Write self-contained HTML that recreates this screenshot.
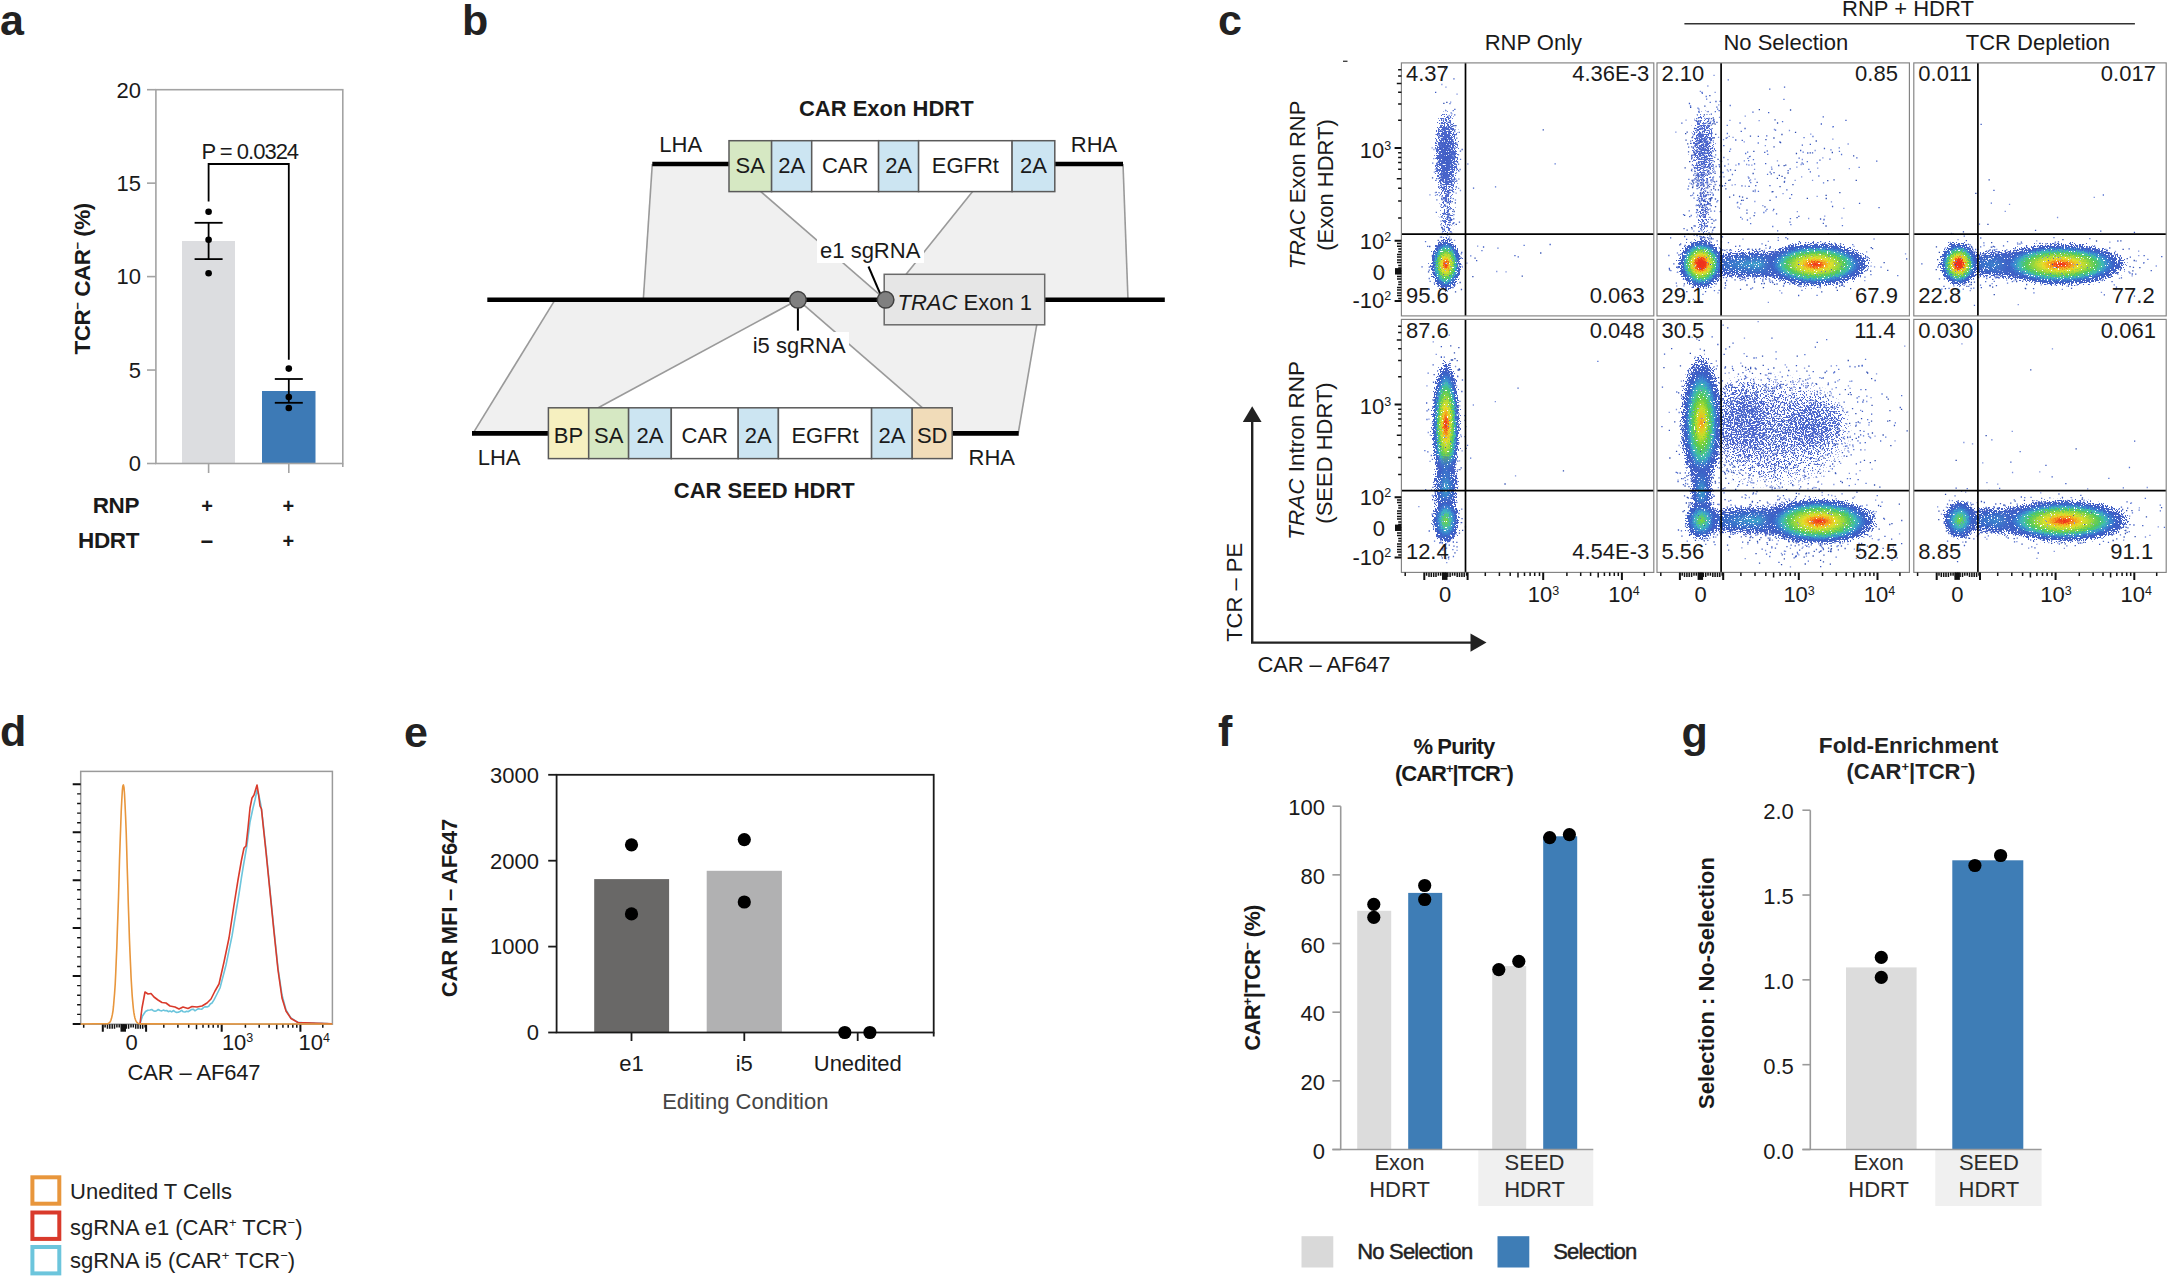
<!DOCTYPE html>
<html lang="en"><head><meta charset="utf-8"><title>Figure</title>
<style>
html,body{margin:0;padding:0;background:#fff;}
body{width:2168px;height:1276px;overflow:hidden;}
svg{display:block;font-family:"Liberation Sans", Arial, sans-serif;}
text{white-space:pre;}
</style></head><body>
<svg width="2168" height="1276" viewBox="0 0 2168 1276">
<rect width="2168" height="1276" fill="#fff"/>
<text x="0" y="34.6" font-size="43" text-anchor="start" font-weight="bold" fill="#222">a</text>
<text x="462" y="34.6" font-size="43" text-anchor="start" font-weight="bold" fill="#222">b</text>
<text x="1218" y="34.9" font-size="43" text-anchor="start" font-weight="bold" fill="#222">c</text>
<text x="0" y="746" font-size="43" text-anchor="start" font-weight="bold" fill="#222">d</text>
<text x="404" y="746.5" font-size="43" text-anchor="start" font-weight="bold" fill="#222">e</text>
<text x="1218" y="745.6" font-size="43" text-anchor="start" font-weight="bold" fill="#222">f</text>
<text x="1681.5" y="747" font-size="43" text-anchor="start" font-weight="bold" fill="#222">g</text>
<rect x="182" y="241" width="53" height="222.5" fill="#dcdde0" stroke="none" stroke-width="1"/>
<rect x="262" y="391" width="53.5" height="72.5" fill="#3d7ab6" stroke="none" stroke-width="1"/>
<rect x="155.9" y="89.7" width="186.9" height="373.8" fill="none" stroke="#a3a3a3" stroke-width="1.6"/>
<line x1="147" y1="463.5" x2="155.9" y2="463.5" stroke="#a3a3a3" stroke-width="1.6"/>
<text x="141" y="471.3" font-size="22" text-anchor="end" fill="#1a1a1a">0</text>
<line x1="147" y1="370.05" x2="155.9" y2="370.05" stroke="#a3a3a3" stroke-width="1.6"/>
<text x="141" y="377.85" font-size="22" text-anchor="end" fill="#1a1a1a">5</text>
<line x1="147" y1="276.6" x2="155.9" y2="276.6" stroke="#a3a3a3" stroke-width="1.6"/>
<text x="141" y="284.40000000000003" font-size="22" text-anchor="end" fill="#1a1a1a">10</text>
<line x1="147" y1="183.14999999999998" x2="155.9" y2="183.14999999999998" stroke="#a3a3a3" stroke-width="1.6"/>
<text x="141" y="190.95" font-size="22" text-anchor="end" fill="#1a1a1a">15</text>
<line x1="147" y1="89.69999999999999" x2="155.9" y2="89.69999999999999" stroke="#a3a3a3" stroke-width="1.6"/>
<text x="141" y="97.49999999999999" font-size="22" text-anchor="end" fill="#1a1a1a">20</text>
<line x1="208.6" y1="463.5" x2="208.6" y2="473" stroke="#a3a3a3" stroke-width="1.6"/>
<line x1="288.8" y1="463.5" x2="288.8" y2="473" stroke="#a3a3a3" stroke-width="1.6"/>
<line x1="342.8" y1="463.5" x2="342.8" y2="467" stroke="#a3a3a3" stroke-width="1.6"/>
<path d="M208.6 201.5V164H288.8V359.7" fill="none" stroke="#000" stroke-width="1.8"/>
<text x="249.8" y="158.6" font-size="22" text-anchor="middle" fill="#1a1a1a" letter-spacing="-1">P = 0.0324</text>
<line x1="208.6" y1="222.8" x2="208.6" y2="259.1" stroke="#000" stroke-width="1.8"/>
<line x1="194.6" y1="222.8" x2="222.6" y2="222.8" stroke="#000" stroke-width="1.8"/>
<line x1="194.6" y1="259.1" x2="222.6" y2="259.1" stroke="#000" stroke-width="1.8"/>
<line x1="288.8" y1="379" x2="288.8" y2="402.8" stroke="#000" stroke-width="1.8"/>
<line x1="274.8" y1="379" x2="302.8" y2="379" stroke="#000" stroke-width="1.8"/>
<line x1="274.8" y1="402.8" x2="302.8" y2="402.8" stroke="#000" stroke-width="1.8"/>
<circle cx="208.6" cy="211.7" r="3.3" fill="#000" stroke="none" stroke-width="1"/>
<circle cx="208.6" cy="239.8" r="3.3" fill="#000" stroke="none" stroke-width="1"/>
<circle cx="208.6" cy="273.3" r="3.3" fill="#000" stroke="none" stroke-width="1"/>
<circle cx="288.8" cy="368.6" r="3.3" fill="#000" stroke="none" stroke-width="1"/>
<circle cx="288.8" cy="397" r="3.3" fill="#000" stroke="none" stroke-width="1"/>
<circle cx="288.8" cy="408" r="3.3" fill="#000" stroke="none" stroke-width="1"/>
<text x="89.6" y="278.8" font-size="22.5" text-anchor="middle" font-weight="bold" fill="#1a1a1a" transform="rotate(-90 89.6 278.8)" letter-spacing="-0.5">TCR<tspan dy="-8" font-size="13">−</tspan><tspan dy="8"> CAR</tspan><tspan dy="-8" font-size="13">−</tspan><tspan dy="8"> (%)</tspan></text>
<text x="139" y="512.8" font-size="22.5" text-anchor="end" font-weight="bold" fill="#1a1a1a" letter-spacing="-0.4">RNP</text>
<text x="139" y="547.5" font-size="22.5" text-anchor="end" font-weight="bold" fill="#1a1a1a" letter-spacing="-0.4">HDRT</text>
<text x="207" y="512.5" font-size="20" text-anchor="middle" font-weight="bold" fill="#1a1a1a">+</text>
<text x="288.4" y="512.5" font-size="20" text-anchor="middle" font-weight="bold" fill="#1a1a1a">+</text>
<text x="207" y="549" font-size="22" text-anchor="middle" font-weight="bold" fill="#1a1a1a">−</text>
<text x="288.4" y="547.5" font-size="20" text-anchor="middle" font-weight="bold" fill="#1a1a1a">+</text>
<path d="M652.3 164H761V191.6L885.6 299.8H643.3Z" fill="#f0f0f0" stroke="none"/>
<path d="M1123 164H972.6V191.6L885.6 299.8H1128Z" fill="#f0f0f0" stroke="none"/>
<path d="M473 433.4L555 299.8H798L598.2 407.8V433.4Z" fill="#f0f0f0"/>
<path d="M1018.2 433.4L1041 299.8H798L922.5 407.8V433.4Z" fill="#f0f0f0"/>
<line x1="652.3" y1="164" x2="643.3" y2="299.8" stroke="#9a9a9a" stroke-width="1.6"/>
<line x1="1123" y1="164" x2="1128" y2="299.8" stroke="#9a9a9a" stroke-width="1.6"/>
<line x1="760.8" y1="191.6" x2="885.6" y2="299.8" stroke="#9a9a9a" stroke-width="1.6"/>
<line x1="972.6" y1="191.6" x2="885.6" y2="299.8" stroke="#9a9a9a" stroke-width="1.6"/>
<line x1="473" y1="433.4" x2="555" y2="299.8" stroke="#9a9a9a" stroke-width="1.6"/>
<line x1="598.2" y1="407.8" x2="798" y2="299.8" stroke="#9a9a9a" stroke-width="1.6"/>
<line x1="922.5" y1="407.8" x2="798" y2="299.8" stroke="#9a9a9a" stroke-width="1.6"/>
<line x1="1018.2" y1="433.4" x2="1041" y2="299.8" stroke="#9a9a9a" stroke-width="1.6"/>
<line x1="487.3" y1="299.8" x2="1164.8" y2="299.8" stroke="#000" stroke-width="4.6"/>
<rect x="884.2" y="274.3" width="160.5" height="50.5" fill="#e6e6e6" stroke="#6a6a6a" stroke-width="1.5"/>
<line x1="652.3" y1="164" x2="729" y2="164" stroke="#000" stroke-width="4.6"/>
<line x1="1054.8" y1="164" x2="1123" y2="164" stroke="#000" stroke-width="4.6"/>
<line x1="472" y1="433.4" x2="548.4" y2="433.4" stroke="#000" stroke-width="4.6"/>
<line x1="952.2" y1="433.4" x2="1018.7" y2="433.4" stroke="#000" stroke-width="4.6"/>
<rect x="729" y="140.7" width="42.60000000000002" height="50.900000000000006" fill="#d6e8c3" stroke="#5a5a5a" stroke-width="1.5"/>
<text x="750.3" y="172.5" font-size="22" text-anchor="middle" fill="#1a1a1a">SA</text>
<rect x="771.6" y="140.7" width="40.10000000000002" height="50.900000000000006" fill="#cce5f2" stroke="#5a5a5a" stroke-width="1.5"/>
<text x="791.6500000000001" y="172.5" font-size="22" text-anchor="middle" fill="#1a1a1a">2A</text>
<rect x="811.7" y="140.7" width="66.89999999999998" height="50.900000000000006" fill="#fff" stroke="#5a5a5a" stroke-width="1.5"/>
<text x="845.1500000000001" y="172.5" font-size="22" text-anchor="middle" fill="#1a1a1a">CAR</text>
<rect x="878.6" y="140.7" width="40.0" height="50.900000000000006" fill="#cce5f2" stroke="#5a5a5a" stroke-width="1.5"/>
<text x="898.6" y="172.5" font-size="22" text-anchor="middle" fill="#1a1a1a">2A</text>
<rect x="918.6" y="140.7" width="93.5" height="50.900000000000006" fill="#fff" stroke="#5a5a5a" stroke-width="1.5"/>
<text x="965.35" y="172.5" font-size="22" text-anchor="middle" fill="#1a1a1a">EGFRt</text>
<rect x="1012.1" y="140.7" width="42.69999999999993" height="50.900000000000006" fill="#cce5f2" stroke="#5a5a5a" stroke-width="1.5"/>
<text x="1033.45" y="172.5" font-size="22" text-anchor="middle" fill="#1a1a1a">2A</text>
<rect x="548.4" y="407.8" width="40.30000000000007" height="50.80000000000001" fill="#f6f0c0" stroke="#5a5a5a" stroke-width="1.5"/>
<text x="568.55" y="442.6" font-size="22" text-anchor="middle" fill="#1a1a1a">BP</text>
<rect x="588.7" y="407.8" width="39.89999999999998" height="50.80000000000001" fill="#d6e8c3" stroke="#5a5a5a" stroke-width="1.5"/>
<text x="608.6500000000001" y="442.6" font-size="22" text-anchor="middle" fill="#1a1a1a">SA</text>
<rect x="628.6" y="407.8" width="42.69999999999993" height="50.80000000000001" fill="#cce5f2" stroke="#5a5a5a" stroke-width="1.5"/>
<text x="649.95" y="442.6" font-size="22" text-anchor="middle" fill="#1a1a1a">2A</text>
<rect x="671.3" y="407.8" width="66.90000000000009" height="50.80000000000001" fill="#fff" stroke="#5a5a5a" stroke-width="1.5"/>
<text x="704.75" y="442.6" font-size="22" text-anchor="middle" fill="#1a1a1a">CAR</text>
<rect x="738.2" y="407.8" width="40.19999999999993" height="50.80000000000001" fill="#cce5f2" stroke="#5a5a5a" stroke-width="1.5"/>
<text x="758.3" y="442.6" font-size="22" text-anchor="middle" fill="#1a1a1a">2A</text>
<rect x="778.4" y="407.8" width="93.20000000000005" height="50.80000000000001" fill="#fff" stroke="#5a5a5a" stroke-width="1.5"/>
<text x="825.0" y="442.6" font-size="22" text-anchor="middle" fill="#1a1a1a">EGFRt</text>
<rect x="871.6" y="407.8" width="40.60000000000002" height="50.80000000000001" fill="#cce5f2" stroke="#5a5a5a" stroke-width="1.5"/>
<text x="891.9000000000001" y="442.6" font-size="22" text-anchor="middle" fill="#1a1a1a">2A</text>
<rect x="912.2" y="407.8" width="40.0" height="50.80000000000001" fill="#f1dcb9" stroke="#5a5a5a" stroke-width="1.5"/>
<text x="932.2" y="442.6" font-size="22" text-anchor="middle" fill="#1a1a1a">SD</text>
<text x="886.3" y="115.6" font-size="22" text-anchor="middle" font-weight="bold" fill="#1a1a1a">CAR Exon HDRT</text>
<text x="764.3" y="497.9" font-size="22" text-anchor="middle" font-weight="bold" fill="#1a1a1a">CAR SEED HDRT</text>
<text x="659.3" y="152.3" font-size="22" text-anchor="start" fill="#1a1a1a">LHA</text>
<text x="1070.8" y="152.3" font-size="22" text-anchor="start" fill="#1a1a1a">RHA</text>
<text x="477.7" y="464.8" font-size="22" text-anchor="start" fill="#1a1a1a">LHA</text>
<text x="968.5" y="464.8" font-size="22" text-anchor="start" fill="#1a1a1a">RHA</text>
<rect x="817" y="238" width="107" height="25" fill="#fff" stroke="none" stroke-width="1"/>
<text x="870.2" y="257.7" font-size="22" text-anchor="middle" fill="#1a1a1a">e1 sgRNA</text>
<line x1="868.5" y1="266.5" x2="881" y2="295.7" stroke="#000" stroke-width="2"/>
<rect x="749" y="332" width="100" height="26" fill="#fff" stroke="none" stroke-width="1"/>
<text x="799.2" y="352.8" font-size="22" text-anchor="middle" fill="#1a1a1a">i5 sgRNA</text>
<line x1="797.9" y1="299.8" x2="797.9" y2="330.6" stroke="#000" stroke-width="2"/>
<circle cx="797.9" cy="299.8" r="8.3" fill="#808080" stroke="#404040" stroke-width="1.5"/>
<circle cx="885.6" cy="299.8" r="8.3" fill="#808080" stroke="#404040" stroke-width="1.5"/>
<text x="897.5" y="309.5" font-size="22" fill="#1a1a1a"><tspan font-style="italic">TRAC</tspan> Exon 1</text>
<defs>
<radialGradient id="gHot"><stop offset="0" stop-color="#ee2a1c"/><stop offset=".09" stop-color="#f2541c"/><stop offset=".17" stop-color="#f5a21e"/><stop offset=".27" stop-color="#e4e02a"/><stop offset=".40" stop-color="#9fd83a"/><stop offset=".52" stop-color="#4fc860"/><stop offset=".61" stop-color="#3fbcb4"/><stop offset=".69" stop-color="#3a86d2"/><stop offset=".78" stop-color="#3c5fc6"/><stop offset=".88" stop-color="#4260c6" stop-opacity=".6"/><stop offset="1" stop-color="#4a63c8" stop-opacity="0"/></radialGradient>
<radialGradient id="gHotL"><stop offset="0" stop-color="#ee2a1c"/><stop offset=".2" stop-color="#f03a1c"/><stop offset=".28" stop-color="#f5a21e"/><stop offset=".36" stop-color="#e4e02a"/><stop offset=".46" stop-color="#9fd83a"/><stop offset=".55" stop-color="#4fc860"/><stop offset=".63" stop-color="#3fbcb4"/><stop offset=".7" stop-color="#3a86d2"/><stop offset=".78" stop-color="#3c5fc6"/><stop offset=".88" stop-color="#4260c6" stop-opacity=".6"/><stop offset="1" stop-color="#4a63c8" stop-opacity="0"/></radialGradient>
<radialGradient id="gMid"><stop offset="0" stop-color="#f0641e"/><stop offset=".07" stop-color="#f0b81e"/><stop offset=".2" stop-color="#c8e028"/><stop offset=".36" stop-color="#5fcb46"/><stop offset=".5" stop-color="#3fc0a8"/><stop offset=".6" stop-color="#3a8fd2"/><stop offset=".7" stop-color="#3c5fc6"/><stop offset=".84" stop-color="#4260c6" stop-opacity=".6"/><stop offset="1" stop-color="#4a63c8" stop-opacity="0"/></radialGradient>
<radialGradient id="gWarm"><stop offset="0" stop-color="#7fd63c"/><stop offset=".2" stop-color="#55c878"/><stop offset=".38" stop-color="#3fb4c4"/><stop offset=".55" stop-color="#3a7fd0"/><stop offset=".72" stop-color="#3c5fc6"/><stop offset=".86" stop-color="#4260c6" stop-opacity=".6"/><stop offset="1" stop-color="#4a63c8" stop-opacity="0"/></radialGradient>
<radialGradient id="gCyan"><stop offset="0" stop-color="#40a8cc" stop-opacity=".9"/><stop offset=".35" stop-color="#3a78cc" stop-opacity=".85"/><stop offset=".65" stop-color="#3c5fc6" stop-opacity=".75"/><stop offset=".85" stop-color="#4a63c8" stop-opacity=".5"/><stop offset="1" stop-color="#4a63c8" stop-opacity="0"/></radialGradient>
<radialGradient id="gBlue"><stop offset="0" stop-color="#3f5cc4" stop-opacity=".85"/><stop offset=".5" stop-color="#4562c8" stop-opacity=".7"/><stop offset=".8" stop-color="#506ad0" stop-opacity=".4"/><stop offset="1" stop-color="#506ad0" stop-opacity="0"/></radialGradient>
<radialGradient id="gFaint"><stop offset="0" stop-color="#4a66cc" stop-opacity=".46"/><stop offset=".6" stop-color="#506ad0" stop-opacity=".31"/><stop offset="1" stop-color="#506ad0" stop-opacity="0"/></radialGradient>
<filter id="grain" x="-5%" y="-5%" width="110%" height="110%" color-interpolation-filters="sRGB">
<feTurbulence type="fractalNoise" baseFrequency="0.85" numOctaves="1" seed="3" result="n"/>
<feDisplacementMap in="SourceGraphic" in2="n" scale="8" xChannelSelector="R" yChannelSelector="G" result="d"/>
<feTurbulence type="fractalNoise" baseFrequency="0.7" numOctaves="2" seed="11" result="n2"/>
<feColorMatrix in="n2" type="matrix" values="0 0 0 0 0  0 0 0 0 0  0 0 0 0 0  0 0 2.6 0 -0.8" result="na"/>
<feColorMatrix in="d" type="matrix" values="0 0 0 0 0  0 0 0 0 0  0 0 0 0 0  0 0 0 1 0" result="sa"/>
<feComposite in="sa" in2="na" operator="arithmetic" k1="0" k2="1" k3="1" k4="-1" result="sum"/>
<feComponentTransfer in="sum" result="mask"><feFuncA type="linear" slope="40" intercept="0"/></feComponentTransfer>
<feComposite in="d" in2="mask" operator="in" result="m"/>
<feComponentTransfer in="m"><feFuncA type="linear" slope="5" intercept="0"/></feComponentTransfer>
</filter>
</defs>
<g>
<path d="M1442.1 228.6h1.3M1450.8 182.5h1.3M1440.1 144.1h1.3M1453.3 147.9h1.3M1451.9 188.9h1.3M1443.5 128.8h1.3M1444.9 150.9h1.3M1453.4 155.2h1.3M1445.3 165.1h1.3M1436.5 163.2h1.3M1451.3 183.8h1.3M1446.7 136.1h1.3M1448.7 186.7h1.3M1449.0 192.8h1.3M1437.0 162.8h1.3M1436.0 167.7h1.3M1457.9 164.1h1.3M1438.6 151.6h1.3M1454.2 125.6h1.3M1436.1 164.8h1.3M1447.1 145.9h1.3M1446.4 178.8h1.3M1438.1 156.3h1.3M1448.3 146.0h1.3M1439.8 148.6h1.3M1445.5 147.2h1.3M1447.7 142.1h1.3M1446.3 162.7h1.3M1456.2 168.9h1.3M1453.3 78.8h1.3M1441.4 171.4h1.3M1438.3 134.7h1.3M1446.5 202.9h1.3M1455.6 134.6h1.3M1445.9 158.0h1.3M1446.3 127.2h1.3M1439.3 164.3h1.3M1461.5 149.5h1.3M1440.9 170.6h1.3M1456.1 138.2h1.3M1447.9 131.1h1.3M1442.2 174.4h1.3M1454.1 114.9h1.3M1453.8 151.9h1.3M1451.2 154.5h1.3M1447.0 172.6h1.3M1456.1 180.8h1.3M1447.4 139.4h1.3M1445.4 145.9h1.3M1442.9 169.9h1.3M1450.6 149.5h1.3M1452.4 139.8h1.3M1452.3 171.1h1.3M1448.1 159.6h1.3M1442.6 175.7h1.3M1451.3 147.9h1.3M1451.5 180.5h1.3M1435.4 169.0h1.3M1446.4 167.4h1.3M1459.8 151.2h1.3M1446.1 168.7h1.3M1439.3 131.2h1.3M1441.7 157.0h1.3M1435.0 92.4h1.3M1454.2 109.3h1.3M1449.8 144.7h1.3M1441.6 164.2h1.3M1472.9 188.1h1.3M1444.2 155.1h1.3M1443.1 134.4h1.3M1439.9 182.4h1.3M1443.9 245.4h1.3M1452.6 209.7h1.3M1441.4 196.9h1.3M1453.1 218.8h1.3M1443.8 212.6h1.3M1440.9 237.2h1.3M1447.9 191.7h1.3M1448.7 214.0h1.3M1447.9 199.3h1.3M1440.7 204.8h1.3M1450.6 239.5h1.3M1442.8 221.4h1.3M1449.3 222.4h1.3M1445.5 193.9h1.3M1443.7 221.0h1.3M1447.0 251.8h1.3M1447.0 219.1h1.3M1440.8 216.8h1.3M1447.6 216.2h1.3M1444.4 189.0h1.3M1450.8 255.4h1.3M1449.6 220.5h1.3M1458.8 222.2h1.3M1452.5 249.9h1.3M1446.4 261.2h1.3M1442.7 285.4h1.3M1454.7 276.2h1.3M1421.4 266.8h1.3M1461.1 252.5h1.3M1449.8 262.1h1.3M1443.5 271.8h1.3M1448.0 276.8h1.3M1440.2 268.5h1.3M1451.3 252.3h1.3M1451.5 257.3h1.3M1438.8 274.1h1.3M1433.6 259.1h1.3M1451.0 263.9h1.3M1444.5 246.6h1.3M1445.8 277.1h1.3M1446.9 271.0h1.3M1437.5 266.2h1.3M1445.0 262.7h1.3M1447.2 256.8h1.3M1449.9 283.3h1.3M1445.5 250.4h1.3M1450.1 251.4h1.3M1446.0 272.2h1.3M1414.1 290.4h1.3M1449.1 275.5h1.3M1428.9 267.1h1.3M1457.4 261.4h1.3M1460.8 289.5h1.3M1437.6 252.2h1.3M1451.6 254.4h1.3M1446.7 267.5h1.3M1435.5 272.3h1.3M1436.2 264.6h1.3M1437.7 266.5h1.3M1440.0 254.6h1.3M1444.3 258.3h1.3M1433.3 270.9h1.3M1448.2 262.2h1.3M1447.3 264.6h1.3M1460.6 257.9h1.3M1441.2 265.9h1.3M1454.7 249.1h1.3M1448.2 254.5h1.3M1433.3 252.0h1.3M1447.0 257.0h1.3M1440.5 277.4h1.3M1453.7 264.0h1.3M1430.5 266.5h1.3M1453.4 250.3h1.3M1455.4 270.4h1.3M1450.1 266.9h1.3M1438.6 256.9h1.3M1432.4 272.9h1.3M1428.6 270.1h1.3M1454.3 284.9h1.3M1449.1 260.7h1.3M1431.8 255.3h1.3M1444.6 256.0h1.3M1514.3 255.7h1.3M1476.0 260.6h1.3M1517.6 256.8h1.3M1549.5 244.5h1.3M1482.9 247.0h1.3" stroke="#3f5cc4" stroke-width="1.3" fill="none"/>
<path d="M1443.2 172.9h1.3M1453.6 162.0h1.3M1440.6 138.4h1.3M1446.8 144.3h1.3M1450.0 154.0h1.3M1442.0 143.4h1.3M1444.5 151.4h1.3M1440.8 160.7h1.3M1451.5 144.6h1.3M1440.5 130.8h1.3M1450.5 112.8h1.3M1452.3 151.0h1.3M1445.8 142.2h1.3M1443.1 137.7h1.3M1450.7 156.5h1.3M1450.8 161.0h1.3M1452.6 110.7h1.3M1447.0 143.3h1.3M1438.0 170.4h1.3M1458.6 132.3h1.3M1442.0 172.1h1.3M1449.3 103.7h1.3M1449.3 147.6h1.3M1444.0 157.2h1.3M1444.5 213.9h1.3M1447.3 147.6h1.3M1451.0 148.8h1.3M1451.4 154.0h1.3M1456.9 162.0h1.3M1451.9 153.8h1.3M1452.3 155.3h1.3M1454.5 152.3h1.3M1459.5 169.5h1.3M1450.9 168.5h1.3M1444.8 175.7h1.3M1452.6 191.6h1.3M1445.2 110.6h1.3M1450.4 127.4h1.3M1437.9 144.8h1.3M1447.4 201.4h1.3M1447.4 122.1h1.3M1440.6 125.4h1.3M1449.3 155.9h1.3M1452.8 156.9h1.3M1454.1 131.5h1.3M1443.6 133.8h1.3M1448.1 146.8h1.3M1449.9 123.9h1.3M1432.1 163.1h1.3M1440.3 148.7h1.3M1453.5 157.3h1.3M1441.8 152.1h1.3M1444.8 167.4h1.3M1438.4 192.7h1.3M1438.4 186.8h1.3M1451.8 179.8h1.3M1443.0 140.4h1.3M1441.6 217.1h1.3M1445.4 180.2h1.3M1441.7 160.8h1.3M1445.9 127.1h1.3M1442.1 158.4h1.3M1453.4 180.9h1.3M1447.7 159.8h1.3M1437.6 178.6h1.3M1444.0 68.3h1.3M1455.1 179.2h1.3M1436.2 199.8h1.3M1447.2 149.1h1.3M1449.9 117.6h1.3M1439.9 156.0h1.3M1438.3 161.6h1.3M1447.9 176.5h1.3M1446.9 178.9h1.3M1443.4 181.1h1.3M1459.9 159.4h1.3M1452.9 222.8h1.3M1452.1 147.2h1.3M1447.7 182.3h1.3M1438.7 135.8h1.3M1449.1 121.1h1.3M1444.6 149.2h1.3M1446.6 160.6h1.3M1440.9 146.3h1.3M1448.0 217.2h1.3M1436.6 194.7h1.3M1449.4 224.6h1.3M1447.1 181.0h1.3M1452.6 198.7h1.3M1449.6 222.4h1.3M1444.4 200.5h1.3M1442.6 198.7h1.3M1447.0 174.7h1.3M1444.7 244.8h1.3M1443.8 186.4h1.3M1435.7 212.3h1.3M1441.1 199.3h1.3M1446.3 217.4h1.3M1442.4 178.3h1.3M1445.9 219.4h1.3M1446.0 183.2h1.3M1444.9 233.6h1.3M1443.3 220.8h1.3M1447.4 215.4h1.3M1447.9 214.4h1.3M1453.2 214.7h1.3M1443.7 252.6h1.3M1452.0 223.9h1.3M1446.7 226.1h1.3M1448.7 229.6h1.3M1450.3 197.8h1.3M1443.0 206.3h1.3M1441.7 227.9h1.3M1444.8 205.5h1.3M1446.5 208.6h1.3M1444.3 214.3h1.3M1438.8 281.1h1.3M1446.1 265.0h1.3M1441.7 260.8h1.3M1451.3 260.8h1.3M1447.6 274.2h1.3M1433.8 283.0h1.3M1441.8 273.8h1.3M1438.2 248.7h1.3M1444.4 286.1h1.3M1440.0 257.1h1.3M1451.9 280.8h1.3M1445.0 250.6h1.3M1452.6 248.5h1.3M1440.0 255.2h1.3M1455.6 268.3h1.3M1441.8 233.2h1.3M1429.5 281.3h1.3M1455.0 258.5h1.3M1437.9 248.2h1.3M1439.4 266.6h1.3M1447.6 250.0h1.3M1445.9 270.4h1.3M1440.0 260.9h1.3M1447.8 277.5h1.3M1438.4 283.4h1.3M1442.4 258.7h1.3M1424.9 241.6h1.3M1453.7 271.7h1.3M1458.6 266.7h1.3M1437.1 280.5h1.3M1440.6 271.6h1.3M1427.0 246.4h1.3M1437.2 278.2h1.3M1443.2 273.6h1.3M1444.8 271.3h1.3M1447.5 256.1h1.3M1440.5 264.1h1.3M1448.8 239.2h1.3M1428.6 278.5h1.3M1445.8 268.0h1.3M1470.1 255.8h1.3M1452.4 274.9h1.3M1460.6 253.9h1.3M1452.9 262.4h1.3M1434.8 267.0h1.3M1439.5 282.9h1.3M1443.6 248.3h1.3M1439.8 259.7h1.3M1436.3 247.6h1.3M1440.2 268.6h1.3M1448.5 253.3h1.3M1448.0 281.0h1.3M1451.3 251.3h1.3M1497.3 248.2h1.3M1523.5 245.4h1.3M1481.3 250.7h1.3M1494.9 186.9h1.3M1554.5 163.9h1.3" stroke="#5573d2" stroke-width="1.3" fill="none"/>
<path d="M1444.9 139.4h1.3M1442.5 156.7h1.3M1448.9 155.4h1.3M1445.0 183.0h1.3M1452.6 171.7h1.3M1455.3 125.7h1.3M1437.8 161.2h1.3M1445.7 172.2h1.3M1439.0 144.8h1.3M1443.6 148.2h1.3M1451.2 172.2h1.3M1450.8 219.5h1.3M1444.7 138.8h1.3M1435.3 148.7h1.3M1445.8 197.8h1.3M1431.9 177.8h1.3M1452.3 175.4h1.3M1451.7 140.1h1.3M1447.6 149.9h1.3M1441.5 156.9h1.3M1442.4 165.7h1.3M1455.1 144.0h1.3M1444.1 172.4h1.3M1451.6 171.5h1.3M1440.5 178.8h1.3M1449.4 155.7h1.3M1452.1 126.3h1.3M1448.1 179.4h1.3M1442.3 157.9h1.3M1447.0 154.1h1.3M1453.1 129.7h1.3M1452.6 158.5h1.3M1440.8 144.4h1.3M1448.0 161.8h1.3M1446.4 168.1h1.3M1447.9 149.3h1.3M1449.6 164.8h1.3M1448.7 158.6h1.3M1444.0 138.6h1.3M1454.6 156.5h1.3M1448.9 163.0h1.3M1449.7 153.8h1.3M1446.6 156.6h1.3M1443.2 103.4h1.3M1455.1 157.6h1.3M1446.0 166.2h1.3M1444.0 146.8h1.3M1441.2 166.7h1.3M1436.0 171.1h1.3M1449.6 181.5h1.3M1443.2 198.6h1.3M1439.6 149.0h1.3M1437.9 158.3h1.3M1440.7 174.5h1.3M1453.0 162.8h1.3M1442.9 118.9h1.3M1444.6 142.2h1.3M1447.0 176.2h1.3M1435.5 192.4h1.3M1446.6 159.6h1.3M1446.2 102.3h1.3M1445.6 199.1h1.3M1441.9 143.4h1.3M1447.4 136.6h1.3M1440.7 147.7h1.3M1453.3 179.5h1.3M1444.6 142.9h1.3M1442.3 170.3h1.3M1443.2 189.0h1.3M1445.3 160.5h1.3M1449.6 208.9h1.3M1441.8 199.6h1.3M1449.5 215.3h1.3M1451.2 219.6h1.3M1452.7 245.1h1.3M1451.5 201.7h1.3M1441.1 227.5h1.3M1453.5 211.5h1.3M1445.2 233.7h1.3M1437.7 173.2h1.3M1447.3 213.1h1.3M1440.4 185.1h1.3M1455.6 224.4h1.3M1448.1 202.6h1.3M1454.5 267.1h1.3M1447.1 217.9h1.3M1455.7 187.0h1.3M1442.5 175.9h1.3M1454.7 202.8h1.3M1446.7 206.3h1.3M1450.1 190.2h1.3M1443.9 275.7h1.3M1452.0 265.7h1.3M1458.8 271.0h1.3M1442.6 240.6h1.3M1429.1 246.5h1.3M1435.7 273.2h1.3M1451.8 253.9h1.3M1450.1 276.6h1.3M1442.3 229.6h1.3M1428.7 289.2h1.3M1459.5 282.5h1.3M1442.6 250.0h1.3M1443.3 246.6h1.3M1436.3 245.6h1.3M1437.6 250.3h1.3M1445.1 277.0h1.3M1458.7 264.8h1.3M1438.6 279.2h1.3M1441.8 254.0h1.3M1447.6 260.9h1.3M1446.8 257.4h1.3M1446.7 269.3h1.3M1437.6 240.4h1.3M1438.1 242.9h1.3M1448.3 264.9h1.3M1437.5 286.4h1.3M1444.3 276.0h1.3M1431.8 256.3h1.3M1440.2 276.4h1.3M1439.5 264.2h1.3M1442.5 274.3h1.3M1443.4 263.2h1.3M1455.9 254.6h1.3M1448.9 259.3h1.3M1440.2 260.6h1.3M1427.9 271.8h1.3M1459.1 256.7h1.3M1445.2 268.8h1.3M1451.2 249.0h1.3M1440.6 266.3h1.3M1442.6 265.8h1.3M1446.7 255.0h1.3M1447.7 272.1h1.3M1472.2 276.7h1.3M1441.2 259.7h1.3M1445.0 259.0h1.3M1452.3 287.5h1.3M1454.9 291.8h1.3M1457.1 257.1h1.3M1441.9 268.4h1.3M1445.6 273.1h1.3M1449.1 261.7h1.3M1441.8 268.3h1.3M1432.7 272.4h1.3M1474.4 258.1h1.3M1521.6 276.1h1.3M1540.1 253.0h1.3M1542.6 129.8h1.3" stroke="#2f4db0" stroke-width="1.3" fill="none"/>
<path d="M1450.5 164.4h1.3M1447.6 129.2h1.3M1433.3 149.5h1.3M1443.2 178.3h1.3M1455.8 172.9h1.3M1434.8 192.6h1.3M1441.2 84.5h1.3M1433.7 172.1h1.3M1441.2 173.5h1.3M1454.9 148.1h1.3M1455.5 193.2h1.3M1457.9 154.9h1.3M1448.1 146.6h1.3M1448.6 115.5h1.3M1459.8 190.5h1.3M1455.0 163.9h1.3M1447.7 144.2h1.3M1431.5 147.8h1.3M1446.9 134.9h1.3M1454.1 134.9h1.3M1442.8 185.8h1.3M1443.9 131.2h1.3M1454.8 200.0h1.3M1449.4 220.9h1.3M1450.0 181.4h1.3M1446.0 171.5h1.3M1439.7 175.9h1.3M1458.2 179.0h1.3M1467.2 164.0h1.3M1442.1 154.5h1.3M1441.5 156.2h1.3M1455.8 187.7h1.3M1441.9 130.7h1.3M1444.4 161.6h1.3M1442.7 161.7h1.3M1446.2 158.8h1.3M1446.1 169.1h1.3M1440.7 123.4h1.3M1447.3 116.5h1.3M1458.3 171.3h1.3M1452.5 151.5h1.3M1445.1 149.8h1.3M1445.3 87.1h1.3M1445.8 168.0h1.3M1433.1 158.6h1.3M1446.9 158.2h1.3M1446.4 167.4h1.3M1446.0 149.8h1.3M1442.4 168.6h1.3M1444.8 149.8h1.3M1454.6 129.7h1.3M1458.0 188.4h1.3M1451.2 177.5h1.3M1434.9 195.4h1.3M1456.1 143.0h1.3M1440.8 135.2h1.3M1451.9 159.3h1.3M1450.4 163.7h1.3M1450.5 167.0h1.3M1449.9 153.3h1.3M1444.4 172.5h1.3M1455.8 165.5h1.3M1456.4 94.1h1.3M1436.2 141.5h1.3M1438.9 195.7h1.3M1441.7 196.0h1.3M1453.0 163.0h1.3M1451.1 160.8h1.3M1444.8 129.5h1.3M1450.0 102.2h1.3M1429.3 194.9h1.3M1448.0 170.2h1.3M1451.2 113.8h1.3M1447.9 161.0h1.3M1442.4 137.5h1.3M1435.7 180.1h1.3M1449.0 209.0h1.3M1440.6 185.5h1.3M1444.4 205.0h1.3M1448.3 224.4h1.3M1444.7 199.0h1.3M1440.4 224.8h1.3M1440.3 221.1h1.3M1451.6 184.8h1.3M1449.0 218.8h1.3M1451.8 260.7h1.3M1443.8 200.1h1.3M1446.8 235.2h1.3M1446.5 195.6h1.3M1451.0 233.0h1.3M1448.9 237.0h1.3M1441.5 199.6h1.3M1449.0 222.3h1.3M1453.4 222.7h1.3M1446.8 210.9h1.3M1446.7 192.8h1.3M1446.0 199.2h1.3M1439.8 237.1h1.3M1453.0 192.2h1.3M1447.2 246.9h1.3M1455.2 264.8h1.3M1440.9 241.5h1.3M1440.7 255.6h1.3M1442.3 261.2h1.3M1461.6 266.4h1.3M1441.6 266.0h1.3M1451.9 264.7h1.3M1442.7 247.9h1.3M1441.0 247.6h1.3M1450.6 258.5h1.3M1442.2 263.7h1.3M1454.2 265.5h1.3M1451.2 271.4h1.3M1466.3 263.2h1.3M1450.0 247.2h1.3M1439.0 279.2h1.3M1457.9 262.3h1.3M1449.0 257.8h1.3M1443.3 270.6h1.3M1428.6 267.2h1.3M1449.7 274.1h1.3M1447.2 259.0h1.3M1446.4 260.8h1.3M1447.8 266.9h1.3M1436.8 252.4h1.3M1448.7 283.1h1.3M1447.1 251.0h1.3M1444.6 265.1h1.3M1446.7 270.9h1.3M1445.5 259.0h1.3M1438.0 293.4h1.3M1438.4 278.6h1.3M1432.2 267.7h1.3M1443.6 289.5h1.3M1444.0 268.9h1.3M1444.9 268.6h1.3M1445.0 263.5h1.3M1453.2 254.0h1.3M1439.2 277.1h1.3M1451.0 255.1h1.3M1450.4 269.3h1.3M1455.6 269.6h1.3M1435.4 257.1h1.3M1447.2 261.0h1.3M1438.3 266.7h1.3M1449.5 232.2h1.3M1452.1 249.1h1.3M1441.7 267.2h1.3M1445.6 270.6h1.3M1452.9 279.0h1.3M1449.3 277.2h1.3M1453.9 240.4h1.3M1477.0 246.1h1.3M1505.4 271.8h1.3M1496.1 271.5h1.3" stroke="#7f93dd" stroke-width="1.3" fill="none"/>
<g filter="url(#grain)">
<ellipse cx="1446.4" cy="155.9" rx="13" ry="48" fill="url(#gBlue)"/>
<ellipse cx="1446.4" cy="155.9" rx="8" ry="30" fill="url(#gBlue)"/>
<ellipse cx="1446.9" cy="212.9" rx="8" ry="30" fill="url(#gFaint)"/>
<ellipse cx="1445.9" cy="264.4" rx="16" ry="27" fill="url(#gHot)"/>
</g>
<line x1="1465.5" y1="62.9" x2="1465.5" y2="315.9" stroke="#000" stroke-width="1.7"/>
<line x1="1401.4" y1="234.1" x2="1653.8000000000002" y2="234.1" stroke="#000" stroke-width="1.7"/>
<rect x="1401.4" y="62.9" width="252.4" height="253.0" fill="none" stroke="#828282" stroke-width="1.15"/>
<text x="1405.9" y="81.1" font-size="22" text-anchor="start" fill="#1a1a1a">4.37</text>
<text x="1649.3000000000002" y="81.1" font-size="22" text-anchor="end" fill="#1a1a1a">4.36E-3</text>
<text x="1405.9" y="302.59999999999997" font-size="22" text-anchor="start" fill="#1a1a1a">95.6</text>
<text x="1644.8000000000002" y="302.59999999999997" font-size="22" text-anchor="end" fill="#1a1a1a">0.063</text>
</g>
<g>
<path d="M1699.1 198.6h1.3M1707.0 143.4h1.3M1703.7 140.4h1.3M1697.2 140.8h1.3M1690.8 183.8h1.3M1718.5 110.6h1.3M1701.9 159.2h1.3M1698.2 111.5h1.3M1706.3 181.0h1.3M1707.4 126.0h1.3M1712.6 172.2h1.3M1687.6 234.1h1.3M1702.6 153.8h1.3M1698.7 201.0h1.3M1710.0 142.9h1.3M1695.7 144.0h1.3M1708.9 186.6h1.3M1707.9 120.9h1.3M1706.1 178.6h1.3M1715.3 101.5h1.3M1718.9 166.4h1.3M1697.0 195.3h1.3M1703.2 165.9h1.3M1705.8 146.9h1.3M1700.0 185.6h1.3M1697.9 197.8h1.3M1707.5 202.6h1.3M1702.5 149.5h1.3M1716.3 122.3h1.3M1714.9 150.6h1.3M1697.2 151.7h1.3M1706.6 182.0h1.3M1712.2 160.6h1.3M1708.3 174.4h1.3M1700.5 195.0h1.3M1701.2 148.0h1.3M1706.2 138.4h1.3M1697.7 134.9h1.3M1704.9 167.0h1.3M1723.2 145.6h1.3M1700.8 184.1h1.3M1704.5 196.6h1.3M1701.4 92.4h1.3M1709.3 184.4h1.3M1688.8 103.5h1.3M1703.7 141.8h1.3M1700.9 163.2h1.3M1707.4 111.7h1.3M1711.2 180.1h1.3M1704.2 161.9h1.3M1713.0 119.4h1.3M1690.3 195.7h1.3M1711.4 133.2h1.3M1705.1 157.5h1.3M1712.6 120.7h1.3M1716.2 107.1h1.3M1707.7 166.6h1.3M1703.1 163.9h1.3M1710.3 211.1h1.3M1681.2 123.1h1.3M1711.5 197.9h1.3M1703.1 144.9h1.3M1696.1 164.5h1.3M1713.1 188.5h1.3M1710.8 118.6h1.3M1710.6 197.7h1.3M1719.5 101.3h1.3M1698.4 147.6h1.3M1692.0 136.9h1.3M1719.2 176.9h1.3M1712.6 151.2h1.3M1696.3 129.9h1.3M1688.0 147.2h1.3M1709.3 160.2h1.3M1702.2 184.4h1.3M1713.6 121.3h1.3M1708.4 118.5h1.3M1710.7 114.1h1.3M1696.4 150.0h1.3M1711.5 223.3h1.3M1700.8 189.5h1.3M1702.8 196.1h1.3M1712.6 181.1h1.3M1697.3 138.4h1.3M1701.4 129.4h1.3M1708.0 165.7h1.3M1693.7 152.2h1.3M1693.4 159.9h1.3M1707.2 172.2h1.3M1700.8 175.5h1.3M1690.9 170.6h1.3M1702.9 154.0h1.3M1701.2 141.9h1.3M1706.2 226.7h1.3M1693.5 225.8h1.3M1719.6 211.7h1.3M1689.1 216.7h1.3M1697.8 204.9h1.3M1696.6 200.3h1.3M1696.4 235.7h1.3M1701.2 227.6h1.3M1698.9 215.3h1.3M1703.9 210.7h1.3M1706.1 225.8h1.3M1694.3 225.8h1.3M1699.2 253.5h1.3M1692.9 193.2h1.3M1702.3 205.7h1.3M1696.8 210.0h1.3M1702.9 186.1h1.3M1709.6 194.7h1.3M1706.3 194.7h1.3M1708.4 232.8h1.3M1694.8 243.6h1.3M1696.3 182.1h1.3M1714.8 199.0h1.3M1702.5 209.3h1.3M1701.5 179.9h1.3M1710.6 205.6h1.3M1709.0 254.2h1.3M1699.4 202.2h1.3M1686.0 239.3h1.3M1707.1 192.6h1.3M1706.9 247.5h1.3M1727.9 260.3h1.3M1705.1 271.4h1.3M1708.9 273.4h1.3M1705.3 261.5h1.3M1673.2 263.8h1.3M1693.1 256.6h1.3M1717.2 275.6h1.3M1688.2 280.7h1.3M1686.2 253.8h1.3M1724.6 270.4h1.3M1694.1 301.0h1.3M1704.9 291.7h1.3M1707.5 281.9h1.3M1725.6 277.7h1.3M1700.5 229.8h1.3M1709.1 267.5h1.3M1712.1 263.3h1.3M1724.5 268.3h1.3M1697.2 264.8h1.3M1702.2 245.8h1.3M1709.4 236.0h1.3M1686.7 246.7h1.3M1702.2 260.2h1.3M1700.4 272.0h1.3M1668.7 268.5h1.3M1701.8 263.4h1.3M1678.3 255.0h1.3M1683.4 228.6h1.3M1689.4 260.2h1.3M1709.2 269.3h1.3M1701.2 262.3h1.3M1719.3 252.5h1.3M1722.1 250.0h1.3M1706.9 237.6h1.3M1690.5 269.7h1.3M1713.3 258.5h1.3M1695.5 256.0h1.3M1697.9 249.4h1.3M1699.4 268.7h1.3M1696.0 262.7h1.3M1713.5 256.6h1.3M1681.3 271.6h1.3M1696.0 254.0h1.3M1703.9 259.4h1.3M1676.4 267.0h1.3M1690.4 276.6h1.3M1698.2 277.3h1.3M1691.7 251.6h1.3M1694.9 266.5h1.3M1716.2 257.0h1.3M1725.0 285.3h1.3M1692.9 264.9h1.3M1684.5 245.5h1.3M1688.7 247.2h1.3M1715.3 265.4h1.3M1722.6 260.2h1.3M1691.1 271.0h1.3M1707.3 271.8h1.3M1721.1 259.5h1.3M1728.3 273.8h1.3M1728.6 257.7h1.3M1707.6 244.8h1.3M1698.8 259.0h1.3M1714.5 251.1h1.3M1691.6 287.4h1.3M1716.5 240.8h1.3M1699.4 252.9h1.3M1708.4 238.5h1.3M1707.4 264.7h1.3M1704.0 269.1h1.3M1670.0 237.9h1.3M1703.4 254.1h1.3M1700.5 260.4h1.3M1717.7 270.5h1.3M1692.6 266.1h1.3M1702.0 257.3h1.3M1691.1 253.4h1.3M1719.2 272.1h1.3M1694.3 242.9h1.3M1685.1 268.5h1.3M1693.2 245.2h1.3M1861.2 265.7h1.3M1825.8 249.3h1.3M1810.2 282.5h1.3M1819.7 260.1h1.3M1803.1 253.6h1.3M1830.0 270.4h1.3M1817.8 266.2h1.3M1805.0 253.7h1.3M1716.5 240.8h1.3M1849.2 257.0h1.3M1852.7 276.6h1.3M1832.0 278.1h1.3M1753.6 265.5h1.3M1835.6 287.5h1.3M1827.5 256.4h1.3M1835.0 277.1h1.3M1771.2 263.3h1.3M1857.6 261.6h1.3M1798.4 286.1h1.3M1805.1 264.4h1.3M1818.8 271.3h1.3M1833.7 276.4h1.3M1785.1 254.2h1.3M1762.5 258.7h1.3M1853.0 252.0h1.3M1776.6 264.7h1.3M1864.1 266.6h1.3M1761.0 283.7h1.3M1833.2 279.3h1.3M1820.9 271.0h1.3M1792.0 266.7h1.3M1845.3 259.6h1.3M1735.0 246.3h1.3M1823.3 267.8h1.3M1759.5 261.1h1.3M1815.3 250.2h1.3M1805.9 263.4h1.3M1829.0 264.1h1.3M1867.4 257.7h1.3M1747.0 265.5h1.3M1827.6 270.0h1.3M1786.9 248.2h1.3M1793.5 265.1h1.3M1816.3 279.6h1.3M1851.4 260.0h1.3M1843.7 255.6h1.3M1823.8 261.2h1.3M1793.5 281.8h1.3M1787.7 268.2h1.3M1817.4 277.6h1.3M1807.5 255.9h1.3M1785.0 248.0h1.3M1798.0 295.5h1.3M1834.2 262.5h1.3M1792.7 254.3h1.3M1773.3 263.3h1.3M1832.2 276.8h1.3M1827.3 275.9h1.3M1776.3 260.0h1.3M1830.8 257.8h1.3M1906.0 258.9h1.3M1770.8 268.4h1.3M1791.0 260.0h1.3M1803.6 284.2h1.3M1739.6 275.4h1.3M1778.1 263.9h1.3M1764.0 271.3h1.3M1819.2 266.4h1.3M1712.8 255.0h1.3M1774.8 259.6h1.3M1729.8 249.6h1.3M1820.9 244.7h1.3M1828.4 271.0h1.3M1841.0 262.7h1.3M1793.5 256.9h1.3M1832.7 267.0h1.3M1781.4 261.8h1.3M1776.4 284.0h1.3M1837.1 274.7h1.3M1809.9 245.3h1.3M1782.9 286.0h1.3M1838.1 277.5h1.3M1843.5 286.4h1.3M1827.4 249.4h1.3M1871.9 248.7h1.3M1789.2 279.4h1.3M1827.9 272.6h1.3M1857.5 267.0h1.3M1790.7 282.2h1.3M1739.1 246.0h1.3M1825.3 271.7h1.3M1771.6 281.2h1.3M1804.5 275.0h1.3M1801.0 257.7h1.3M1771.8 269.4h1.3M1743.9 272.7h1.3M1800.3 258.2h1.3M1845.8 269.9h1.3M1824.2 269.8h1.3M1845.1 264.0h1.3M1827.0 273.4h1.3M1798.3 269.6h1.3M1845.8 276.8h1.3M1811.2 265.9h1.3M1836.2 257.8h1.3M1790.8 281.7h1.3M1783.2 259.3h1.3M1803.2 268.2h1.3M1799.2 273.2h1.3M1822.0 250.7h1.3M1791.1 268.6h1.3M1842.8 263.8h1.3M1833.0 262.6h1.3M1803.5 275.9h1.3M1787.5 269.3h1.3M1774.6 267.2h1.3M1807.6 273.9h1.3M1739.9 289.4h1.3M1838.2 270.2h1.3M1846.3 251.7h1.3M1753.6 276.0h1.3M1784.4 255.7h1.3M1815.5 274.3h1.3M1784.2 255.9h1.3M1767.8 264.4h1.3M1774.5 265.0h1.3M1773.0 264.6h1.3M1787.6 271.0h1.3M1842.4 256.7h1.3M1780.9 255.2h1.3M1785.3 237.6h1.3M1837.1 278.9h1.3M1793.7 260.2h1.3M1810.0 260.8h1.3M1831.8 249.4h1.3M1825.2 271.7h1.3M1789.2 264.1h1.3M1753.6 279.8h1.3M1757.6 272.6h1.3M1761.5 260.3h1.3M1766.3 268.2h1.3M1741.8 277.6h1.3M1737.7 263.9h1.3M1744.0 268.0h1.3M1779.7 257.6h1.3M1694.3 280.3h1.3M1747.4 249.1h1.3M1737.9 257.3h1.3M1754.9 272.9h1.3M1738.2 261.8h1.3M1745.7 263.8h1.3M1759.0 270.4h1.3M1743.1 258.5h1.3M1790.2 274.4h1.3M1768.6 278.8h1.3M1731.5 273.9h1.3M1750.3 288.8h1.3M1731.0 264.5h1.3M1736.7 273.9h1.3M1727.1 263.1h1.3M1734.8 259.9h1.3M1762.1 281.0h1.3M1760.2 275.6h1.3M1746.3 267.5h1.3M1759.1 256.6h1.3M1765.4 279.3h1.3M1760.8 263.3h1.3M1767.4 272.0h1.3M1720.8 270.6h1.3M1722.8 264.5h1.3M1750.4 268.6h1.3M1721.2 268.0h1.3M1767.3 263.9h1.3M1768.3 271.7h1.3M1761.4 263.6h1.3M1774.6 253.5h1.3M1730.1 270.8h1.3M1786.7 261.1h1.3M1738.0 276.5h1.3M1739.0 257.4h1.3M1763.8 272.3h1.3M1827.8 233.9h1.3M1820.7 124.0h1.3M1768.0 112.7h1.3M1789.3 222.2h1.3M1786.2 189.8h1.3M1798.2 216.3h1.3M1823.4 219.4h1.3M1823.8 148.5h1.3M1796.3 162.4h1.3M1822.6 116.9h1.3M1738.9 196.5h1.3M1845.3 120.4h1.3M1773.1 209.4h1.3M1773.4 172.7h1.3M1801.7 145.2h1.3M1829.3 159.2h1.3M1802.6 164.1h1.3M1856.2 157.9h1.3M1748.9 156.6h1.3M1809.7 171.9h1.3M1789.3 198.3h1.3M1798.5 158.1h1.3M1819.9 219.0h1.3M1783.9 87.2h1.3M1831.9 206.5h1.3M1735.1 140.0h1.3M1876.1 161.2h1.3M1774.9 130.1h1.3M1811.9 152.8h1.3M1791.0 194.7h1.3M1858.9 203.3h1.3M1765.0 163.6h1.3M1878.4 207.6h1.3M1789.5 168.8h1.3M1769.1 89.1h1.3M1764.1 152.4h1.3M1718.5 164.6h1.3M1707.8 204.0h1.3M1753.9 163.8h1.3M1748.2 178.0h1.3M1729.9 169.8h1.3M1779.3 142.0h1.3M1755.1 185.6h1.3M1741.6 140.4h1.3M1769.3 185.7h1.3M1766.1 135.8h1.3M1752.3 112.2h1.3M1769.5 172.2h1.3M1746.3 210.2h1.3M1724.2 166.0h1.3M1740.6 131.4h1.3M1742.5 200.4h1.3M1775.9 213.8h1.3M1749.0 180.9h1.3M1744.4 128.5h1.3M1809.7 144.4h1.3M1757.7 136.3h1.3M1741.3 185.9h1.3M1771.2 169.2h1.3M1819.3 160.1h1.3M1822.7 223.3h1.3M1725.6 138.2h1.3M1807.1 153.0h1.3M1800.0 150.5h1.3M1787.5 170.6h1.3" stroke="#3f5cc4" stroke-width="1.3" fill="none"/>
<path d="M1712.2 178.2h1.3M1708.9 123.1h1.3M1696.2 162.9h1.3M1702.6 143.5h1.3M1715.0 154.9h1.3M1692.7 180.2h1.3M1701.7 200.0h1.3M1682.9 214.6h1.3M1696.1 209.6h1.3M1691.4 157.7h1.3M1696.4 131.1h1.3M1697.8 157.3h1.3M1692.8 134.9h1.3M1714.7 111.7h1.3M1708.6 165.3h1.3M1720.8 176.8h1.3M1706.5 183.0h1.3M1687.4 189.0h1.3M1700.5 172.6h1.3M1708.3 171.0h1.3M1694.6 146.5h1.3M1688.6 210.8h1.3M1700.3 190.5h1.3M1704.3 190.5h1.3M1696.5 142.9h1.3M1695.1 178.2h1.3M1715.5 166.5h1.3M1698.3 109.1h1.3M1705.6 96.5h1.3M1716.2 201.8h1.3M1689.9 106.0h1.3M1714.1 157.4h1.3M1691.0 155.4h1.3M1694.4 173.5h1.3M1705.2 173.9h1.3M1705.1 182.6h1.3M1711.4 192.9h1.3M1703.3 139.7h1.3M1709.0 166.9h1.3M1710.9 162.7h1.3M1701.5 176.3h1.3M1702.7 131.2h1.3M1698.5 135.4h1.3M1694.0 132.6h1.3M1708.4 130.3h1.3M1704.0 159.4h1.3M1694.6 154.6h1.3M1711.8 147.9h1.3M1702.6 179.4h1.3M1691.2 169.3h1.3M1713.7 161.7h1.3M1699.1 161.7h1.3M1688.0 186.1h1.3M1720.2 171.9h1.3M1708.5 168.3h1.3M1710.8 129.1h1.3M1696.5 188.6h1.3M1698.8 176.4h1.3M1712.6 140.8h1.3M1710.6 125.2h1.3M1703.1 168.1h1.3M1703.9 162.7h1.3M1692.7 148.3h1.3M1700.1 147.1h1.3M1701.7 93.3h1.3M1695.7 152.9h1.3M1688.2 179.3h1.3M1709.5 141.8h1.3M1709.8 133.7h1.3M1703.6 167.4h1.3M1706.0 99.1h1.3M1697.3 108.1h1.3M1712.2 166.3h1.3M1708.3 199.1h1.3M1699.7 174.8h1.3M1702.3 134.1h1.3M1698.5 112.4h1.3M1715.9 181.3h1.3M1694.0 153.2h1.3M1694.3 168.6h1.3M1703.3 140.8h1.3M1696.5 184.9h1.3M1700.5 153.5h1.3M1698.3 181.6h1.3M1709.6 102.4h1.3M1700.1 134.6h1.3M1701.6 172.9h1.3M1696.0 118.6h1.3M1693.4 198.2h1.3M1692.3 184.8h1.3M1705.6 145.9h1.3M1710.7 219.3h1.3M1706.2 122.8h1.3M1713.9 211.1h1.3M1694.1 154.5h1.3M1706.8 150.5h1.3M1706.4 136.5h1.3M1713.1 119.9h1.3M1700.7 179.5h1.3M1710.3 242.2h1.3M1704.3 223.7h1.3M1709.3 217.4h1.3M1714.9 184.6h1.3M1705.4 234.4h1.3M1709.3 209.2h1.3M1710.3 227.2h1.3M1713.0 227.8h1.3M1696.3 212.1h1.3M1701.1 237.8h1.3M1712.5 195.4h1.3M1690.6 215.5h1.3M1701.1 199.5h1.3M1700.5 200.9h1.3M1705.0 212.3h1.3M1715.1 220.0h1.3M1701.9 182.9h1.3M1706.5 180.1h1.3M1703.1 184.5h1.3M1697.6 183.6h1.3M1712.6 194.3h1.3M1703.1 174.1h1.3M1705.5 233.9h1.3M1701.0 222.8h1.3M1700.8 229.2h1.3M1702.8 212.8h1.3M1695.9 205.2h1.3M1717.1 200.6h1.3M1701.0 197.9h1.3M1704.8 195.1h1.3M1709.0 240.8h1.3M1695.8 212.7h1.3M1704.1 195.8h1.3M1696.1 271.2h1.3M1705.3 243.3h1.3M1712.3 280.9h1.3M1724.3 288.0h1.3M1719.3 264.3h1.3M1716.6 260.1h1.3M1705.6 288.3h1.3M1692.3 270.4h1.3M1693.0 267.4h1.3M1702.7 251.2h1.3M1677.1 267.8h1.3M1684.0 236.5h1.3M1704.2 241.6h1.3M1710.5 239.0h1.3M1682.5 265.8h1.3M1696.5 268.3h1.3M1706.1 257.4h1.3M1697.2 261.0h1.3M1683.1 279.3h1.3M1702.3 294.4h1.3M1675.7 283.2h1.3M1710.1 287.3h1.3M1682.3 269.5h1.3M1706.2 285.1h1.3M1720.0 269.6h1.3M1716.1 255.5h1.3M1711.2 257.9h1.3M1718.8 248.0h1.3M1668.2 255.5h1.3M1702.0 268.4h1.3M1706.5 262.4h1.3M1689.6 248.8h1.3M1700.6 277.9h1.3M1702.6 260.9h1.3M1696.7 256.4h1.3M1687.0 277.5h1.3M1687.4 280.8h1.3M1720.8 241.9h1.3M1702.4 273.0h1.3M1703.0 236.6h1.3M1699.6 279.0h1.3M1686.1 263.0h1.3M1670.2 270.6h1.3M1690.5 247.0h1.3M1694.4 266.8h1.3M1697.2 275.4h1.3M1713.2 258.6h1.3M1732.6 266.6h1.3M1696.8 255.4h1.3M1715.4 263.9h1.3M1680.7 253.9h1.3M1699.0 278.3h1.3M1704.4 260.8h1.3M1703.5 253.5h1.3M1692.8 299.4h1.3M1727.8 242.6h1.3M1689.2 283.9h1.3M1689.8 266.6h1.3M1706.6 263.1h1.3M1688.3 260.2h1.3M1707.4 271.0h1.3M1705.6 259.2h1.3M1710.5 246.7h1.3M1691.5 228.9h1.3M1700.6 262.7h1.3M1713.8 290.7h1.3M1692.8 277.6h1.3M1685.5 278.6h1.3M1715.3 274.3h1.3M1706.5 270.9h1.3M1715.4 276.3h1.3M1680.0 244.0h1.3M1697.9 275.9h1.3M1718.5 290.3h1.3M1700.7 284.7h1.3M1726.0 280.5h1.3M1736.6 273.1h1.3M1728.9 270.0h1.3M1697.8 251.1h1.3M1701.7 249.9h1.3M1700.3 256.6h1.3M1786.4 270.2h1.3M1854.9 265.8h1.3M1858.6 263.3h1.3M1762.2 279.4h1.3M1820.0 241.7h1.3M1774.0 265.6h1.3M1778.3 257.8h1.3M1845.5 263.7h1.3M1848.1 264.4h1.3M1808.8 266.8h1.3M1732.8 262.6h1.3M1788.5 259.3h1.3M1815.6 243.9h1.3M1813.7 285.6h1.3M1751.7 249.4h1.3M1806.8 246.3h1.3M1829.3 274.3h1.3M1836.0 264.2h1.3M1781.6 266.0h1.3M1769.4 266.8h1.3M1849.5 259.7h1.3M1791.7 256.7h1.3M1826.5 268.0h1.3M1809.6 257.9h1.3M1767.2 272.0h1.3M1856.8 266.9h1.3M1821.5 268.8h1.3M1816.8 274.6h1.3M1816.4 295.4h1.3M1786.5 252.8h1.3M1852.1 244.7h1.3M1758.1 264.8h1.3M1824.0 255.4h1.3M1788.6 275.8h1.3M1806.2 263.4h1.3M1897.1 275.7h1.3M1769.8 282.4h1.3M1803.2 253.9h1.3M1797.1 270.3h1.3M1806.3 268.5h1.3M1811.0 277.1h1.3M1776.3 260.5h1.3M1795.6 268.2h1.3M1733.8 267.6h1.3M1745.6 258.3h1.3M1777.6 240.3h1.3M1777.4 263.4h1.3M1828.5 265.0h1.3M1825.9 259.8h1.3M1773.7 252.7h1.3M1785.9 272.3h1.3M1788.6 262.5h1.3M1803.7 256.0h1.3M1811.5 283.7h1.3M1779.1 281.2h1.3M1797.8 252.7h1.3M1774.9 257.4h1.3M1754.3 261.9h1.3M1787.6 263.9h1.3M1809.2 277.3h1.3M1841.0 276.9h1.3M1757.0 276.3h1.3M1837.1 252.1h1.3M1830.5 271.9h1.3M1852.1 261.2h1.3M1828.0 272.1h1.3M1772.7 252.9h1.3M1773.7 264.1h1.3M1822.3 252.4h1.3M1804.7 256.6h1.3M1756.7 267.6h1.3M1814.6 262.3h1.3M1802.5 270.9h1.3M1827.1 263.2h1.3M1800.2 267.7h1.3M1838.8 263.4h1.3M1828.2 271.0h1.3M1787.8 249.9h1.3M1818.3 279.0h1.3M1801.2 271.8h1.3M1790.7 264.0h1.3M1765.0 268.1h1.3M1870.3 274.7h1.3M1827.0 270.7h1.3M1807.5 265.4h1.3M1751.9 258.5h1.3M1825.1 267.3h1.3M1804.5 280.9h1.3M1789.6 280.6h1.3M1766.6 265.0h1.3M1846.2 272.2h1.3M1800.2 286.5h1.3M1744.6 259.7h1.3M1826.3 247.1h1.3M1758.5 249.6h1.3M1814.9 252.0h1.3M1805.0 242.7h1.3M1838.5 258.0h1.3M1811.9 257.0h1.3M1776.1 265.6h1.3M1805.5 286.1h1.3M1804.5 269.6h1.3M1829.5 277.4h1.3M1880.4 267.2h1.3M1777.7 253.1h1.3M1838.5 234.1h1.3M1788.8 245.5h1.3M1809.5 267.9h1.3M1766.4 268.0h1.3M1795.0 246.3h1.3M1799.8 250.7h1.3M1820.8 247.6h1.3M1801.3 290.4h1.3M1779.0 276.4h1.3M1739.6 276.7h1.3M1813.4 265.8h1.3M1769.0 248.3h1.3M1816.4 266.9h1.3M1839.9 257.3h1.3M1866.5 256.9h1.3M1833.7 275.3h1.3M1804.5 280.3h1.3M1789.1 284.0h1.3M1810.1 283.3h1.3M1795.3 274.6h1.3M1833.7 250.2h1.3M1864.3 277.2h1.3M1743.6 267.5h1.3M1810.2 259.4h1.3M1751.3 257.9h1.3M1849.8 255.9h1.3M1815.8 256.3h1.3M1797.2 264.8h1.3M1747.0 274.5h1.3M1809.3 255.8h1.3M1763.5 263.7h1.3M1739.0 278.4h1.3M1762.3 251.6h1.3M1780.8 279.3h1.3M1781.0 257.1h1.3M1768.4 271.1h1.3M1757.8 252.4h1.3M1744.8 280.5h1.3M1730.0 268.6h1.3M1739.4 268.8h1.3M1728.6 255.4h1.3M1722.9 277.7h1.3M1803.5 279.1h1.3M1736.9 253.4h1.3M1761.4 243.9h1.3M1796.6 257.2h1.3M1784.4 261.9h1.3M1723.3 264.5h1.3M1728.5 264.5h1.3M1746.0 264.6h1.3M1743.2 279.1h1.3M1736.4 256.2h1.3M1746.4 275.8h1.3M1731.4 277.6h1.3M1754.8 271.5h1.3M1744.2 261.5h1.3M1756.4 262.7h1.3M1737.2 273.8h1.3M1781.8 260.3h1.3M1759.4 260.4h1.3M1797.3 260.0h1.3M1742.9 254.1h1.3M1743.9 261.7h1.3M1757.3 270.2h1.3M1788.1 263.9h1.3M1772.3 256.8h1.3M1765.4 268.4h1.3M1772.9 270.7h1.3M1753.0 255.9h1.3M1762.9 263.7h1.3M1729.1 250.5h1.3M1746.3 261.7h1.3M1779.6 267.4h1.3M1765.5 260.4h1.3M1741.7 266.1h1.3M1739.4 254.6h1.3M1731.8 258.8h1.3M1751.9 287.9h1.3M1733.6 267.2h1.3M1760.9 271.9h1.3M1747.4 257.8h1.3M1731.7 258.7h1.3M1858.5 167.4h1.3M1766.6 151.0h1.3M1783.9 181.5h1.3M1757.8 191.3h1.3M1747.0 152.1h1.3M1808.2 169.4h1.3M1830.3 149.9h1.3M1806.7 161.6h1.3M1781.9 121.7h1.3M1738.8 208.1h1.3M1822.9 182.8h1.3M1722.3 172.5h1.3M1838.6 147.8h1.3M1816.6 162.8h1.3M1767.1 154.3h1.3M1766.9 174.3h1.3M1757.6 143.0h1.3M1812.3 136.5h1.3M1789.8 218.7h1.3M1818.2 176.0h1.3M1705.9 126.6h1.3M1838.8 151.3h1.3M1775.6 197.0h1.3M1803.4 137.6h1.3M1763.2 212.5h1.3M1724.2 185.6h1.3M1729.0 151.3h1.3M1783.3 99.3h1.3M1736.6 202.9h1.3M1723.3 176.9h1.3M1731.8 174.5h1.3M1737.0 202.3h1.3M1740.1 217.4h1.3M1727.6 79.9h1.3M1765.2 210.8h1.3M1746.8 220.0h1.3M1739.4 123.0h1.3M1750.1 182.6h1.3M1729.9 149.1h1.3M1717.0 109.2h1.3M1754.6 190.2h1.3M1726.6 125.4h1.3M1786.9 233.7h1.3M1747.3 158.3h1.3M1729.6 105.5h1.3M1750.0 223.6h1.3M1719.0 166.8h1.3M1766.3 209.4h1.3M1720.6 151.0h1.3M1745.0 153.5h1.3M1748.0 160.7h1.3M1711.0 165.8h1.3M1702.5 181.9h1.3M1738.2 163.7h1.3M1723.2 157.5h1.3M1754.1 212.8h1.3M1726.7 133.5h1.3M1772.1 226.5h1.3M1752.8 159.7h1.3M1777.0 230.8h1.3M1841.8 225.7h1.3M1801.5 163.0h1.3M1832.7 126.7h1.3M1802.5 152.1h1.3M1790.2 224.6h1.3M1840.9 154.5h1.3" stroke="#5573d2" stroke-width="1.3" fill="none"/>
<path d="M1721.8 186.0h1.3M1694.1 171.1h1.3M1712.1 138.0h1.3M1703.1 170.8h1.3M1699.9 141.6h1.3M1710.9 152.2h1.3M1713.3 220.9h1.3M1694.3 145.7h1.3M1687.9 151.8h1.3M1698.0 120.9h1.3M1701.2 185.1h1.3M1698.1 175.2h1.3M1700.0 151.6h1.3M1699.9 193.3h1.3M1697.2 176.0h1.3M1699.4 155.7h1.3M1691.9 187.6h1.3M1699.3 137.1h1.3M1709.2 203.7h1.3M1695.9 121.0h1.3M1706.6 175.3h1.3M1696.2 179.8h1.3M1719.1 185.5h1.3M1707.6 150.7h1.3M1697.9 117.9h1.3M1703.2 216.0h1.3M1706.0 150.3h1.3M1696.4 137.8h1.3M1710.3 198.7h1.3M1691.5 137.6h1.3M1713.6 137.8h1.3M1706.6 152.2h1.3M1704.4 138.0h1.3M1697.8 159.2h1.3M1710.7 189.8h1.3M1704.9 145.0h1.3M1707.6 185.5h1.3M1714.0 181.9h1.3M1689.0 161.7h1.3M1720.9 161.4h1.3M1690.0 107.4h1.3M1713.2 186.5h1.3M1696.1 185.8h1.3M1691.5 180.5h1.3M1694.7 155.0h1.3M1706.9 147.7h1.3M1717.4 159.3h1.3M1694.8 144.0h1.3M1704.1 148.1h1.3M1701.4 142.1h1.3M1685.0 133.6h1.3M1699.3 153.5h1.3M1700.0 142.3h1.3M1686.5 132.1h1.3M1709.5 201.1h1.3M1704.9 144.2h1.3M1693.3 154.9h1.3M1702.6 149.1h1.3M1708.5 123.7h1.3M1691.1 146.9h1.3M1704.3 156.3h1.3M1696.7 186.1h1.3M1698.6 187.3h1.3M1701.6 192.8h1.3M1698.5 205.9h1.3M1691.7 155.5h1.3M1711.9 123.8h1.3M1709.7 168.0h1.3M1713.4 122.9h1.3M1714.5 124.2h1.3M1696.4 174.8h1.3M1700.8 182.3h1.3M1697.1 144.9h1.3M1700.9 174.8h1.3M1690.1 143.3h1.3M1698.7 169.7h1.3M1700.4 150.7h1.3M1702.8 154.9h1.3M1687.1 143.8h1.3M1707.9 148.2h1.3M1693.0 183.2h1.3M1704.3 153.0h1.3M1692.2 181.9h1.3M1698.2 180.0h1.3M1697.0 123.9h1.3M1704.2 106.2h1.3M1695.9 147.6h1.3M1714.8 189.9h1.3M1698.2 151.4h1.3M1709.2 95.7h1.3M1703.4 185.9h1.3M1703.7 114.9h1.3M1684.5 167.8h1.3M1707.2 153.3h1.3M1707.2 141.5h1.3M1699.0 164.5h1.3M1704.1 157.2h1.3M1703.8 166.8h1.3M1697.3 127.1h1.3M1694.7 78.6h1.3M1703.6 193.2h1.3M1701.2 166.5h1.3M1693.9 128.5h1.3M1715.1 134.4h1.3M1710.6 139.5h1.3M1706.0 157.9h1.3M1693.3 152.4h1.3M1706.3 170.0h1.3M1697.6 178.1h1.3M1699.5 193.2h1.3M1705.5 187.9h1.3M1693.1 175.1h1.3M1707.6 149.0h1.3M1685.4 140.2h1.3M1714.4 173.3h1.3M1706.9 192.3h1.3M1709.7 173.2h1.3M1712.6 117.8h1.3M1694.3 178.9h1.3M1691.0 158.4h1.3M1701.8 207.6h1.3M1698.3 231.4h1.3M1702.8 200.4h1.3M1700.8 204.4h1.3M1701.9 237.7h1.3M1704.2 205.9h1.3M1699.3 206.0h1.3M1704.6 226.2h1.3M1704.5 208.1h1.3M1703.7 204.3h1.3M1702.4 243.6h1.3M1691.0 227.7h1.3M1714.1 227.4h1.3M1693.5 234.9h1.3M1704.4 242.5h1.3M1702.2 221.2h1.3M1705.0 201.5h1.3M1707.2 222.0h1.3M1710.7 238.0h1.3M1701.6 206.0h1.3M1686.5 230.2h1.3M1709.9 200.0h1.3M1707.3 212.7h1.3M1684.0 215.3h1.3M1696.6 173.2h1.3M1714.9 206.7h1.3M1707.4 209.9h1.3M1709.2 198.6h1.3M1709.4 204.0h1.3M1703.1 196.8h1.3M1701.6 193.3h1.3M1701.5 259.9h1.3M1682.3 290.3h1.3M1711.4 244.8h1.3M1703.0 250.0h1.3M1688.6 273.6h1.3M1685.5 260.5h1.3M1687.0 274.3h1.3M1703.4 245.0h1.3M1679.1 244.9h1.3M1690.2 265.1h1.3M1702.4 272.4h1.3M1696.8 266.2h1.3M1712.1 230.2h1.3M1702.3 254.6h1.3M1710.5 246.7h1.3M1683.9 256.9h1.3M1729.6 262.1h1.3M1710.4 250.0h1.3M1692.1 263.4h1.3M1709.8 264.3h1.3M1695.8 244.1h1.3M1709.8 269.9h1.3M1701.6 256.0h1.3M1702.4 259.4h1.3M1682.0 271.7h1.3M1702.9 237.3h1.3M1689.5 260.9h1.3M1720.2 279.9h1.3M1695.1 258.3h1.3M1701.2 253.3h1.3M1691.7 250.5h1.3M1710.3 252.0h1.3M1708.0 269.8h1.3M1711.4 281.1h1.3M1711.1 268.4h1.3M1705.1 258.0h1.3M1686.5 280.6h1.3M1719.2 270.4h1.3M1701.5 272.4h1.3M1702.3 269.6h1.3M1713.7 270.8h1.3M1709.6 270.5h1.3M1697.4 257.3h1.3M1715.4 283.9h1.3M1699.4 236.3h1.3M1676.9 272.4h1.3M1706.2 278.7h1.3M1701.1 263.7h1.3M1708.0 263.8h1.3M1721.8 236.9h1.3M1687.0 272.2h1.3M1686.6 269.4h1.3M1685.0 271.2h1.3M1693.6 260.1h1.3M1692.7 252.6h1.3M1690.6 252.8h1.3M1708.7 257.9h1.3M1689.9 275.1h1.3M1687.0 266.8h1.3M1678.2 290.1h1.3M1683.7 283.9h1.3M1708.2 262.4h1.3M1711.8 269.7h1.3M1688.1 271.8h1.3M1686.2 291.7h1.3M1697.7 253.6h1.3M1701.1 247.4h1.3M1743.4 259.9h1.3M1704.3 237.9h1.3M1688.4 274.2h1.3M1705.5 242.2h1.3M1695.2 249.3h1.3M1704.9 241.8h1.3M1699.5 268.9h1.3M1681.2 259.8h1.3M1668.9 269.9h1.3M1714.0 255.7h1.3M1708.9 244.0h1.3M1692.8 284.8h1.3M1712.3 238.8h1.3M1870.6 247.7h1.3M1810.9 274.4h1.3M1832.8 261.4h1.3M1816.4 256.3h1.3M1772.2 282.7h1.3M1813.0 262.9h1.3M1794.7 274.0h1.3M1814.9 274.9h1.3M1794.3 266.6h1.3M1831.2 246.1h1.3M1826.4 261.1h1.3M1768.4 271.6h1.3M1806.8 255.9h1.3M1785.7 274.1h1.3M1838.8 262.0h1.3M1824.0 262.4h1.3M1792.9 254.0h1.3M1766.4 255.1h1.3M1783.9 275.9h1.3M1783.6 254.4h1.3M1805.7 280.2h1.3M1841.2 285.4h1.3M1744.0 271.5h1.3M1794.4 274.6h1.3M1855.8 263.4h1.3M1781.4 252.9h1.3M1780.1 256.8h1.3M1837.5 270.5h1.3M1837.5 272.1h1.3M1817.3 280.7h1.3M1812.8 246.9h1.3M1865.3 270.7h1.3M1769.6 247.0h1.3M1751.6 267.7h1.3M1781.8 264.8h1.3M1837.5 272.3h1.3M1842.0 284.8h1.3M1780.9 264.5h1.3M1776.8 274.0h1.3M1825.6 271.0h1.3M1735.2 253.6h1.3M1779.1 276.5h1.3M1830.0 260.6h1.3M1847.7 276.6h1.3M1763.6 283.5h1.3M1800.1 268.4h1.3M1807.7 271.1h1.3M1830.7 245.9h1.3M1848.6 273.6h1.3M1794.2 272.2h1.3M1771.3 276.1h1.3M1821.1 291.9h1.3M1778.5 278.9h1.3M1816.4 264.5h1.3M1830.6 269.4h1.3M1798.9 271.6h1.3M1813.3 246.6h1.3M1798.7 241.7h1.3M1794.0 265.8h1.3M1840.9 263.1h1.3M1774.5 251.1h1.3M1887.1 270.3h1.3M1814.7 256.6h1.3M1776.4 265.3h1.3M1788.2 267.7h1.3M1791.5 264.1h1.3M1777.1 268.7h1.3M1803.5 265.6h1.3M1811.4 279.6h1.3M1712.9 277.7h1.3M1829.9 265.2h1.3M1781.1 254.0h1.3M1850.0 288.7h1.3M1794.8 281.8h1.3M1812.8 275.6h1.3M1774.2 255.6h1.3M1804.2 269.1h1.3M1823.9 255.3h1.3M1789.4 274.5h1.3M1829.2 265.9h1.3M1790.7 245.6h1.3M1805.3 258.8h1.3M1782.1 247.7h1.3M1758.1 256.6h1.3M1821.3 272.5h1.3M1828.0 261.4h1.3M1810.6 272.3h1.3M1859.8 267.6h1.3M1783.7 283.5h1.3M1839.0 286.0h1.3M1785.2 262.5h1.3M1814.0 271.8h1.3M1794.0 284.2h1.3M1834.0 264.1h1.3M1765.0 276.4h1.3M1756.5 271.5h1.3M1840.9 267.0h1.3M1797.3 261.7h1.3M1821.4 253.6h1.3M1763.4 254.8h1.3M1842.0 266.1h1.3M1839.0 272.1h1.3M1809.1 270.0h1.3M1883.5 262.7h1.3M1804.7 282.3h1.3M1780.9 272.0h1.3M1786.4 251.6h1.3M1836.7 290.4h1.3M1839.9 243.9h1.3M1834.6 256.4h1.3M1832.1 275.8h1.3M1835.2 256.5h1.3M1790.2 268.8h1.3M1748.3 249.2h1.3M1781.0 260.2h1.3M1798.1 264.3h1.3M1787.0 238.8h1.3M1772.9 268.4h1.3M1812.5 272.0h1.3M1786.8 260.0h1.3M1783.8 253.6h1.3M1839.3 274.7h1.3M1870.0 271.1h1.3M1834.6 248.2h1.3M1825.6 277.5h1.3M1812.7 263.5h1.3M1762.8 287.6h1.3M1752.1 264.8h1.3M1724.2 250.3h1.3M1768.6 253.9h1.3M1748.5 268.7h1.3M1753.9 282.0h1.3M1763.0 258.5h1.3M1730.6 265.6h1.3M1780.6 257.6h1.3M1742.3 267.2h1.3M1746.5 270.7h1.3M1754.9 261.3h1.3M1716.0 279.7h1.3M1744.2 268.6h1.3M1752.6 260.7h1.3M1745.5 260.9h1.3M1729.2 273.7h1.3M1759.1 248.8h1.3M1741.4 279.7h1.3M1728.7 260.1h1.3M1723.4 256.2h1.3M1734.4 279.8h1.3M1750.1 257.8h1.3M1748.2 265.7h1.3M1746.3 285.0h1.3M1755.1 249.4h1.3M1757.1 256.9h1.3M1793.3 267.2h1.3M1746.7 276.2h1.3M1765.6 271.6h1.3M1724.7 283.0h1.3M1728.9 260.1h1.3M1766.0 260.5h1.3M1750.5 261.6h1.3M1782.8 274.9h1.3M1760.4 253.9h1.3M1724.6 269.5h1.3M1751.2 266.8h1.3M1752.2 266.8h1.3M1754.1 258.4h1.3M1737.8 262.1h1.3M1741.8 266.2h1.3M1780.0 257.5h1.3M1762.3 270.6h1.3M1724.1 268.6h1.3M1788.5 247.6h1.3M1765.1 245.4h1.3M1719.6 251.9h1.3M1773.5 257.4h1.3M1754.6 258.7h1.3M1749.9 258.3h1.3M1707.7 274.6h1.3M1773.9 284.3h1.3M1743.1 255.5h1.3M1757.3 259.7h1.3M1825.6 198.5h1.3M1779.4 186.7h1.3M1785.1 165.2h1.3M1806.7 198.3h1.3M1724.9 183.3h1.3M1741.9 197.1h1.3M1776.9 123.0h1.3M1773.4 146.9h1.3M1792.3 184.7h1.3M1783.5 165.6h1.3M1781.4 176.4h1.3M1795.8 153.5h1.3M1765.3 139.7h1.3M1770.6 173.8h1.3M1774.4 119.9h1.3M1783.7 182.2h1.3M1779.9 142.6h1.3M1728.2 180.4h1.3M1789.9 110.0h1.3M1781.3 134.5h1.3M1794.9 132.3h1.3M1855.6 180.3h1.3M1853.0 155.9h1.3M1825.5 195.4h1.3M1753.2 151.3h1.3M1772.2 191.7h1.3M1833.4 179.8h1.3M1752.5 173.5h1.3M1778.7 175.3h1.3M1809.6 152.9h1.3M1769.4 200.4h1.3M1746.3 198.3h1.3M1764.3 206.9h1.3M1692.2 186.9h1.3M1703.9 152.6h1.3M1778.1 165.5h1.3M1787.4 173.0h1.3M1831.7 152.5h1.3M1771.5 191.8h1.3M1752.6 191.1h1.3M1746.3 213.2h1.3M1756.5 182.4h1.3M1733.0 195.2h1.3M1748.4 186.3h1.3M1740.9 200.4h1.3M1707.1 187.9h1.3M1749.8 136.2h1.3M1729.0 197.2h1.3M1753.5 215.7h1.3M1734.6 170.4h1.3M1758.7 109.7h1.3M1717.8 189.8h1.3M1725.2 188.8h1.3M1784.2 178.0h1.3M1773.3 138.0h1.3M1796.4 217.6h1.3M1815.6 141.0h1.3M1825.4 226.0h1.3M1827.1 180.7h1.3M1729.6 179.8h1.3M1776.7 178.4h1.3M1839.2 192.6h1.3" stroke="#2f4db0" stroke-width="1.3" fill="none"/>
<path d="M1693.2 167.1h1.3M1700.4 174.7h1.3M1707.2 125.2h1.3M1699.8 165.2h1.3M1704.0 118.3h1.3M1696.6 180.5h1.3M1695.1 182.1h1.3M1702.4 155.1h1.3M1705.8 127.6h1.3M1708.2 152.7h1.3M1712.9 169.3h1.3M1675.2 132.2h1.3M1718.1 104.8h1.3M1713.4 75.4h1.3M1706.1 160.1h1.3M1697.9 184.6h1.3M1708.6 160.5h1.3M1685.4 120.2h1.3M1696.2 216.9h1.3M1699.4 196.4h1.3M1706.0 156.5h1.3M1698.2 122.5h1.3M1697.1 214.9h1.3M1719.5 160.9h1.3M1699.3 152.3h1.3M1707.0 181.5h1.3M1729.3 120.4h1.3M1696.9 151.6h1.3M1703.6 173.3h1.3M1701.4 187.8h1.3M1704.4 153.8h1.3M1703.0 145.2h1.3M1702.3 170.7h1.3M1696.2 167.6h1.3M1699.4 126.0h1.3M1703.5 180.2h1.3M1695.6 205.6h1.3M1695.8 138.5h1.3M1727.8 164.2h1.3M1710.2 179.9h1.3M1713.0 167.8h1.3M1718.9 117.4h1.3M1701.2 141.3h1.3M1702.9 155.7h1.3M1697.8 141.9h1.3M1706.3 140.5h1.3M1692.9 150.7h1.3M1701.5 137.1h1.3M1710.2 121.5h1.3M1708.1 154.0h1.3M1702.8 177.5h1.3M1726.7 169.9h1.3M1696.8 149.6h1.3M1712.2 156.7h1.3M1712.9 176.8h1.3M1714.5 92.4h1.3M1706.6 211.8h1.3M1700.2 182.8h1.3M1702.2 163.2h1.3M1702.4 141.4h1.3M1706.2 174.4h1.3M1710.5 155.7h1.3M1699.7 91.3h1.3M1704.3 152.7h1.3M1712.4 179.4h1.3M1711.1 155.6h1.3M1704.4 199.2h1.3M1697.1 127.0h1.3M1703.7 160.9h1.3M1709.6 192.2h1.3M1698.2 137.1h1.3M1712.6 172.1h1.3M1704.6 159.1h1.3M1701.5 184.3h1.3M1698.6 121.0h1.3M1703.1 124.4h1.3M1709.1 172.6h1.3M1705.9 147.4h1.3M1697.4 173.4h1.3M1699.6 169.4h1.3M1694.5 179.3h1.3M1691.6 165.1h1.3M1692.3 155.3h1.3M1704.1 200.0h1.3M1703.4 176.3h1.3M1699.7 183.5h1.3M1699.7 161.7h1.3M1696.0 132.4h1.3M1702.8 181.4h1.3M1701.4 133.5h1.3M1710.6 173.6h1.3M1711.0 182.1h1.3M1700.4 127.3h1.3M1704.3 167.7h1.3M1696.7 114.7h1.3M1690.1 140.8h1.3M1701.7 155.6h1.3M1714.4 184.3h1.3M1700.3 159.0h1.3M1705.4 144.2h1.3M1694.0 145.6h1.3M1695.5 151.2h1.3M1708.5 162.6h1.3M1699.7 203.5h1.3M1705.0 150.7h1.3M1705.0 149.1h1.3M1707.2 86.0h1.3M1705.5 213.9h1.3M1701.6 216.2h1.3M1701.4 230.8h1.3M1707.1 183.0h1.3M1711.9 219.4h1.3M1696.4 246.4h1.3M1705.5 206.0h1.3M1705.5 196.1h1.3M1709.7 205.3h1.3M1705.1 190.8h1.3M1692.0 195.0h1.3M1695.1 175.9h1.3M1703.2 211.1h1.3M1689.3 183.1h1.3M1694.7 226.2h1.3M1708.6 251.7h1.3M1705.1 240.4h1.3M1705.4 254.4h1.3M1714.4 171.7h1.3M1702.1 183.0h1.3M1699.3 242.5h1.3M1706.6 184.6h1.3M1699.0 226.3h1.3M1702.5 226.3h1.3M1701.4 237.3h1.3M1705.1 204.7h1.3M1701.5 242.8h1.3M1712.5 247.2h1.3M1699.9 238.0h1.3M1706.0 258.8h1.3M1686.5 269.3h1.3M1698.3 245.6h1.3M1676.1 286.0h1.3M1695.6 255.0h1.3M1688.7 257.1h1.3M1699.7 242.5h1.3M1719.9 248.9h1.3M1683.3 285.8h1.3M1693.2 231.2h1.3M1705.1 269.1h1.3M1708.4 254.0h1.3M1714.2 258.8h1.3M1698.0 248.5h1.3M1695.9 259.6h1.3M1701.6 259.7h1.3M1692.4 255.7h1.3M1725.2 267.9h1.3M1686.8 262.0h1.3M1697.6 257.3h1.3M1698.4 269.5h1.3M1717.4 292.9h1.3M1699.5 274.4h1.3M1709.1 263.3h1.3M1691.2 248.2h1.3M1705.0 269.2h1.3M1701.3 267.3h1.3M1694.7 264.4h1.3M1706.4 267.8h1.3M1726.3 249.6h1.3M1676.8 253.0h1.3M1719.4 273.0h1.3M1691.8 261.5h1.3M1712.5 269.3h1.3M1689.4 254.0h1.3M1696.3 266.6h1.3M1701.6 262.0h1.3M1690.2 257.8h1.3M1690.9 242.1h1.3M1703.5 268.3h1.3M1701.7 266.2h1.3M1701.2 237.1h1.3M1699.1 268.9h1.3M1704.9 249.1h1.3M1707.7 249.8h1.3M1703.0 275.3h1.3M1704.2 267.6h1.3M1676.8 272.4h1.3M1702.6 250.5h1.3M1696.5 259.4h1.3M1695.9 266.2h1.3M1709.2 278.7h1.3M1704.9 271.5h1.3M1699.7 286.9h1.3M1702.0 260.8h1.3M1823.6 243.1h1.3M1841.0 260.1h1.3M1818.3 276.5h1.3M1793.4 276.5h1.3M1790.4 279.5h1.3M1783.6 252.1h1.3M1819.8 287.8h1.3M1798.3 258.8h1.3M1853.3 246.3h1.3M1830.0 264.2h1.3M1786.6 264.2h1.3M1836.3 247.8h1.3M1810.2 275.0h1.3M1804.1 254.1h1.3M1861.2 269.6h1.3M1779.5 277.2h1.3M1812.9 258.0h1.3M1763.8 250.5h1.3M1802.4 274.6h1.3M1843.3 267.7h1.3M1750.0 288.9h1.3M1792.0 274.9h1.3M1774.2 252.5h1.3M1760.2 256.5h1.3M1841.4 283.5h1.3M1839.1 280.1h1.3M1842.5 256.0h1.3M1811.3 256.8h1.3M1745.5 270.6h1.3M1804.7 278.0h1.3M1780.1 254.0h1.3M1814.8 276.0h1.3M1823.6 248.0h1.3M1866.0 251.9h1.3M1810.6 254.4h1.3M1862.0 273.3h1.3M1904.9 253.8h1.3M1828.7 251.2h1.3M1856.7 273.4h1.3M1799.2 259.9h1.3M1812.5 275.9h1.3M1823.4 280.5h1.3M1860.7 255.9h1.3M1815.3 267.5h1.3M1834.1 275.0h1.3M1837.4 248.7h1.3M1782.9 263.5h1.3M1779.1 261.2h1.3M1856.2 250.7h1.3M1830.6 263.7h1.3M1808.7 279.7h1.3M1800.3 284.2h1.3M1801.8 264.8h1.3M1817.7 242.6h1.3M1783.8 273.4h1.3M1826.4 263.6h1.3M1789.2 253.6h1.3M1806.0 271.5h1.3M1787.2 248.7h1.3M1797.1 278.2h1.3M1873.9 266.8h1.3M1858.1 275.6h1.3M1873.4 239.0h1.3M1779.2 290.6h1.3M1777.5 274.1h1.3M1778.3 266.9h1.3M1791.6 268.3h1.3M1801.8 247.7h1.3M1837.2 280.7h1.3M1817.9 247.5h1.3M1762.9 271.1h1.3M1812.5 269.3h1.3M1818.6 287.1h1.3M1788.6 255.5h1.3M1806.8 269.3h1.3M1807.3 264.6h1.3M1811.0 272.9h1.3M1847.1 277.0h1.3M1809.2 267.4h1.3M1744.1 278.4h1.3M1812.5 276.2h1.3M1788.2 250.7h1.3M1797.8 285.7h1.3M1833.9 269.7h1.3M1812.2 264.1h1.3M1765.4 248.1h1.3M1834.0 243.1h1.3M1803.3 262.4h1.3M1794.6 249.1h1.3M1819.7 260.9h1.3M1781.1 293.0h1.3M1864.1 280.7h1.3M1834.7 262.4h1.3M1828.4 251.2h1.3M1853.0 276.8h1.3M1818.3 254.2h1.3M1726.2 252.2h1.3M1795.4 255.9h1.3M1801.1 253.5h1.3M1761.2 266.9h1.3M1827.1 266.4h1.3M1773.0 273.0h1.3M1828.4 261.9h1.3M1870.4 266.2h1.3M1810.9 249.1h1.3M1767.7 241.3h1.3M1817.9 274.0h1.3M1811.3 260.7h1.3M1861.8 269.1h1.3M1867.6 268.1h1.3M1830.4 254.0h1.3M1866.6 259.8h1.3M1802.6 263.5h1.3M1805.8 263.7h1.3M1826.1 259.1h1.3M1787.3 276.9h1.3M1814.3 256.3h1.3M1807.7 278.3h1.3M1824.6 262.4h1.3M1838.8 283.2h1.3M1801.3 268.3h1.3M1792.7 261.6h1.3M1782.7 274.2h1.3M1742.9 266.0h1.3M1754.3 263.9h1.3M1767.8 257.1h1.3M1757.9 261.8h1.3M1772.6 253.6h1.3M1774.3 260.3h1.3M1728.7 268.1h1.3M1747.8 276.6h1.3M1748.0 265.3h1.3M1711.0 254.7h1.3M1731.2 259.0h1.3M1754.0 278.4h1.3M1741.6 273.1h1.3M1751.3 261.7h1.3M1733.5 264.5h1.3M1769.2 268.6h1.3M1739.5 258.7h1.3M1769.3 263.6h1.3M1768.9 281.1h1.3M1725.6 256.1h1.3M1775.8 265.3h1.3M1777.6 237.7h1.3M1739.8 280.4h1.3M1737.6 274.4h1.3M1752.0 277.5h1.3M1774.6 275.5h1.3M1762.9 277.5h1.3M1770.2 260.6h1.3M1752.0 261.4h1.3M1773.0 252.8h1.3M1748.9 263.3h1.3M1734.8 263.0h1.3M1742.2 267.4h1.3M1769.3 279.8h1.3M1755.8 259.4h1.3M1772.7 276.2h1.3M1730.2 258.2h1.3M1741.6 262.1h1.3M1732.7 260.9h1.3M1747.2 268.8h1.3M1713.0 270.4h1.3M1774.2 273.2h1.3M1801.7 251.0h1.3M1751.1 260.7h1.3M1775.8 272.2h1.3M1734.5 260.5h1.3M1780.4 256.4h1.3M1731.4 270.9h1.3M1848.7 168.6h1.3M1808.0 218.5h1.3M1801.7 159.5h1.3M1751.2 165.1h1.3M1770.9 167.2h1.3M1743.7 160.9h1.3M1814.5 150.5h1.3M1744.6 116.1h1.3M1773.8 129.5h1.3M1749.7 156.3h1.3M1816.5 196.4h1.3M1772.5 210.7h1.3M1800.5 164.5h1.3M1832.2 139.1h1.3M1796.2 167.1h1.3M1762.2 205.6h1.3M1711.5 232.2h1.3M1749.9 179.8h1.3M1735.3 165.2h1.3M1847.5 144.0h1.3M1832.1 126.9h1.3M1817.1 168.2h1.3M1717.9 137.3h1.3M1796.7 211.7h1.3M1801.0 176.8h1.3M1822.2 157.8h1.3M1758.5 120.7h1.3M1841.3 218.2h1.3M1811.9 180.4h1.3M1776.8 160.9h1.3M1746.0 164.5h1.3M1742.3 239.1h1.3M1754.5 191.5h1.3M1749.6 218.2h1.3M1751.3 253.2h1.3M1782.4 193.6h1.3M1764.7 145.7h1.3M1744.7 186.2h1.3M1737.2 207.0h1.3M1710.8 165.9h1.3M1722.9 139.7h1.3M1767.7 302.4h1.3M1747.6 176.9h1.3M1732.4 137.3h1.3M1743.6 141.9h1.3M1730.7 250.3h1.3M1727.3 159.7h1.3M1703.1 210.4h1.3M1754.4 179.1h1.3M1738.2 164.6h1.3M1731.5 185.1h1.3M1748.3 165.0h1.3M1726.6 137.7h1.3M1734.5 184.7h1.3M1740.1 204.0h1.3M1741.7 219.0h1.3M1754.2 201.5h1.3M1727.7 171.1h1.3M1794.5 180.4h1.3M1810.1 134.2h1.3M1830.8 201.8h1.3M1728.6 136.4h1.3M1824.1 216.1h1.3M1753.9 169.3h1.3M1788.8 130.5h1.3M1843.2 208.3h1.3M1823.3 220.2h1.3" stroke="#7f93dd" stroke-width="1.3" fill="none"/>
<g filter="url(#grain)">
<ellipse cx="1703.0" cy="150.9" rx="14" ry="46" fill="url(#gFaint)"/>
<ellipse cx="1703.0" cy="142.9" rx="11" ry="30" fill="url(#gFaint)"/>
<ellipse cx="1703.0" cy="212.9" rx="7" ry="30" fill="url(#gFaint)"/>
<ellipse cx="1757.0" cy="264.4" rx="70" ry="15" fill="url(#gCyan)"/>
<ellipse cx="1815.5" cy="264.4" rx="56" ry="23" fill="url(#gHot)"/>
<ellipse cx="1701.0" cy="263.9" rx="24" ry="26" fill="url(#gHotL)"/>
</g>
<line x1="1721.1" y1="62.9" x2="1721.1" y2="315.9" stroke="#000" stroke-width="1.7"/>
<line x1="1657.0" y1="234.1" x2="1909.4" y2="234.1" stroke="#000" stroke-width="1.7"/>
<rect x="1657.0" y="62.9" width="252.4" height="253.0" fill="none" stroke="#828282" stroke-width="1.15"/>
<text x="1661.5" y="81.1" font-size="22" text-anchor="start" fill="#1a1a1a">2.10</text>
<text x="1897.9" y="81.1" font-size="22" text-anchor="end" fill="#1a1a1a">0.85</text>
<text x="1661.5" y="302.59999999999997" font-size="22" text-anchor="start" fill="#1a1a1a">29.1</text>
<text x="1897.9" y="302.59999999999997" font-size="22" text-anchor="end" fill="#1a1a1a">67.9</text>
</g>
<g>
<path d="M1973.9 265.2h1.3M1959.7 274.9h1.3M1956.8 258.0h1.3M1954.6 271.7h1.3M1980.4 259.0h1.3M1964.7 264.1h1.3M1958.1 273.7h1.3M1944.9 257.4h1.3M1960.5 248.9h1.3M1964.4 268.5h1.3M1969.7 269.7h1.3M1962.9 261.0h1.3M1953.5 279.4h1.3M1964.4 274.0h1.3M1952.6 248.9h1.3M1968.6 274.0h1.3M1945.7 253.5h1.3M1970.6 267.0h1.3M1956.1 261.7h1.3M1966.2 286.3h1.3M1974.3 251.9h1.3M1970.6 258.2h1.3M1971.8 248.1h1.3M1948.0 264.5h1.3M1969.5 244.9h1.3M1956.6 278.7h1.3M1966.2 269.9h1.3M1979.5 256.9h1.3M1963.5 285.2h1.3M1921.2 263.8h1.3M1964.1 280.6h1.3M1945.2 265.7h1.3M1967.9 268.1h1.3M1966.3 263.9h1.3M1962.3 251.2h1.3M1938.8 278.8h1.3M1965.7 240.7h1.3M1961.8 279.0h1.3M1968.8 259.9h1.3M1980.5 267.2h1.3M1966.3 247.8h1.3M1949.6 260.1h1.3M1969.0 259.4h1.3M1947.3 271.0h1.3M1965.3 264.9h1.3M1949.1 273.0h1.3M1957.1 291.1h1.3M1968.3 260.4h1.3M1947.8 266.9h1.3M1961.0 250.6h1.3M1948.9 260.8h1.3M1943.3 286.3h1.3M1961.5 258.7h1.3M1977.3 261.1h1.3M1959.7 267.1h1.3M1968.5 281.6h1.3M1953.8 266.0h1.3M1957.6 266.3h1.3M1964.7 272.1h1.3M1944.8 262.5h1.3M1967.1 256.6h1.3M1958.0 254.0h1.3M1976.3 260.2h1.3M1968.5 248.0h1.3M1944.5 262.9h1.3M1962.2 277.4h1.3M1956.6 258.4h1.3M2049.6 253.2h1.3M2057.1 247.1h1.3M2054.2 261.2h1.3M2069.2 262.1h1.3M2056.4 250.0h1.3M2117.2 241.0h1.3M2103.7 294.9h1.3M2024.8 254.0h1.3M2088.1 264.0h1.3M2070.6 258.0h1.3M2075.8 252.6h1.3M2094.1 277.3h1.3M2070.9 288.4h1.3M2067.3 277.1h1.3M2089.4 255.4h1.3M2072.2 273.8h1.3M2060.9 273.9h1.3M2115.8 287.2h1.3M2067.9 271.8h1.3M2064.7 270.7h1.3M2066.1 254.9h1.3M2014.3 276.2h1.3M2090.2 279.0h1.3M2061.3 247.0h1.3M2061.0 251.7h1.3M2078.6 268.3h1.3M2035.8 256.1h1.3M2002.9 245.8h1.3M2053.1 259.9h1.3M2096.6 255.6h1.3M2005.9 271.5h1.3M2067.6 266.3h1.3M2102.4 279.2h1.3M2046.5 264.0h1.3M2064.7 271.1h1.3M2100.5 271.3h1.3M2082.2 261.0h1.3M2041.1 277.7h1.3M2087.6 262.2h1.3M2132.8 267.3h1.3M2084.4 270.4h1.3M2094.4 260.0h1.3M2059.4 258.2h1.3M2143.5 255.6h1.3M2008.0 255.9h1.3M2061.4 263.6h1.3M2016.2 265.3h1.3M2032.9 263.6h1.3M2023.3 262.6h1.3M2038.3 259.8h1.3M2135.1 274.1h1.3M2037.1 266.1h1.3M2061.4 254.7h1.3M2024.5 262.8h1.3M2058.6 250.4h1.3M1996.1 277.6h1.3M2150.6 270.7h1.3M2020.7 242.2h1.3M2081.1 267.0h1.3M2029.4 280.4h1.3M2013.5 275.7h1.3M2115.3 289.6h1.3M2051.0 253.1h1.3M2050.0 280.0h1.3M2034.9 230.4h1.3M2041.5 265.1h1.3M1983.1 264.0h1.3M2060.7 276.6h1.3M2034.4 265.5h1.3M2133.8 296.1h1.3M2042.9 272.8h1.3M2098.3 263.0h1.3M2055.2 264.6h1.3M2024.7 288.3h1.3M2037.6 245.7h1.3M2025.9 245.7h1.3M2128.5 248.9h1.3M2116.7 264.1h1.3M2056.6 252.9h1.3M2094.0 246.2h1.3M2055.1 265.5h1.3M2070.4 270.5h1.3M2049.5 248.4h1.3M2072.5 278.2h1.3M2055.7 267.4h1.3M2042.6 265.6h1.3M2052.5 258.6h1.3M2006.7 274.4h1.3M2109.1 248.0h1.3M2039.9 258.1h1.3M1998.1 255.5h1.3M2024.7 264.6h1.3M2019.8 264.8h1.3M2129.7 257.2h1.3M2056.2 252.3h1.3M2079.1 257.4h1.3M1989.0 270.6h1.3M2067.9 256.8h1.3M2007.4 260.5h1.3M2072.3 267.4h1.3M2052.4 249.1h1.3M2015.0 267.8h1.3M1993.9 246.9h1.3M2161.1 256.6h1.3M2034.6 270.2h1.3M2041.1 253.5h1.3M2115.4 273.2h1.3M2057.6 257.2h1.3M2029.7 270.0h1.3M2082.0 258.3h1.3M2087.4 262.7h1.3M1997.6 261.3h1.3M2026.0 284.5h1.3M2055.6 250.6h1.3M2037.0 264.2h1.3M1996.7 257.0h1.3M2039.0 267.5h1.3M2052.0 256.9h1.3M2069.7 254.2h1.3M2133.8 232.4h1.3M2111.4 281.6h1.3M2025.2 276.8h1.3M2021.7 275.2h1.3M1984.2 260.6h1.3M2049.9 245.7h1.3M2079.5 264.2h1.3M2001.9 276.4h1.3M2022.0 260.9h1.3M2120.8 277.9h1.3M1999.5 270.5h1.3M2009.5 270.9h1.3M2088.9 267.9h1.3M2060.1 275.2h1.3M2131.6 274.0h1.3M2066.9 255.4h1.3M2106.5 250.9h1.3M2082.6 278.8h1.3M2084.1 258.5h1.3M2039.2 255.9h1.3M2101.6 280.4h1.3M2025.2 274.0h1.3M2032.9 288.7h1.3M2058.2 262.0h1.3M2068.1 267.2h1.3M1988.4 250.7h1.3M2083.8 250.6h1.3M2052.7 259.1h1.3M2086.8 247.0h1.3M2037.7 248.3h1.3M2063.7 267.0h1.3M2052.4 268.2h1.3M2098.5 263.9h1.3M2073.7 263.8h1.3M1976.2 262.6h1.3M2008.3 266.5h1.3M2001.5 253.4h1.3M2053.0 252.7h1.3M1994.2 276.5h1.3M1998.1 258.1h1.3M2000.6 257.1h1.3M1989.4 274.4h1.3M1979.9 269.5h1.3M1996.2 276.1h1.3M2046.8 258.0h1.3M1989.5 277.2h1.3M2004.1 251.1h1.3M1998.1 261.1h1.3M1983.7 255.9h1.3M1980.7 287.7h1.3M1998.8 277.8h1.3M1995.8 285.6h1.3M1983.5 260.8h1.3M1964.0 259.6h1.3M2016.9 263.9h1.3M2033.7 261.1h1.3M1999.8 269.0h1.3M2012.7 268.8h1.3M1990.6 263.2h1.3M2016.1 263.0h1.3M1992.6 266.7h1.3M1992.7 246.4h1.3M2008.3 251.9h1.3M1954.2 270.2h1.3M2100.1 231.1h1.3M1993.3 190.3h1.3M1980.5 124.3h1.3" stroke="#3f5cc4" stroke-width="1.3" fill="none"/>
<path d="M1954.0 274.8h1.3M1963.0 266.0h1.3M1962.6 289.2h1.3M1972.7 275.1h1.3M1964.4 269.8h1.3M1963.1 262.6h1.3M1967.1 270.2h1.3M1941.2 289.1h1.3M1974.4 262.5h1.3M1958.3 278.8h1.3M1943.7 279.0h1.3M1980.0 246.9h1.3M1951.2 270.8h1.3M1953.6 271.3h1.3M1956.7 259.0h1.3M1962.9 274.1h1.3M1972.8 252.2h1.3M1948.4 288.4h1.3M1967.0 258.7h1.3M1962.7 267.4h1.3M1942.6 265.9h1.3M1953.8 266.2h1.3M1953.2 285.9h1.3M1968.2 268.9h1.3M1956.0 247.3h1.3M1983.3 276.8h1.3M1953.3 277.5h1.3M1955.9 248.5h1.3M1956.0 267.4h1.3M1965.6 261.5h1.3M1963.6 236.1h1.3M1952.3 255.5h1.3M1963.0 270.2h1.3M1972.7 250.2h1.3M1965.5 258.9h1.3M1980.6 258.0h1.3M1960.1 261.5h1.3M1962.5 256.4h1.3M1973.1 288.1h1.3M1949.4 274.4h1.3M1961.4 255.3h1.3M1962.1 262.1h1.3M1953.1 262.2h1.3M1974.9 262.9h1.3M1980.1 238.0h1.3M1965.2 251.7h1.3M1962.1 283.0h1.3M1975.0 249.5h1.3M1951.1 251.0h1.3M1948.1 254.5h1.3M1978.1 277.5h1.3M1948.4 254.1h1.3M1950.8 274.6h1.3M1937.2 267.0h1.3M1962.8 280.4h1.3M1949.9 272.1h1.3M1955.5 279.2h1.3M1959.9 268.3h1.3M1973.8 305.4h1.3M1952.2 283.1h1.3M1971.5 254.7h1.3M1954.9 266.7h1.3M1958.4 268.8h1.3M1969.1 284.7h1.3M1970.8 255.6h1.3M1970.5 288.5h1.3M1946.4 257.8h1.3M1960.0 270.2h1.3M1977.0 274.1h1.3M1959.0 286.4h1.3M1949.0 253.7h1.3M1971.1 259.6h1.3M1956.1 277.3h1.3M2068.7 256.9h1.3M2036.9 262.1h1.3M2049.7 273.0h1.3M1997.1 251.9h1.3M2019.6 257.0h1.3M2021.4 258.5h1.3M2060.8 276.8h1.3M1968.1 286.4h1.3M2129.3 273.0h1.3M2047.9 277.5h1.3M2019.3 267.3h1.3M2029.4 269.2h1.3M2024.1 264.9h1.3M2086.9 267.7h1.3M2051.9 266.5h1.3M2091.6 252.8h1.3M2015.6 253.7h1.3M2054.6 244.3h1.3M2091.4 250.1h1.3M2033.3 292.9h1.3M2102.5 267.7h1.3M1991.3 263.6h1.3M2004.2 254.7h1.3M2072.7 276.3h1.3M2036.4 273.9h1.3M2098.5 249.1h1.3M2087.4 256.4h1.3M2063.1 253.7h1.3M2022.7 248.6h1.3M2063.8 258.7h1.3M1988.1 261.1h1.3M2075.5 245.7h1.3M2113.2 270.8h1.3M2050.7 263.1h1.3M2077.0 277.3h1.3M2060.6 278.6h1.3M2015.0 270.9h1.3M2007.5 262.1h1.3M2039.6 251.3h1.3M2104.1 269.9h1.3M2047.2 257.9h1.3M2041.2 255.6h1.3M2019.3 244.0h1.3M2058.5 282.3h1.3M2063.6 272.5h1.3M2041.8 276.0h1.3M2097.5 268.3h1.3M2085.8 250.5h1.3M2006.9 241.6h1.3M2054.5 249.6h1.3M2054.1 281.7h1.3M2038.0 281.0h1.3M2049.3 254.9h1.3M2023.4 251.3h1.3M2113.6 284.9h1.3M2012.2 259.9h1.3M1985.1 259.4h1.3M2075.9 262.2h1.3M2011.7 281.6h1.3M2074.5 270.1h1.3M2007.9 272.0h1.3M2071.5 260.4h1.3M2019.9 257.6h1.3M2057.7 247.2h1.3M2068.3 262.7h1.3M2072.0 277.4h1.3M1983.2 242.9h1.3M2051.5 263.5h1.3M2013.5 271.9h1.3M2029.6 265.3h1.3M2044.9 273.5h1.3M2033.2 256.5h1.3M2107.8 256.8h1.3M2068.7 261.7h1.3M2016.7 253.4h1.3M2021.2 251.2h1.3M2022.8 271.9h1.3M2087.8 270.4h1.3M2147.2 259.4h1.3M2058.9 271.5h1.3M2057.5 267.0h1.3M2066.7 266.4h1.3M2098.9 267.0h1.3M2054.3 277.6h1.3M2042.9 274.0h1.3M2054.6 255.4h1.3M2041.1 274.3h1.3M2014.6 248.6h1.3M2006.1 249.9h1.3M1972.5 253.2h1.3M2076.8 274.9h1.3M2083.7 275.2h1.3M1994.9 277.8h1.3M1992.8 262.0h1.3M2064.0 256.3h1.3M2098.2 250.3h1.3M2053.3 237.6h1.3M2069.2 253.7h1.3M2065.4 277.5h1.3M1966.6 268.7h1.3M2105.2 249.4h1.3M2117.2 274.2h1.3M2084.9 276.1h1.3M2032.9 265.8h1.3M2048.1 274.5h1.3M2057.7 255.8h1.3M2039.9 269.7h1.3M2089.2 238.7h1.3M2030.0 270.6h1.3M2041.1 255.3h1.3M1985.4 272.0h1.3M2128.3 271.8h1.3M2095.5 265.3h1.3M2053.0 271.9h1.3M2053.8 259.3h1.3M1994.9 261.9h1.3M2029.8 276.1h1.3M2077.9 251.7h1.3M2020.5 257.5h1.3M2037.1 275.6h1.3M2054.5 255.2h1.3M2054.2 252.6h1.3M2045.8 282.3h1.3M2052.4 266.2h1.3M2054.8 242.1h1.3M2086.0 253.8h1.3M1996.9 268.0h1.3M2051.7 254.0h1.3M2058.2 276.2h1.3M2119.7 256.0h1.3M2096.3 263.3h1.3M1966.3 260.5h1.3M2056.1 254.8h1.3M2032.1 259.1h1.3M1994.2 249.6h1.3M2013.6 265.5h1.3M1985.0 281.7h1.3M1976.5 255.2h1.3M2030.9 276.7h1.3M1974.2 265.0h1.3M1987.7 264.8h1.3M1997.5 275.8h1.3M1981.7 273.5h1.3M2017.2 244.2h1.3M1989.3 267.1h1.3M2004.9 262.8h1.3M1988.3 266.8h1.3M2012.6 276.9h1.3M1989.4 285.4h1.3M2014.9 259.7h1.3M2018.3 263.5h1.3M1983.5 257.4h1.3M1977.5 264.1h1.3M2014.8 273.5h1.3M1962.5 250.8h1.3M2004.6 261.2h1.3M1993.6 281.4h1.3M1996.7 269.0h1.3M2007.3 273.9h1.3M2006.9 283.1h1.3M1999.2 260.2h1.3M1979.9 285.1h1.3M1986.0 276.5h1.3M2024.2 273.1h1.3M2011.5 272.0h1.3M1986.1 278.5h1.3M1990.8 260.5h1.3M2037.9 264.0h1.3M1977.2 249.3h1.3M1982.7 261.6h1.3M1970.8 246.3h1.3M1990.9 262.8h1.3M1999.4 261.0h1.3M2102.7 195.0h1.3M1990.7 203.1h1.3M1978.8 224.1h1.3" stroke="#5573d2" stroke-width="1.3" fill="none"/>
<path d="M1962.8 231.9h1.3M1961.3 259.1h1.3M1963.4 266.7h1.3M1965.1 264.5h1.3M1953.6 271.4h1.3M1981.3 268.1h1.3M1952.6 275.4h1.3M1945.8 266.8h1.3M1955.5 269.7h1.3M1962.5 259.8h1.3M1949.0 264.4h1.3M1955.7 250.5h1.3M1963.7 272.8h1.3M1956.6 260.0h1.3M1955.0 264.5h1.3M1969.9 270.2h1.3M1953.9 252.9h1.3M1982.8 263.2h1.3M1970.6 284.5h1.3M1944.5 251.3h1.3M1958.5 276.7h1.3M1941.2 256.7h1.3M1946.2 260.7h1.3M1944.8 288.7h1.3M1976.8 258.2h1.3M1949.9 272.4h1.3M1937.0 259.7h1.3M1951.7 264.3h1.3M1973.8 282.2h1.3M1967.7 244.3h1.3M1970.9 247.0h1.3M1972.6 261.7h1.3M1958.2 260.4h1.3M1965.0 251.9h1.3M1974.9 275.3h1.3M1945.8 300.4h1.3M1953.7 250.1h1.3M1962.6 275.2h1.3M1938.7 252.3h1.3M1950.5 275.6h1.3M1945.7 276.8h1.3M1952.4 234.1h1.3M1955.6 264.6h1.3M1959.4 261.1h1.3M1959.8 255.3h1.3M1955.6 263.5h1.3M1967.3 258.4h1.3M1969.4 268.9h1.3M1976.5 265.3h1.3M1956.3 255.7h1.3M1969.5 271.0h1.3M1960.4 247.7h1.3M1977.0 276.6h1.3M1935.8 246.8h1.3M1970.7 282.4h1.3M1965.2 263.7h1.3M1961.9 260.7h1.3M1935.6 269.7h1.3M1950.5 273.8h1.3M2004.9 256.2h1.3M2097.7 275.3h1.3M2071.1 260.7h1.3M2027.9 257.1h1.3M2047.1 274.7h1.3M2073.0 261.6h1.3M2129.4 266.6h1.3M2066.0 266.1h1.3M2018.5 257.5h1.3M2047.6 259.4h1.3M2052.1 253.9h1.3M2037.6 263.7h1.3M2122.5 249.3h1.3M2057.8 241.8h1.3M2044.0 263.3h1.3M2047.6 260.4h1.3M2110.4 275.7h1.3M2059.5 267.5h1.3M2054.0 263.0h1.3M2079.5 265.7h1.3M2061.9 268.9h1.3M2052.0 267.9h1.3M2013.9 250.5h1.3M2063.3 275.7h1.3M2105.4 263.6h1.3M2092.1 271.3h1.3M2059.0 259.1h1.3M2068.0 268.2h1.3M2120.4 268.6h1.3M2052.0 264.5h1.3M2053.8 258.2h1.3M2119.1 258.6h1.3M2062.3 239.6h1.3M2039.4 243.4h1.3M2032.4 260.0h1.3M1993.6 294.7h1.3M2042.0 262.9h1.3M2027.9 267.8h1.3M2076.6 264.3h1.3M2062.2 255.0h1.3M2083.6 265.4h1.3M2010.9 257.3h1.3M2038.6 271.7h1.3M2084.2 276.0h1.3M2053.0 272.9h1.3M2062.9 270.9h1.3M2035.8 264.8h1.3M2016.7 272.6h1.3M2066.6 268.9h1.3M2048.8 254.5h1.3M2007.8 277.2h1.3M2049.9 268.2h1.3M2025.7 265.2h1.3M2038.4 252.1h1.3M2063.1 281.2h1.3M2084.2 267.3h1.3M2056.9 260.3h1.3M2117.2 267.0h1.3M2108.7 264.2h1.3M2023.5 271.1h1.3M2070.5 273.5h1.3M2094.5 255.5h1.3M2056.6 267.6h1.3M2037.9 280.1h1.3M2045.3 243.9h1.3M2066.7 255.9h1.3M2062.2 268.5h1.3M2110.7 253.3h1.3M2058.5 247.3h1.3M2074.8 277.0h1.3M2046.4 249.7h1.3M2041.1 273.4h1.3M2143.0 262.9h1.3M2093.8 255.5h1.3M2007.4 265.9h1.3M2126.6 258.6h1.3M2074.9 247.7h1.3M2120.2 240.8h1.3M2096.4 250.2h1.3M2062.4 259.3h1.3M1966.2 278.5h1.3M2011.7 255.6h1.3M2080.5 271.0h1.3M2139.2 267.6h1.3M2025.0 288.7h1.3M2096.3 275.0h1.3M2046.9 258.3h1.3M2050.5 260.1h1.3M2010.4 260.2h1.3M2057.3 257.1h1.3M2074.3 271.0h1.3M2006.3 252.6h1.3M2015.5 272.1h1.3M2081.1 271.1h1.3M2025.8 269.3h1.3M2053.6 258.2h1.3M2133.6 260.5h1.3M2053.8 274.2h1.3M2049.9 274.1h1.3M2088.6 261.4h1.3M2102.2 251.9h1.3M2010.9 272.7h1.3M2092.9 254.1h1.3M2075.0 261.0h1.3M2014.1 263.8h1.3M2094.1 266.1h1.3M2008.3 257.5h1.3M2034.2 275.0h1.3M2018.6 269.5h1.3M2034.4 282.0h1.3M2036.5 254.1h1.3M2132.2 270.9h1.3M2093.9 265.9h1.3M2007.8 270.7h1.3M2072.6 263.9h1.3M2058.0 267.1h1.3M2081.7 277.3h1.3M2119.7 269.8h1.3M2081.6 263.0h1.3M2009.1 271.8h1.3M1992.0 287.2h1.3M2095.9 241.0h1.3M1988.0 257.1h1.3M1977.2 270.3h1.3M1999.9 257.1h1.3M2016.0 281.5h1.3M1971.0 274.1h1.3M1991.1 247.2h1.3M1956.9 273.6h1.3M2004.6 268.0h1.3M2031.4 272.1h1.3M1984.1 254.2h1.3M1981.1 260.7h1.3M2007.1 259.7h1.3M2002.5 271.9h1.3M2015.2 279.9h1.3M1989.5 266.9h1.3M1994.0 252.9h1.3M1990.7 247.1h1.3M1993.6 258.6h1.3M1995.1 255.4h1.3M1982.5 253.8h1.3M1992.1 279.4h1.3M1989.4 285.9h1.3M1989.5 249.8h1.3M1993.1 261.0h1.3M2012.5 270.3h1.3M1991.0 242.6h1.3M2021.0 263.7h1.3M1996.4 274.0h1.3M2048.3 257.8h1.3M1963.0 254.3h1.3M1991.3 257.0h1.3M1993.3 270.8h1.3M2000.8 257.6h1.3M2024.2 262.2h1.3M2004.4 256.1h1.3M2017.7 268.9h1.3M2006.6 271.5h1.3M2021.7 265.2h1.3M2000.1 276.2h1.3M1983.7 257.0h1.3M1994.5 259.8h1.3M2001.5 273.2h1.3M1997.8 266.6h1.3M2000.5 268.7h1.3M1975.2 193.3h1.3M1987.3 224.4h1.3M1988.5 179.9h1.3" stroke="#2f4db0" stroke-width="1.3" fill="none"/>
<path d="M1962.3 273.2h1.3M1954.0 262.5h1.3M1944.9 247.9h1.3M1966.7 261.4h1.3M1961.8 271.4h1.3M1957.6 251.8h1.3M1950.8 273.7h1.3M1978.8 271.6h1.3M1953.0 279.4h1.3M1953.7 281.0h1.3M1971.2 256.6h1.3M1962.4 264.7h1.3M1960.7 265.2h1.3M1961.1 265.5h1.3M1955.5 295.4h1.3M1962.8 264.1h1.3M1962.1 247.8h1.3M1985.7 263.8h1.3M1957.4 269.9h1.3M1945.0 264.9h1.3M1961.6 260.4h1.3M1952.8 260.2h1.3M1950.7 254.1h1.3M1964.7 249.5h1.3M1953.5 263.8h1.3M1948.3 269.1h1.3M1969.6 290.7h1.3M1955.6 282.2h1.3M1945.3 268.2h1.3M1950.7 268.8h1.3M1962.5 266.4h1.3M1945.2 271.3h1.3M1957.4 239.7h1.3M1947.4 252.3h1.3M1968.2 276.5h1.3M1957.9 270.2h1.3M1963.3 264.9h1.3M1983.9 272.1h1.3M1971.8 262.9h1.3M1986.4 266.5h1.3M1972.9 279.3h1.3M1949.7 242.3h1.3M1967.1 259.6h1.3M1960.6 264.3h1.3M1967.7 270.5h1.3M1971.2 259.2h1.3M1949.9 267.3h1.3M1967.2 254.6h1.3M1948.3 278.0h1.3M1956.0 259.6h1.3M1959.6 253.9h1.3M1953.3 257.1h1.3M1956.6 253.0h1.3M1952.3 264.5h1.3M1950.7 233.5h1.3M1954.5 254.8h1.3M1953.0 282.5h1.3M1942.7 254.9h1.3M1966.8 258.7h1.3M1978.1 268.5h1.3M1964.5 256.8h1.3M2066.3 286.2h1.3M2017.6 304.6h1.3M2049.4 260.9h1.3M2092.0 254.6h1.3M2046.5 269.6h1.3M2037.1 256.9h1.3M2055.9 255.2h1.3M2011.9 267.7h1.3M2084.6 277.5h1.3M2041.1 252.7h1.3M2022.4 268.3h1.3M2033.3 253.4h1.3M2079.1 259.5h1.3M2070.3 260.4h1.3M2105.0 257.2h1.3M2107.3 255.8h1.3M2041.2 263.5h1.3M2100.6 259.0h1.3M2032.6 259.2h1.3M2040.6 262.5h1.3M2079.5 247.8h1.3M2093.9 265.2h1.3M2054.5 284.8h1.3M2094.6 258.8h1.3M1980.9 255.3h1.3M2076.5 285.2h1.3M2033.2 256.8h1.3M2100.8 292.4h1.3M2043.5 253.7h1.3M2068.0 252.1h1.3M2135.5 261.0h1.3M2056.8 266.2h1.3M2096.1 274.8h1.3M2060.0 261.1h1.3M2034.6 267.7h1.3M2072.7 267.7h1.3M2077.4 265.4h1.3M2009.3 252.0h1.3M2014.6 279.3h1.3M2098.1 261.9h1.3M2114.9 255.1h1.3M2024.1 274.2h1.3M2014.3 273.8h1.3M2049.2 271.6h1.3M2044.4 261.2h1.3M2023.9 262.2h1.3M2003.5 265.2h1.3M2074.5 253.7h1.3M1991.5 283.6h1.3M2052.5 262.5h1.3M2048.3 269.9h1.3M2032.8 260.3h1.3M2038.0 270.2h1.3M2138.0 251.2h1.3M2029.4 249.8h1.3M2062.9 258.3h1.3M2056.4 257.9h1.3M2012.7 264.8h1.3M2021.2 243.3h1.3M2022.4 280.8h1.3M2029.8 271.3h1.3M2051.0 256.8h1.3M1955.6 271.4h1.3M2069.4 253.4h1.3M2001.7 261.9h1.3M2018.1 265.3h1.3M2074.8 262.2h1.3M2089.0 273.9h1.3M2078.9 261.9h1.3M2008.3 259.8h1.3M2155.6 266.0h1.3M2039.0 270.9h1.3M2045.6 275.6h1.3M2109.4 254.5h1.3M2016.6 257.8h1.3M2033.1 274.1h1.3M2048.4 249.1h1.3M2061.3 247.5h1.3M2034.2 261.0h1.3M2068.6 267.8h1.3M2131.5 275.8h1.3M2109.2 242.1h1.3M2101.8 280.6h1.3M2114.8 251.5h1.3M2040.6 284.8h1.3M2138.1 255.6h1.3M2038.0 262.5h1.3M2051.2 262.4h1.3M2117.6 263.9h1.3M2013.0 272.5h1.3M2085.9 261.0h1.3M2064.4 263.1h1.3M2059.1 265.9h1.3M2089.8 249.0h1.3M2048.6 254.2h1.3M1985.9 267.8h1.3M2072.6 279.1h1.3M2037.6 259.7h1.3M2016.5 257.2h1.3M2143.3 262.7h1.3M2047.0 253.5h1.3M2070.6 265.9h1.3M2005.9 255.2h1.3M2047.6 257.9h1.3M2083.7 256.1h1.3M2057.8 247.0h1.3M2103.0 268.6h1.3M2025.3 258.3h1.3M1964.9 283.9h1.3M2023.4 258.2h1.3M1983.4 245.5h1.3M2080.1 283.3h1.3M2026.9 248.8h1.3M2041.4 265.1h1.3M2067.4 272.4h1.3M2036.1 240.8h1.3M2053.4 281.9h1.3M2038.7 277.8h1.3M2118.8 278.4h1.3M2054.2 243.1h1.3M2059.1 264.5h1.3M2042.1 263.3h1.3M2105.7 252.0h1.3M2072.3 253.7h1.3M2048.5 259.5h1.3M2021.4 262.5h1.3M2028.8 270.8h1.3M2033.0 264.0h1.3M2087.2 250.1h1.3M2052.6 266.1h1.3M1992.4 249.8h1.3M2075.7 264.5h1.3M2077.6 253.8h1.3M1992.3 266.8h1.3M2087.7 251.9h1.3M2029.2 274.7h1.3M2073.3 274.5h1.3M2086.4 274.0h1.3M2037.7 248.2h1.3M2067.8 268.9h1.3M2074.9 271.1h1.3M1973.9 271.3h1.3M2041.7 259.0h1.3M2085.0 261.1h1.3M2051.0 255.7h1.3M2060.5 266.5h1.3M2043.7 256.6h1.3M2061.7 289.4h1.3M2070.8 253.8h1.3M2057.1 258.6h1.3M1965.6 273.3h1.3M1995.0 251.5h1.3M2004.9 272.6h1.3M1997.2 265.9h1.3M1996.3 253.6h1.3M2037.5 260.3h1.3M1998.6 252.4h1.3M2012.5 262.0h1.3M1994.0 258.5h1.3M2023.6 262.2h1.3M2006.0 280.2h1.3M2029.3 267.2h1.3M1983.2 257.8h1.3M1987.6 270.6h1.3M2003.8 271.1h1.3M1999.5 266.7h1.3M2013.2 280.8h1.3M1990.2 267.1h1.3M1990.3 270.6h1.3M1999.7 261.9h1.3M1995.8 260.5h1.3M1996.8 271.9h1.3M2019.4 255.4h1.3M2029.2 277.9h1.3M2010.6 253.2h1.3M1996.1 265.8h1.3M2014.1 257.5h1.3M2014.8 275.2h1.3M1993.9 264.9h1.3M2000.6 263.8h1.3M2017.3 259.1h1.3M1972.6 261.1h1.3M2023.9 273.7h1.3M1971.5 267.1h1.3M2016.9 243.0h1.3M1981.9 273.6h1.3M1986.1 250.8h1.3M2021.5 269.2h1.3M1973.9 262.3h1.3M1979.3 275.5h1.3M2010.0 269.6h1.3M2018.3 267.6h1.3M2011.6 269.0h1.3M1996.1 249.4h1.3M1973.4 256.8h1.3M2015.9 264.3h1.3M1984.8 267.6h1.3M2056.9 217.5h1.3M2008.9 204.3h1.3M2004.6 211.4h1.3M2093.6 197.4h1.3" stroke="#7f93dd" stroke-width="1.3" fill="none"/>
<g filter="url(#grain)">
<ellipse cx="2013.8" cy="264.4" rx="72" ry="15" fill="url(#gCyan)"/>
<ellipse cx="2060.8" cy="264.4" rx="68" ry="22" fill="url(#gHot)"/>
<ellipse cx="1958.8" cy="263.9" rx="20" ry="23" fill="url(#gHotL)"/>
</g>
<line x1="1977.8999999999999" y1="62.9" x2="1977.8999999999999" y2="315.9" stroke="#000" stroke-width="1.7"/>
<line x1="1913.8" y1="234.1" x2="2166.2" y2="234.1" stroke="#000" stroke-width="1.7"/>
<rect x="1913.8" y="62.9" width="252.4" height="253.0" fill="none" stroke="#828282" stroke-width="1.15"/>
<text x="1918.3" y="81.1" font-size="22" text-anchor="start" fill="#1a1a1a">0.011</text>
<text x="2155.8999999999996" y="81.1" font-size="22" text-anchor="end" fill="#1a1a1a">0.017</text>
<text x="1918.3" y="302.59999999999997" font-size="22" text-anchor="start" fill="#1a1a1a">22.8</text>
<text x="2154.7" y="302.59999999999997" font-size="22" text-anchor="end" fill="#1a1a1a">77.2</text>
</g>
<g>
<path d="M1455.7 459.8h1.3M1449.0 478.5h1.3M1447.2 489.4h1.3M1449.3 486.3h1.3M1456.1 407.9h1.3M1448.9 386.6h1.3M1455.1 464.5h1.3M1438.2 438.4h1.3M1426.4 410.8h1.3M1434.6 479.5h1.3M1443.2 398.6h1.3M1446.6 481.0h1.3M1441.7 448.0h1.3M1440.3 441.1h1.3M1448.7 436.8h1.3M1443.5 449.6h1.3M1438.2 477.3h1.3M1426.0 403.0h1.3M1436.5 455.7h1.3M1440.4 461.0h1.3M1448.9 363.7h1.3M1446.6 470.9h1.3M1448.7 445.1h1.3M1449.3 429.1h1.3M1445.4 443.4h1.3M1451.3 471.5h1.3M1453.8 417.9h1.3M1448.9 458.4h1.3M1443.9 401.1h1.3M1440.0 455.0h1.3M1450.0 433.2h1.3M1446.0 436.2h1.3M1451.3 380.2h1.3M1432.5 364.9h1.3M1446.2 423.9h1.3M1443.7 416.8h1.3M1440.7 357.4h1.3M1445.6 379.0h1.3M1445.7 400.1h1.3M1437.9 438.3h1.3M1454.5 384.2h1.3M1457.1 407.6h1.3M1464.4 436.7h1.3M1451.8 433.1h1.3M1445.8 447.4h1.3M1443.1 448.1h1.3M1442.0 425.1h1.3M1434.0 503.4h1.3M1451.5 426.2h1.3M1445.9 404.4h1.3M1440.7 357.0h1.3M1446.9 461.7h1.3M1437.5 396.4h1.3M1446.9 407.2h1.3M1451.5 381.0h1.3M1440.7 463.2h1.3M1457.1 376.5h1.3M1440.3 405.2h1.3M1427.2 451.8h1.3M1441.1 421.9h1.3M1449.0 399.9h1.3M1447.9 475.9h1.3M1457.1 461.1h1.3M1441.2 430.1h1.3M1461.2 391.5h1.3M1447.9 421.8h1.3M1445.3 425.2h1.3M1444.8 407.7h1.3M1440.7 346.7h1.3M1444.1 424.7h1.3M1433.9 401.9h1.3M1449.9 433.5h1.3M1442.4 418.6h1.3M1442.9 394.9h1.3M1447.1 493.3h1.3M1447.2 433.5h1.3M1440.3 431.5h1.3M1446.3 434.3h1.3M1450.3 376.8h1.3M1447.1 395.4h1.3M1439.7 447.0h1.3M1438.7 516.1h1.3M1456.6 360.7h1.3M1448.0 426.9h1.3M1446.1 440.4h1.3M1450.2 518.7h1.3M1448.4 495.8h1.3M1431.8 495.4h1.3M1450.9 510.5h1.3M1441.6 480.3h1.3M1438.4 486.4h1.3M1446.3 470.1h1.3M1445.5 486.9h1.3M1445.6 510.0h1.3M1432.3 487.4h1.3M1447.3 481.0h1.3M1447.2 501.9h1.3M1445.7 461.3h1.3M1442.2 495.8h1.3M1446.7 459.5h1.3M1445.0 517.8h1.3M1445.1 483.1h1.3M1440.4 486.0h1.3M1455.1 483.5h1.3M1438.6 474.9h1.3M1445.5 484.6h1.3M1441.3 487.0h1.3M1441.3 491.3h1.3M1444.6 500.3h1.3M1443.2 536.0h1.3M1450.1 527.6h1.3M1454.3 523.8h1.3M1431.9 515.3h1.3M1449.4 534.0h1.3M1446.7 510.0h1.3M1443.6 538.2h1.3M1455.0 511.4h1.3M1449.9 521.9h1.3M1444.9 535.0h1.3M1460.6 522.7h1.3M1454.3 512.7h1.3M1437.8 522.2h1.3M1447.9 528.8h1.3M1444.2 545.2h1.3M1448.6 545.1h1.3M1437.2 527.4h1.3M1448.7 515.9h1.3M1441.3 504.4h1.3M1440.1 520.3h1.3M1434.9 525.7h1.3M1448.9 533.9h1.3M1445.2 518.0h1.3M1440.2 540.8h1.3M1440.3 542.7h1.3M1452.1 526.8h1.3M1447.2 520.1h1.3M1446.8 525.0h1.3M1442.7 511.0h1.3M1428.6 531.0h1.3M1437.1 520.5h1.3M1448.6 520.2h1.3M1453.5 535.9h1.3M1461.0 522.7h1.3M1453.0 515.9h1.3M1446.9 523.4h1.3M1456.2 542.4h1.3M1461.4 518.7h1.3M1445.2 515.1h1.3M1452.3 517.6h1.3M1449.6 504.8h1.3M1437.1 501.7h1.3M1437.9 520.1h1.3M1442.4 514.3h1.3M1453.3 546.2h1.3M1439.0 542.8h1.3M1456.4 546.9h1.3M1438.4 552.4h1.3M1448.9 538.0h1.3M1452.7 542.0h1.3M1447.1 541.8h1.3M1517.4 388.1h1.3" stroke="#3f5cc4" stroke-width="1.3" fill="none"/>
<path d="M1453.8 414.3h1.3M1426.3 419.5h1.3M1451.2 405.2h1.3M1459.3 401.4h1.3M1443.7 357.2h1.3M1447.2 390.6h1.3M1452.0 381.0h1.3M1441.7 474.6h1.3M1435.4 455.1h1.3M1439.2 463.3h1.3M1437.6 432.7h1.3M1441.5 392.8h1.3M1448.7 467.7h1.3M1434.3 430.8h1.3M1439.8 451.9h1.3M1456.0 455.1h1.3M1451.8 440.1h1.3M1424.2 450.6h1.3M1438.7 430.6h1.3M1440.6 446.3h1.3M1450.7 379.7h1.3M1458.0 426.3h1.3M1440.1 461.1h1.3M1447.3 402.3h1.3M1447.5 431.7h1.3M1444.8 443.4h1.3M1461.8 380.0h1.3M1465.1 426.7h1.3M1448.5 419.8h1.3M1449.3 373.9h1.3M1446.0 413.9h1.3M1447.1 412.6h1.3M1447.1 419.0h1.3M1441.9 479.9h1.3M1446.7 458.0h1.3M1441.4 442.3h1.3M1447.7 430.8h1.3M1436.3 403.1h1.3M1449.2 420.9h1.3M1464.2 415.7h1.3M1427.9 409.5h1.3M1451.1 389.6h1.3M1437.4 426.4h1.3M1458.3 414.2h1.3M1436.2 434.3h1.3M1440.2 460.4h1.3M1445.1 440.4h1.3M1434.7 410.1h1.3M1444.8 366.5h1.3M1448.6 335.1h1.3M1466.9 445.3h1.3M1453.6 379.3h1.3M1430.7 455.5h1.3M1427.5 373.2h1.3M1437.3 450.9h1.3M1450.3 451.1h1.3M1455.7 391.4h1.3M1458.4 443.2h1.3M1446.8 458.2h1.3M1432.0 406.8h1.3M1436.7 421.1h1.3M1442.2 413.6h1.3M1451.2 373.8h1.3M1465.6 448.4h1.3M1470.0 458.2h1.3M1448.8 452.8h1.3M1442.7 415.2h1.3M1433.8 441.7h1.3M1438.4 376.5h1.3M1449.9 464.3h1.3M1439.2 429.5h1.3M1448.1 427.7h1.3M1440.4 445.3h1.3M1438.4 418.9h1.3M1436.4 513.6h1.3M1447.9 419.4h1.3M1438.7 383.1h1.3M1438.6 419.2h1.3M1452.0 405.5h1.3M1448.7 390.8h1.3M1442.6 382.2h1.3M1448.3 382.6h1.3M1444.0 437.5h1.3M1446.4 479.2h1.3M1444.6 402.0h1.3M1431.8 459.3h1.3M1446.1 478.5h1.3M1441.5 427.7h1.3M1451.7 414.1h1.3M1447.3 444.0h1.3M1456.2 413.8h1.3M1446.9 471.5h1.3M1437.0 428.9h1.3M1438.1 419.9h1.3M1425.0 489.7h1.3M1446.0 447.3h1.3M1448.7 462.7h1.3M1450.2 394.0h1.3M1446.4 371.6h1.3M1432.8 382.1h1.3M1445.0 402.2h1.3M1454.0 421.8h1.3M1439.6 444.6h1.3M1437.1 448.5h1.3M1458.3 370.2h1.3M1446.2 397.8h1.3M1436.9 407.3h1.3M1458.2 428.8h1.3M1445.5 383.1h1.3M1443.9 450.8h1.3M1449.5 480.1h1.3M1440.7 526.2h1.3M1447.0 490.3h1.3M1446.5 478.5h1.3M1440.5 483.0h1.3M1432.7 496.3h1.3M1445.7 477.2h1.3M1451.3 487.7h1.3M1443.1 483.4h1.3M1448.4 502.0h1.3M1443.1 484.1h1.3M1440.1 490.4h1.3M1444.3 501.5h1.3M1438.1 461.1h1.3M1456.2 502.3h1.3M1441.7 456.0h1.3M1447.4 474.1h1.3M1445.0 502.1h1.3M1436.0 481.6h1.3M1437.8 483.3h1.3M1448.7 484.4h1.3M1446.5 495.6h1.3M1432.9 482.4h1.3M1445.4 473.8h1.3M1439.9 471.9h1.3M1446.3 475.3h1.3M1441.0 503.6h1.3M1454.6 469.4h1.3M1448.6 526.1h1.3M1444.8 548.6h1.3M1439.8 520.5h1.3M1439.7 512.9h1.3M1451.2 532.3h1.3M1447.6 521.9h1.3M1461.1 509.2h1.3M1447.5 510.1h1.3M1451.8 530.2h1.3M1445.9 503.3h1.3M1441.3 499.0h1.3M1453.5 534.9h1.3M1447.3 494.0h1.3M1439.7 538.0h1.3M1449.9 509.5h1.3M1442.4 549.9h1.3M1434.1 500.5h1.3M1441.9 511.3h1.3M1449.9 510.9h1.3M1448.5 517.0h1.3M1433.2 525.1h1.3M1431.5 514.1h1.3M1450.9 513.1h1.3M1442.2 527.6h1.3M1446.9 541.3h1.3M1445.7 513.1h1.3M1444.6 525.3h1.3M1464.8 526.8h1.3M1452.4 518.4h1.3M1454.8 529.6h1.3M1448.6 539.8h1.3M1450.2 520.5h1.3M1441.0 508.5h1.3M1438.6 517.3h1.3M1452.2 511.2h1.3M1451.0 531.4h1.3M1436.6 536.7h1.3M1444.3 507.1h1.3M1445.1 513.2h1.3M1433.9 541.2h1.3M1437.1 515.9h1.3M1451.0 531.7h1.3M1448.2 522.2h1.3M1452.2 549.6h1.3M1452.8 556.5h1.3M1441.9 548.3h1.3M1445.9 548.2h1.3M1441.7 558.0h1.3M1597.2 361.3h1.3" stroke="#5573d2" stroke-width="1.3" fill="none"/>
<path d="M1450.8 442.5h1.3M1460.5 467.9h1.3M1435.7 425.7h1.3M1446.3 453.7h1.3M1445.0 444.6h1.3M1457.5 370.0h1.3M1441.5 450.8h1.3M1445.1 376.1h1.3M1442.7 390.8h1.3M1433.5 374.6h1.3M1437.7 406.6h1.3M1435.8 394.3h1.3M1441.0 395.6h1.3M1454.2 450.3h1.3M1438.9 454.2h1.3M1453.0 448.5h1.3M1456.4 426.6h1.3M1464.5 420.3h1.3M1458.2 347.6h1.3M1453.1 427.6h1.3M1452.0 436.9h1.3M1442.0 402.5h1.3M1435.6 435.6h1.3M1440.8 463.1h1.3M1445.1 411.7h1.3M1443.0 416.0h1.3M1435.8 388.8h1.3M1440.7 383.2h1.3M1439.9 428.9h1.3M1439.2 463.6h1.3M1447.0 443.7h1.3M1441.0 455.0h1.3M1457.7 423.9h1.3M1442.7 455.1h1.3M1439.8 472.3h1.3M1448.4 430.4h1.3M1449.9 469.6h1.3M1451.7 429.8h1.3M1442.0 469.3h1.3M1446.5 395.9h1.3M1448.3 421.3h1.3M1437.4 428.6h1.3M1446.5 395.5h1.3M1443.0 402.3h1.3M1450.4 420.6h1.3M1449.2 445.3h1.3M1443.7 374.1h1.3M1436.0 490.0h1.3M1444.4 383.4h1.3M1449.1 402.1h1.3M1440.1 393.8h1.3M1435.9 427.0h1.3M1447.6 408.2h1.3M1452.6 431.6h1.3M1443.3 394.1h1.3M1443.6 447.6h1.3M1446.0 429.8h1.3M1445.5 443.4h1.3M1459.0 369.6h1.3M1443.0 425.0h1.3M1444.5 399.4h1.3M1439.1 418.7h1.3M1445.1 447.6h1.3M1441.7 446.2h1.3M1449.9 443.4h1.3M1453.8 352.8h1.3M1442.5 396.7h1.3M1444.0 458.8h1.3M1450.7 360.0h1.3M1454.3 358.6h1.3M1456.4 419.4h1.3M1459.2 469.7h1.3M1448.3 455.1h1.3M1440.1 427.9h1.3M1455.2 435.5h1.3M1449.0 386.1h1.3M1449.5 441.5h1.3M1441.0 386.2h1.3M1450.2 450.0h1.3M1445.5 445.7h1.3M1458.6 368.9h1.3M1445.1 444.3h1.3M1446.3 477.0h1.3M1451.9 360.0h1.3M1432.3 399.9h1.3M1444.9 479.0h1.3M1439.8 435.2h1.3M1442.8 448.7h1.3M1449.4 455.2h1.3M1450.1 345.8h1.3M1440.2 418.5h1.3M1455.9 481.3h1.3M1442.5 510.0h1.3M1452.2 471.6h1.3M1442.5 481.3h1.3M1442.3 479.4h1.3M1443.8 493.3h1.3M1449.3 492.1h1.3M1444.9 480.6h1.3M1442.5 477.8h1.3M1441.0 472.2h1.3M1443.2 488.0h1.3M1438.8 475.0h1.3M1447.3 473.0h1.3M1436.8 462.2h1.3M1447.4 468.5h1.3M1444.5 475.8h1.3M1442.9 482.2h1.3M1438.5 474.5h1.3M1439.8 484.3h1.3M1440.3 446.4h1.3M1448.5 492.9h1.3M1445.8 498.7h1.3M1446.2 499.0h1.3M1450.4 477.3h1.3M1436.9 466.8h1.3M1434.6 492.8h1.3M1442.1 481.6h1.3M1451.0 496.5h1.3M1451.7 439.9h1.3M1443.1 479.2h1.3M1453.5 474.5h1.3M1438.6 469.7h1.3M1432.0 499.7h1.3M1448.7 504.0h1.3M1442.1 508.9h1.3M1458.3 513.5h1.3M1442.6 512.3h1.3M1445.9 507.2h1.3M1449.5 514.9h1.3M1446.0 508.0h1.3M1439.8 518.6h1.3M1441.7 523.3h1.3M1454.9 514.8h1.3M1458.8 533.1h1.3M1441.0 522.3h1.3M1446.5 538.4h1.3M1439.7 518.2h1.3M1455.8 509.4h1.3M1451.5 518.3h1.3M1453.6 512.1h1.3M1450.1 519.8h1.3M1450.2 522.1h1.3M1462.0 530.3h1.3M1446.6 506.4h1.3M1439.1 509.0h1.3M1456.7 527.7h1.3M1449.8 515.4h1.3M1438.3 507.4h1.3M1432.1 520.7h1.3M1441.1 532.0h1.3M1451.9 526.4h1.3M1441.2 521.1h1.3M1442.6 516.1h1.3M1440.6 537.4h1.3M1454.8 522.3h1.3M1437.8 516.5h1.3M1456.2 522.2h1.3M1447.8 557.5h1.3M1454.3 552.9h1.3M1442.1 548.2h1.3M1562.8 470.8h1.3M1504.4 484.0h1.3" stroke="#2f4db0" stroke-width="1.3" fill="none"/>
<path d="M1442.5 451.2h1.3M1472.7 405.0h1.3M1435.9 422.9h1.3M1431.8 423.1h1.3M1448.0 402.8h1.3M1436.0 450.0h1.3M1446.3 433.1h1.3M1448.3 422.5h1.3M1447.1 380.3h1.3M1458.5 413.8h1.3M1459.1 405.9h1.3M1443.5 476.4h1.3M1440.6 410.7h1.3M1458.9 460.8h1.3M1428.0 327.8h1.3M1456.1 385.8h1.3M1438.9 406.1h1.3M1454.3 422.0h1.3M1443.3 412.7h1.3M1445.7 438.0h1.3M1440.4 463.3h1.3M1438.6 406.5h1.3M1435.6 354.4h1.3M1436.8 427.7h1.3M1442.8 419.1h1.3M1447.9 474.9h1.3M1443.9 465.0h1.3M1455.8 414.1h1.3M1454.4 444.1h1.3M1432.6 341.8h1.3M1426.3 385.8h1.3M1450.5 444.8h1.3M1437.0 370.6h1.3M1440.9 440.9h1.3M1428.3 419.2h1.3M1448.7 422.6h1.3M1451.2 436.5h1.3M1437.6 473.4h1.3M1448.0 416.1h1.3M1452.8 444.3h1.3M1451.7 460.0h1.3M1446.1 473.2h1.3M1451.3 438.1h1.3M1443.1 462.9h1.3M1444.4 424.8h1.3M1456.5 471.0h1.3M1449.2 446.9h1.3M1461.5 450.8h1.3M1454.6 443.5h1.3M1442.1 415.4h1.3M1453.7 462.3h1.3M1456.6 449.2h1.3M1436.1 414.9h1.3M1449.0 417.0h1.3M1456.5 447.2h1.3M1441.2 435.5h1.3M1441.9 418.9h1.3M1445.0 403.0h1.3M1450.9 475.2h1.3M1444.0 434.4h1.3M1450.1 374.7h1.3M1445.2 431.8h1.3M1451.7 428.3h1.3M1457.3 469.7h1.3M1444.7 398.6h1.3M1442.4 398.8h1.3M1435.7 408.8h1.3M1442.9 459.4h1.3M1448.7 490.9h1.3M1437.0 428.3h1.3M1440.5 463.9h1.3M1453.7 488.3h1.3M1452.1 491.3h1.3M1441.2 432.5h1.3M1460.0 434.9h1.3M1457.9 425.1h1.3M1454.9 366.5h1.3M1443.0 455.9h1.3M1444.1 439.0h1.3M1427.6 432.5h1.3M1431.2 428.6h1.3M1442.9 428.9h1.3M1449.1 460.7h1.3M1429.7 435.2h1.3M1460.7 436.5h1.3M1445.4 438.1h1.3M1451.9 418.2h1.3M1433.7 441.6h1.3M1436.3 438.8h1.3M1441.4 473.3h1.3M1449.0 453.8h1.3M1441.9 414.7h1.3M1439.6 382.7h1.3M1442.9 471.5h1.3M1446.6 516.0h1.3M1440.5 473.3h1.3M1442.3 515.6h1.3M1449.9 502.9h1.3M1438.3 496.3h1.3M1448.7 494.1h1.3M1447.6 473.2h1.3M1443.9 464.7h1.3M1443.1 491.3h1.3M1444.2 500.4h1.3M1429.4 461.3h1.3M1435.2 462.0h1.3M1445.0 484.7h1.3M1450.0 499.8h1.3M1445.6 481.8h1.3M1437.4 509.2h1.3M1452.6 496.0h1.3M1451.1 463.4h1.3M1448.5 474.6h1.3M1456.0 474.2h1.3M1449.8 486.7h1.3M1442.1 496.2h1.3M1446.3 488.7h1.3M1453.8 489.1h1.3M1453.0 467.7h1.3M1456.6 481.9h1.3M1449.7 500.6h1.3M1447.2 489.4h1.3M1438.1 456.3h1.3M1442.3 482.9h1.3M1440.9 494.1h1.3M1440.7 483.7h1.3M1443.6 435.0h1.3M1449.2 522.4h1.3M1446.8 533.1h1.3M1441.9 500.1h1.3M1431.9 495.6h1.3M1455.3 521.4h1.3M1443.7 520.0h1.3M1435.9 514.2h1.3M1444.7 520.1h1.3M1442.0 511.2h1.3M1450.6 495.2h1.3M1432.9 527.1h1.3M1453.9 509.9h1.3M1451.3 538.5h1.3M1438.3 524.7h1.3M1435.4 517.1h1.3M1446.7 528.9h1.3M1453.9 519.2h1.3M1440.8 536.2h1.3M1418.2 506.7h1.3M1442.2 519.3h1.3M1437.2 524.1h1.3M1453.4 518.7h1.3M1439.7 516.7h1.3M1443.0 519.4h1.3M1439.7 526.2h1.3M1443.7 516.7h1.3M1445.1 524.3h1.3M1455.5 534.1h1.3M1449.2 534.7h1.3M1448.2 533.2h1.3M1448.1 508.2h1.3M1452.8 536.0h1.3M1448.5 514.7h1.3M1448.0 511.9h1.3M1447.0 500.0h1.3M1444.3 509.4h1.3M1452.4 498.5h1.3M1441.1 524.2h1.3M1448.0 520.3h1.3M1440.0 521.1h1.3M1436.8 517.7h1.3M1449.7 540.5h1.3M1448.0 559.0h1.3M1445.3 558.8h1.3M1441.0 556.1h1.3M1441.7 543.6h1.3M1448.4 556.8h1.3M1445.8 543.9h1.3M1442.0 549.8h1.3M1456.4 550.4h1.3M1446.1 562.6h1.3M1494.7 401.6h1.3M1514.9 475.8h1.3" stroke="#7f93dd" stroke-width="1.3" fill="none"/>
<g filter="url(#grain)">
<ellipse cx="1445.9" cy="424.4" rx="14.5" ry="66" fill="url(#gHot)"/>
<ellipse cx="1445.9" cy="487.4" rx="13" ry="34" fill="url(#gCyan)"/>
<ellipse cx="1445.9" cy="520.4" rx="14" ry="24" fill="url(#gWarm)"/>
</g>
<line x1="1465.5" y1="319.4" x2="1465.5" y2="572.4" stroke="#000" stroke-width="1.7"/>
<line x1="1401.4" y1="490.59999999999997" x2="1653.8000000000002" y2="490.59999999999997" stroke="#000" stroke-width="1.7"/>
<rect x="1401.4" y="319.4" width="252.4" height="253.0" fill="none" stroke="#828282" stroke-width="1.15"/>
<text x="1405.9" y="337.59999999999997" font-size="22" text-anchor="start" fill="#1a1a1a">87.6</text>
<text x="1644.8000000000002" y="337.59999999999997" font-size="22" text-anchor="end" fill="#1a1a1a">0.048</text>
<text x="1405.9" y="559.1" font-size="22" text-anchor="start" fill="#1a1a1a">12.4</text>
<text x="1649.3000000000002" y="559.1" font-size="22" text-anchor="end" fill="#1a1a1a">4.54E-3</text>
</g>
<g>
<path d="M1715.1 428.6h1.3M1684.3 477.6h1.3M1688.9 418.2h1.3M1678.7 454.4h1.3M1704.6 451.6h1.3M1684.7 472.8h1.3M1700.5 390.4h1.3M1703.3 458.4h1.3M1709.6 373.6h1.3M1685.8 389.6h1.3M1695.4 464.3h1.3M1693.1 374.0h1.3M1709.0 474.0h1.3M1690.2 398.9h1.3M1707.3 449.5h1.3M1703.5 386.6h1.3M1706.4 392.9h1.3M1717.2 344.5h1.3M1701.9 435.2h1.3M1714.7 408.7h1.3M1698.3 433.5h1.3M1724.7 474.0h1.3M1702.4 425.1h1.3M1724.1 465.0h1.3M1701.2 440.0h1.3M1681.3 438.5h1.3M1707.1 454.6h1.3M1700.9 403.5h1.3M1708.2 450.9h1.3M1685.1 408.2h1.3M1714.7 426.9h1.3M1707.2 446.9h1.3M1699.7 502.1h1.3M1699.3 402.2h1.3M1707.0 415.4h1.3M1700.5 409.5h1.3M1697.7 373.6h1.3M1709.9 382.6h1.3M1707.9 492.4h1.3M1681.5 386.3h1.3M1701.4 455.4h1.3M1712.6 393.9h1.3M1705.8 422.8h1.3M1694.5 431.6h1.3M1695.2 453.9h1.3M1690.7 373.0h1.3M1705.6 411.3h1.3M1681.6 396.9h1.3M1712.6 417.3h1.3M1706.0 439.5h1.3M1701.0 362.3h1.3M1710.3 423.6h1.3M1701.4 425.7h1.3M1710.8 391.6h1.3M1697.1 407.7h1.3M1687.3 391.7h1.3M1698.1 448.1h1.3M1700.2 444.8h1.3M1688.5 412.1h1.3M1692.5 434.4h1.3M1704.3 491.3h1.3M1695.4 435.2h1.3M1716.4 426.6h1.3M1702.7 442.9h1.3M1686.0 467.8h1.3M1718.3 462.8h1.3M1691.8 456.4h1.3M1705.5 367.9h1.3M1707.6 368.5h1.3M1708.5 456.9h1.3M1711.6 429.5h1.3M1683.1 431.1h1.3M1682.0 404.0h1.3M1706.2 368.9h1.3M1698.6 378.3h1.3M1696.0 437.2h1.3M1694.6 373.1h1.3M1722.8 436.6h1.3M1703.4 420.1h1.3M1691.3 422.9h1.3M1690.2 459.1h1.3M1712.7 436.0h1.3M1700.7 415.1h1.3M1714.4 426.1h1.3M1721.8 380.8h1.3M1703.6 451.9h1.3M1711.6 443.4h1.3M1677.4 481.6h1.3M1701.2 427.5h1.3M1694.6 420.8h1.3M1695.2 387.2h1.3M1702.6 428.6h1.3M1703.6 412.5h1.3M1695.6 418.3h1.3M1691.6 419.1h1.3M1713.8 378.7h1.3M1697.6 359.5h1.3M1701.4 409.4h1.3M1708.4 439.1h1.3M1690.5 498.3h1.3M1688.9 403.6h1.3M1707.3 386.9h1.3M1688.4 431.3h1.3M1691.5 460.3h1.3M1696.8 448.2h1.3M1715.0 394.1h1.3M1712.7 409.1h1.3M1696.8 411.8h1.3M1701.7 458.3h1.3M1719.1 434.9h1.3M1698.8 403.6h1.3M1715.8 465.3h1.3M1699.6 411.7h1.3M1685.1 422.2h1.3M1694.7 437.3h1.3M1694.5 415.6h1.3M1700.8 435.4h1.3M1698.9 391.9h1.3M1686.9 464.7h1.3M1709.4 422.6h1.3M1690.4 478.3h1.3M1699.0 433.6h1.3M1711.5 336.9h1.3M1688.9 393.8h1.3M1694.0 448.5h1.3M1675.6 472.4h1.3M1725.3 438.9h1.3M1706.6 482.3h1.3M1712.6 453.8h1.3M1697.7 478.7h1.3M1694.6 523.9h1.3M1700.0 474.8h1.3M1682.8 484.7h1.3M1694.6 489.3h1.3M1702.8 490.0h1.3M1701.2 471.5h1.3M1710.1 481.1h1.3M1700.4 506.2h1.3M1699.4 525.6h1.3M1699.1 510.5h1.3M1694.0 492.8h1.3M1687.6 498.0h1.3M1701.4 472.0h1.3M1700.6 512.1h1.3M1695.8 496.2h1.3M1714.7 508.6h1.3M1693.4 469.0h1.3M1703.6 518.7h1.3M1698.1 496.3h1.3M1691.3 465.6h1.3M1705.6 497.3h1.3M1703.7 467.0h1.3M1701.4 486.4h1.3M1702.4 460.3h1.3M1707.2 523.1h1.3M1701.8 517.5h1.3M1703.5 498.1h1.3M1708.4 485.5h1.3M1695.1 497.0h1.3M1704.4 489.0h1.3M1712.9 502.6h1.3M1706.9 479.4h1.3M1688.4 502.9h1.3M1693.1 510.4h1.3M1708.3 529.3h1.3M1693.9 519.3h1.3M1709.4 515.7h1.3M1700.7 507.6h1.3M1706.8 532.3h1.3M1703.1 517.7h1.3M1702.4 526.1h1.3M1697.0 517.6h1.3M1692.2 519.2h1.3M1709.2 521.9h1.3M1709.3 516.1h1.3M1712.9 537.0h1.3M1716.8 534.8h1.3M1710.5 516.0h1.3M1712.8 490.8h1.3M1700.0 524.5h1.3M1684.9 526.2h1.3M1701.5 527.7h1.3M1699.9 530.0h1.3M1707.5 526.6h1.3M1691.0 520.0h1.3M1713.4 542.0h1.3M1693.9 508.0h1.3M1701.7 503.2h1.3M1707.2 540.3h1.3M1701.0 501.4h1.3M1677.8 530.0h1.3M1700.4 503.1h1.3M1693.9 512.0h1.3M1688.4 516.9h1.3M1691.8 529.6h1.3M1706.1 515.2h1.3M1712.8 508.2h1.3M1698.6 515.7h1.3M1683.9 495.8h1.3M1701.0 515.2h1.3M1694.2 510.7h1.3M1706.7 519.6h1.3M1696.4 513.8h1.3M1697.5 520.3h1.3M1681.3 536.1h1.3M1718.3 517.3h1.3M1706.7 507.9h1.3M1720.5 524.0h1.3M1680.8 530.8h1.3M1689.8 519.0h1.3M1776.1 510.5h1.3M1782.8 495.6h1.3M1813.1 537.3h1.3M1766.4 510.7h1.3M1798.3 504.2h1.3M1866.5 520.3h1.3M1818.4 503.1h1.3M1768.8 540.1h1.3M1761.1 515.0h1.3M1826.9 519.0h1.3M1795.1 525.3h1.3M1795.0 516.6h1.3M1814.8 509.7h1.3M1820.4 505.4h1.3M1796.1 516.3h1.3M1859.3 526.3h1.3M1793.9 522.0h1.3M1776.3 544.1h1.3M1796.6 522.9h1.3M1809.7 516.2h1.3M1846.3 528.8h1.3M1836.0 509.7h1.3M1788.1 539.4h1.3M1820.5 524.0h1.3M1850.2 519.1h1.3M1790.1 504.7h1.3M1828.5 535.6h1.3M1781.5 535.8h1.3M1820.3 539.5h1.3M1883.1 518.3h1.3M1769.3 534.5h1.3M1805.3 519.2h1.3M1835.6 528.7h1.3M1846.8 518.6h1.3M1785.7 514.5h1.3M1798.5 513.4h1.3M1837.8 523.6h1.3M1826.2 526.4h1.3M1831.6 540.8h1.3M1819.7 513.8h1.3M1836.3 535.4h1.3M1801.4 512.8h1.3M1782.6 527.4h1.3M1857.5 479.6h1.3M1883.8 519.2h1.3M1818.6 532.1h1.3M1820.4 550.8h1.3M1889.1 524.5h1.3M1850.2 524.5h1.3M1848.4 524.5h1.3M1839.0 524.7h1.3M1815.8 504.8h1.3M1891.0 539.2h1.3M1768.5 533.8h1.3M1775.9 527.3h1.3M1858.5 519.6h1.3M1827.3 517.9h1.3M1783.6 517.2h1.3M1837.7 549.9h1.3M1871.6 530.4h1.3M1820.0 551.4h1.3M1803.3 513.2h1.3M1798.6 523.0h1.3M1818.3 543.9h1.3M1777.0 499.9h1.3M1901.1 520.5h1.3M1781.3 502.1h1.3M1798.8 522.0h1.3M1787.8 527.8h1.3M1788.9 508.0h1.3M1794.0 523.4h1.3M1823.7 513.8h1.3M1808.7 496.9h1.3M1774.7 522.2h1.3M1763.3 529.8h1.3M1778.1 528.8h1.3M1809.1 541.1h1.3M1843.1 519.0h1.3M1778.9 521.5h1.3M1777.2 496.2h1.3M1850.5 522.9h1.3M1814.6 530.3h1.3M1827.6 528.0h1.3M1810.7 544.8h1.3M1852.6 505.8h1.3M1820.6 510.5h1.3M1812.6 525.7h1.3M1771.4 510.2h1.3M1800.5 506.5h1.3M1820.3 529.4h1.3M1862.4 517.6h1.3M1827.7 513.6h1.3M1779.7 503.8h1.3M1794.8 498.5h1.3M1868.7 527.2h1.3M1829.5 513.7h1.3M1767.6 538.1h1.3M1772.1 515.5h1.3M1880.0 506.3h1.3M1868.4 511.7h1.3M1839.6 539.0h1.3M1844.1 529.5h1.3M1859.4 521.3h1.3M1801.9 507.0h1.3M1823.8 518.7h1.3M1805.4 520.0h1.3M1827.2 541.3h1.3M1808.6 529.0h1.3M1823.9 531.7h1.3M1788.4 541.7h1.3M1795.4 523.9h1.3M1835.6 519.4h1.3M1749.4 506.9h1.3M1713.2 496.3h1.3M1827.9 538.2h1.3M1836.0 535.2h1.3M1807.9 523.7h1.3M1792.6 519.4h1.3M1884.3 536.4h1.3M1853.8 510.8h1.3M1814.7 525.3h1.3M1778.6 499.5h1.3M1767.5 506.0h1.3M1823.1 517.8h1.3M1804.6 526.1h1.3M1770.4 528.4h1.3M1822.0 502.5h1.3M1873.4 515.6h1.3M1834.9 532.5h1.3M1830.8 531.4h1.3M1823.9 502.3h1.3M1809.6 525.9h1.3M1752.6 519.4h1.3M1771.6 520.6h1.3M1803.4 508.1h1.3M1839.4 520.7h1.3M1796.1 526.2h1.3M1846.4 503.1h1.3M1817.0 515.1h1.3M1812.1 536.7h1.3M1796.0 506.4h1.3M1795.4 512.3h1.3M1837.2 511.0h1.3M1806.7 524.3h1.3M1834.8 534.6h1.3M1798.1 525.1h1.3M1742.0 542.2h1.3M1764.9 535.6h1.3M1769.6 512.7h1.3M1818.5 524.2h1.3M1825.3 529.0h1.3M1793.4 507.1h1.3M1844.5 530.2h1.3M1812.1 503.1h1.3M1801.3 536.1h1.3M1713.6 513.5h1.3M1760.7 528.2h1.3M1752.4 514.1h1.3M1751.1 526.5h1.3M1767.2 503.1h1.3M1741.4 497.1h1.3M1722.2 525.5h1.3M1791.9 529.0h1.3M1788.7 527.6h1.3M1769.1 528.2h1.3M1731.5 520.5h1.3M1711.7 521.4h1.3M1683.7 510.6h1.3M1728.6 517.3h1.3M1749.5 537.6h1.3M1732.4 514.2h1.3M1740.7 536.8h1.3M1732.3 530.2h1.3M1789.8 513.0h1.3M1752.5 528.7h1.3M1721.9 524.3h1.3M1743.5 530.3h1.3M1734.3 532.6h1.3M1736.5 528.5h1.3M1749.9 522.2h1.3M1757.6 508.3h1.3M1775.8 538.4h1.3M1746.4 519.8h1.3M1741.1 518.9h1.3M1757.0 542.9h1.3M1756.9 529.9h1.3M1718.3 504.5h1.3M1778.4 531.6h1.3M1754.2 514.1h1.3M1723.2 526.4h1.3M1737.4 519.1h1.3M1751.7 502.2h1.3M1746.9 508.2h1.3M1783.2 524.9h1.3M1719.5 532.9h1.3M1754.4 527.9h1.3M1744.4 523.3h1.3M1730.0 534.1h1.3M1740.5 507.9h1.3M1751.4 511.0h1.3M1734.9 511.8h1.3M1748.1 533.1h1.3M1763.4 527.4h1.3M1712.9 518.6h1.3M1745.2 536.3h1.3M1768.8 513.4h1.3M1756.9 502.7h1.3M1777.8 532.4h1.3M1729.8 512.8h1.3M1761.0 520.8h1.3M1724.1 511.3h1.3M1721.9 526.8h1.3M1787.9 505.3h1.3M1791.2 527.4h1.3M1776.7 514.8h1.3M1661.3 426.6h1.3M1717.6 413.6h1.3M1742.5 511.2h1.3M1782.5 450.6h1.3M1829.2 426.5h1.3M1731.7 384.9h1.3M1817.6 405.8h1.3M1770.5 408.6h1.3M1740.4 392.9h1.3M1893.8 425.5h1.3M1857.3 440.9h1.3M1809.8 453.0h1.3M1727.0 436.7h1.3M1723.3 423.0h1.3M1807.9 436.2h1.3M1794.1 435.8h1.3M1726.6 468.8h1.3M1851.9 408.6h1.3M1824.8 433.9h1.3M1859.6 430.6h1.3M1755.6 393.8h1.3M1861.8 411.3h1.3M1813.1 403.5h1.3M1817.4 452.4h1.3M1776.9 439.3h1.3M1805.3 385.9h1.3M1899.6 407.5h1.3M1696.0 502.7h1.3M1779.5 386.6h1.3M1765.0 384.7h1.3M1816.0 384.4h1.3M1776.7 427.9h1.3M1762.9 455.9h1.3M1808.3 477.9h1.3M1826.5 443.2h1.3M1817.3 482.2h1.3M1797.2 433.4h1.3M1711.8 489.4h1.3M1767.5 394.3h1.3M1752.9 379.4h1.3M1745.0 376.7h1.3M1753.4 358.0h1.3M1751.8 411.3h1.3M1707.4 430.8h1.3M1708.7 423.1h1.3M1796.6 398.4h1.3M1842.1 410.5h1.3M1692.4 496.0h1.3M1754.5 449.9h1.3M1771.5 489.1h1.3M1831.9 439.6h1.3M1802.9 471.0h1.3M1846.2 412.3h1.3M1722.5 399.7h1.3M1723.8 512.0h1.3M1721.8 412.8h1.3M1770.2 373.5h1.3M1784.5 392.9h1.3M1747.2 458.3h1.3M1679.3 426.2h1.3M1841.8 452.7h1.3M1715.4 408.3h1.3M1850.5 454.9h1.3M1752.8 430.7h1.3M1748.4 475.7h1.3M1841.0 406.9h1.3M1830.3 407.2h1.3M1774.1 387.2h1.3M1851.7 439.7h1.3M1771.8 438.2h1.3M1767.3 378.4h1.3M1772.6 454.7h1.3M1708.7 446.3h1.3M1774.4 467.5h1.3M1725.6 433.5h1.3M1777.3 446.7h1.3M1744.6 394.9h1.3M1787.7 422.0h1.3M1889.3 410.6h1.3M1768.0 444.8h1.3M1762.4 439.0h1.3M1771.5 487.4h1.3M1825.5 405.5h1.3M1832.0 464.0h1.3M1827.5 384.7h1.3M1742.4 385.2h1.3M1810.9 427.4h1.3M1749.7 474.9h1.3M1755.8 421.6h1.3M1792.1 394.7h1.3M1753.1 406.3h1.3M1771.9 400.8h1.3M1769.7 447.2h1.3M1822.2 432.1h1.3M1768.9 445.3h1.3M1762.5 434.3h1.3M1671.0 348.6h1.3M1704.1 437.0h1.3M1812.6 371.7h1.3M1773.6 409.9h1.3M1795.1 404.0h1.3M1771.2 417.3h1.3M1874.5 380.5h1.3M1871.0 414.2h1.3M1766.0 410.4h1.3M1816.6 391.3h1.3M1703.6 389.3h1.3M1724.9 440.6h1.3M1788.4 420.9h1.3M1751.6 441.1h1.3M1668.7 430.3h1.3M1728.0 483.4h1.3M1768.3 455.5h1.3M1814.7 347.2h1.3M1699.1 462.1h1.3M1827.7 383.2h1.3M1852.2 445.2h1.3M1834.9 440.7h1.3M1828.2 471.4h1.3M1797.5 433.2h1.3M1767.1 436.7h1.3M1772.2 387.9h1.3M1835.1 440.7h1.3M1661.8 387.2h1.3M1826.6 418.0h1.3M1822.9 443.8h1.3M1731.2 463.9h1.3M1773.5 421.4h1.3M1750.6 407.0h1.3M1864.6 442.7h1.3M1826.4 411.6h1.3M1781.8 407.2h1.3M1793.8 452.5h1.3M1802.7 424.6h1.3M1782.8 384.3h1.3M1860.0 434.9h1.3M1840.1 481.3h1.3M1722.7 440.4h1.3M1774.9 470.7h1.3M1754.3 399.1h1.3M1829.5 466.4h1.3M1842.7 438.2h1.3M1823.6 406.2h1.3M1693.7 373.9h1.3M1795.8 365.7h1.3M1705.6 445.2h1.3M1784.9 514.0h1.3M1847.0 437.5h1.3M1806.0 438.6h1.3M1805.1 476.4h1.3M1865.1 389.7h1.3M1784.1 432.1h1.3M1774.0 430.9h1.3M1783.4 408.2h1.3M1788.7 410.9h1.3M1785.5 420.6h1.3M1811.5 421.8h1.3M1815.4 436.5h1.3M1843.5 402.1h1.3M1775.5 453.2h1.3M1792.1 415.5h1.3M1755.3 407.3h1.3M1781.6 376.9h1.3M1816.6 342.4h1.3M1749.9 398.7h1.3M1794.2 453.7h1.3M1818.7 433.5h1.3M1822.0 463.4h1.3M1756.3 410.9h1.3M1754.2 432.8h1.3M1791.0 388.1h1.3M1858.0 437.0h1.3M1812.4 413.5h1.3M1838.5 423.5h1.3M1860.2 449.9h1.3M1720.7 484.1h1.3M1784.9 452.9h1.3M1792.8 397.9h1.3M1750.0 367.4h1.3M1833.3 423.1h1.3M1773.4 454.8h1.3M1738.8 481.7h1.3M1765.4 431.9h1.3M1663.9 354.2h1.3M1745.5 407.5h1.3M1740.5 436.6h1.3M1735.1 444.2h1.3M1771.3 338.1h1.3M1741.7 407.4h1.3M1739.3 413.8h1.3M1706.5 406.4h1.3M1765.3 415.5h1.3M1743.3 431.3h1.3M1751.8 436.8h1.3M1736.3 438.1h1.3M1742.0 475.3h1.3M1758.7 472.0h1.3M1722.8 388.5h1.3M1748.8 413.0h1.3M1751.2 447.5h1.3M1744.3 457.6h1.3M1715.7 368.9h1.3M1741.0 458.6h1.3M1763.7 433.8h1.3M1734.0 422.1h1.3M1765.1 429.8h1.3M1737.9 395.7h1.3M1727.1 327.8h1.3M1714.9 409.2h1.3M1755.4 408.6h1.3M1724.3 368.1h1.3M1748.5 477.8h1.3M1795.0 465.3h1.3M1758.3 473.6h1.3M1745.6 456.7h1.3M1747.5 384.8h1.3M1732.3 404.0h1.3M1759.5 386.2h1.3M1732.7 479.7h1.3M1772.1 431.1h1.3M1757.6 420.1h1.3M1741.8 422.9h1.3M1737.8 374.1h1.3M1724.7 393.9h1.3M1732.3 467.4h1.3M1732.4 343.2h1.3M1740.1 416.0h1.3M1742.3 372.7h1.3M1743.4 412.6h1.3M1709.1 459.0h1.3M1755.4 369.0h1.3M1744.9 442.6h1.3M1768.6 379.4h1.3M1721.2 430.8h1.3M1730.5 394.4h1.3M1762.1 433.2h1.3M1731.9 368.6h1.3M1746.2 356.3h1.3M1740.9 410.4h1.3M1723.5 354.3h1.3M1736.4 449.2h1.3M1749.9 442.0h1.3M1750.1 413.4h1.3M1735.8 423.9h1.3M1730.1 416.7h1.3M1693.5 442.0h1.3M1734.5 429.1h1.3M1750.7 440.6h1.3M1834.6 382.2h1.3M1726.0 455.8h1.3M1742.3 389.0h1.3M1780.4 466.9h1.3M1780.1 438.9h1.3M1784.3 439.2h1.3M1762.8 455.1h1.3M1754.3 437.5h1.3M1833.9 372.0h1.3M1862.2 402.0h1.3M1790.0 381.8h1.3M1816.4 449.7h1.3M1792.4 445.9h1.3M1849.7 392.7h1.3M1728.0 471.7h1.3M1831.7 468.9h1.3M1822.1 427.3h1.3M1751.5 434.3h1.3M1813.3 433.5h1.3M1758.5 447.8h1.3M1844.7 389.7h1.3M1814.7 402.0h1.3M1732.8 370.3h1.3M1730.2 443.8h1.3M1859.9 462.1h1.3M1838.8 461.7h1.3M1724.2 392.5h1.3M1744.7 396.3h1.3M1809.7 458.7h1.3M1861.6 365.4h1.3M1862.8 400.2h1.3M1820.4 435.5h1.3M1801.2 413.8h1.3M1760.8 402.4h1.3M1743.9 378.9h1.3M1743.1 404.3h1.3M1730.5 401.3h1.3M1855.7 463.8h1.3M1807.6 483.6h1.3M1767.7 418.1h1.3M1843.6 455.8h1.3M1804.6 451.1h1.3M1813.8 464.2h1.3M1822.9 401.6h1.3M1764.5 477.2h1.3M1820.3 456.3h1.3M1774.4 488.4h1.3M1784.6 457.3h1.3M1854.4 366.8h1.3M1799.0 550.2h1.3M1786.3 546.7h1.3M1771.2 546.8h1.3M1791.9 554.2h1.3M1769.3 538.1h1.3M1859.4 548.5h1.3M1820.0 566.7h1.3M1822.8 549.6h1.3M1774.8 548.1h1.3M1793.5 557.8h1.3M1827.9 551.4h1.3M1794.6 545.9h1.3M1833.9 536.8h1.3M1790.5 545.1h1.3M1823.7 532.9h1.3M1778.3 562.4h1.3M1859.9 549.9h1.3M1761.5 549.2h1.3M1766.4 542.6h1.3M1840.8 546.0h1.3M1901.0 543.7h1.3M1827.9 548.1h1.3M1752.1 537.7h1.3M1806.0 546.4h1.3M1820.7 537.1h1.3M1861.0 543.5h1.3M1820.9 546.2h1.3M1833.8 534.2h1.3M1795.6 556.0h1.3M1896.6 557.9h1.3M1793.7 536.5h1.3M1844.5 548.5h1.3M1821.1 535.4h1.3M1822.6 548.4h1.3M1765.9 554.1h1.3" stroke="#3f5cc4" stroke-width="1.3" fill="none"/>
<path d="M1704.5 496.7h1.3M1694.0 382.3h1.3M1707.5 475.5h1.3M1694.8 426.4h1.3M1694.3 432.8h1.3M1700.8 409.9h1.3M1718.4 477.8h1.3M1703.6 404.6h1.3M1699.7 420.7h1.3M1705.0 416.5h1.3M1702.6 368.9h1.3M1694.3 399.8h1.3M1696.2 339.0h1.3M1697.5 434.3h1.3M1708.6 449.3h1.3M1703.3 418.2h1.3M1716.6 365.9h1.3M1712.3 430.3h1.3M1710.7 408.6h1.3M1715.3 406.3h1.3M1714.8 428.0h1.3M1695.0 458.5h1.3M1704.4 442.7h1.3M1685.0 483.5h1.3M1699.2 456.9h1.3M1709.2 434.6h1.3M1710.8 456.2h1.3M1709.4 437.7h1.3M1713.9 392.1h1.3M1691.1 467.1h1.3M1682.4 426.9h1.3M1707.9 416.3h1.3M1706.4 466.5h1.3M1722.5 325.2h1.3M1687.5 425.5h1.3M1686.9 419.9h1.3M1695.2 368.1h1.3M1710.6 436.7h1.3M1696.1 458.4h1.3M1704.0 454.4h1.3M1697.0 397.6h1.3M1702.0 376.0h1.3M1699.9 393.8h1.3M1706.1 390.6h1.3M1690.3 453.8h1.3M1710.9 443.8h1.3M1690.4 451.6h1.3M1708.7 430.6h1.3M1712.2 449.8h1.3M1696.3 468.7h1.3M1699.7 419.6h1.3M1711.0 391.4h1.3M1701.5 394.7h1.3M1687.0 484.1h1.3M1722.4 471.4h1.3M1707.6 373.3h1.3M1713.7 441.9h1.3M1711.2 424.1h1.3M1706.0 446.4h1.3M1688.7 461.2h1.3M1701.3 419.9h1.3M1689.5 434.1h1.3M1686.5 407.2h1.3M1687.4 448.4h1.3M1689.3 462.0h1.3M1691.7 480.2h1.3M1702.8 465.4h1.3M1695.5 400.8h1.3M1676.1 392.0h1.3M1676.9 473.0h1.3M1694.3 406.7h1.3M1721.4 458.0h1.3M1695.7 386.8h1.3M1703.2 414.2h1.3M1697.7 464.7h1.3M1720.2 391.0h1.3M1706.1 428.8h1.3M1726.1 411.5h1.3M1722.1 432.5h1.3M1694.7 455.3h1.3M1688.0 370.2h1.3M1690.3 422.7h1.3M1687.5 448.2h1.3M1696.9 402.4h1.3M1678.5 412.5h1.3M1687.1 370.6h1.3M1704.5 462.1h1.3M1690.2 461.2h1.3M1717.6 412.9h1.3M1707.0 428.7h1.3M1693.4 458.6h1.3M1703.9 378.4h1.3M1697.4 407.6h1.3M1698.6 412.5h1.3M1700.7 398.2h1.3M1710.1 417.3h1.3M1688.2 374.1h1.3M1718.8 468.0h1.3M1710.0 460.0h1.3M1700.1 486.2h1.3M1716.4 435.8h1.3M1713.3 422.4h1.3M1698.6 400.6h1.3M1701.7 484.7h1.3M1709.3 449.2h1.3M1698.8 408.4h1.3M1684.5 430.2h1.3M1718.7 420.3h1.3M1710.1 503.4h1.3M1690.7 402.7h1.3M1700.6 447.4h1.3M1695.3 433.6h1.3M1686.1 427.3h1.3M1701.1 438.3h1.3M1695.2 414.2h1.3M1695.3 426.6h1.3M1714.9 436.0h1.3M1701.6 386.0h1.3M1702.1 539.0h1.3M1700.5 469.7h1.3M1705.8 436.6h1.3M1726.8 420.1h1.3M1693.8 424.9h1.3M1704.7 421.8h1.3M1707.3 424.3h1.3M1691.8 424.7h1.3M1701.9 402.4h1.3M1704.8 406.0h1.3M1696.2 431.9h1.3M1697.9 370.5h1.3M1711.4 389.5h1.3M1710.1 445.2h1.3M1703.8 425.7h1.3M1706.3 534.7h1.3M1700.1 480.3h1.3M1705.0 458.4h1.3M1698.9 446.2h1.3M1703.7 527.7h1.3M1684.8 480.7h1.3M1694.9 496.8h1.3M1700.2 493.2h1.3M1696.0 530.0h1.3M1706.8 481.7h1.3M1707.2 480.1h1.3M1696.6 497.5h1.3M1703.1 502.4h1.3M1694.1 493.5h1.3M1708.9 503.2h1.3M1698.3 464.1h1.3M1700.0 477.3h1.3M1702.3 465.3h1.3M1697.9 518.4h1.3M1689.8 515.8h1.3M1702.1 484.2h1.3M1704.8 467.8h1.3M1690.8 504.1h1.3M1695.4 485.0h1.3M1693.5 521.1h1.3M1713.7 496.2h1.3M1706.5 488.7h1.3M1696.6 482.5h1.3M1709.5 527.8h1.3M1706.2 457.6h1.3M1707.8 485.1h1.3M1700.7 486.7h1.3M1702.0 515.7h1.3M1703.3 515.1h1.3M1695.0 531.4h1.3M1712.9 504.4h1.3M1699.7 500.1h1.3M1703.2 506.0h1.3M1703.3 456.2h1.3M1704.8 512.1h1.3M1698.0 514.6h1.3M1706.8 461.3h1.3M1709.0 515.8h1.3M1696.4 529.7h1.3M1694.3 512.0h1.3M1713.1 522.8h1.3M1692.6 514.3h1.3M1710.3 529.5h1.3M1706.8 510.6h1.3M1712.3 523.8h1.3M1704.1 530.9h1.3M1695.3 522.2h1.3M1705.5 499.6h1.3M1693.9 522.8h1.3M1714.6 521.0h1.3M1710.9 511.4h1.3M1701.9 492.2h1.3M1721.0 509.0h1.3M1703.7 515.6h1.3M1717.1 504.3h1.3M1707.1 521.6h1.3M1690.7 532.4h1.3M1704.9 522.8h1.3M1702.1 519.0h1.3M1686.6 541.2h1.3M1696.5 506.3h1.3M1707.0 510.5h1.3M1696.9 523.9h1.3M1720.8 526.3h1.3M1702.6 535.5h1.3M1699.7 516.0h1.3M1703.6 518.0h1.3M1699.8 518.3h1.3M1700.9 494.4h1.3M1713.5 520.9h1.3M1703.4 512.3h1.3M1694.9 504.6h1.3M1707.3 518.6h1.3M1692.2 526.4h1.3M1709.0 531.8h1.3M1702.5 511.6h1.3M1703.7 514.3h1.3M1707.5 514.9h1.3M1715.6 526.2h1.3M1693.0 537.7h1.3M1705.1 544.4h1.3M1699.9 508.9h1.3M1695.0 524.7h1.3M1685.4 515.4h1.3M1702.9 509.8h1.3M1701.8 519.3h1.3M1695.8 534.7h1.3M1691.0 516.2h1.3M1694.7 519.6h1.3M1716.9 518.8h1.3M1713.4 513.0h1.3M1714.4 544.7h1.3M1786.5 506.9h1.3M1855.0 525.2h1.3M1834.9 523.1h1.3M1870.6 523.1h1.3M1826.6 522.9h1.3M1809.3 500.9h1.3M1724.1 530.0h1.3M1797.9 517.3h1.3M1755.4 493.8h1.3M1818.5 535.9h1.3M1832.7 518.8h1.3M1819.0 512.9h1.3M1888.4 548.3h1.3M1842.7 523.2h1.3M1801.8 543.5h1.3M1791.9 513.8h1.3M1827.2 511.4h1.3M1756.8 530.6h1.3M1779.5 497.9h1.3M1849.7 508.2h1.3M1766.3 520.3h1.3M1877.6 539.8h1.3M1806.1 528.9h1.3M1775.1 518.1h1.3M1843.7 509.3h1.3M1809.5 516.0h1.3M1809.8 527.7h1.3M1813.7 526.8h1.3M1848.4 513.0h1.3M1808.7 532.3h1.3M1802.6 527.2h1.3M1804.5 512.9h1.3M1841.1 513.6h1.3M1783.9 554.1h1.3M1806.4 532.3h1.3M1811.5 508.4h1.3M1743.1 528.7h1.3M1825.8 535.3h1.3M1799.0 523.8h1.3M1855.9 532.7h1.3M1780.1 512.7h1.3M1775.3 502.8h1.3M1848.6 527.1h1.3M1821.1 537.0h1.3M1871.9 512.2h1.3M1823.8 520.8h1.3M1717.8 517.7h1.3M1799.2 513.5h1.3M1845.2 529.7h1.3M1780.8 533.4h1.3M1863.0 524.4h1.3M1869.1 536.6h1.3M1779.9 517.6h1.3M1867.2 535.1h1.3M1839.5 543.5h1.3M1808.0 506.4h1.3M1823.7 530.3h1.3M1831.3 528.0h1.3M1835.5 516.6h1.3M1785.1 536.9h1.3M1821.1 501.5h1.3M1755.0 535.2h1.3M1853.1 508.7h1.3M1820.7 530.2h1.3M1826.5 523.9h1.3M1830.3 534.5h1.3M1861.5 506.0h1.3M1823.3 499.2h1.3M1791.1 502.2h1.3M1799.6 524.7h1.3M1831.4 518.2h1.3M1755.1 532.5h1.3M1866.7 520.9h1.3M1857.2 512.2h1.3M1812.0 513.8h1.3M1808.4 546.9h1.3M1774.2 488.2h1.3M1808.3 504.2h1.3M1800.3 510.7h1.3M1764.3 520.3h1.3M1812.9 519.9h1.3M1840.7 520.5h1.3M1771.3 534.1h1.3M1765.2 535.5h1.3M1750.0 504.3h1.3M1760.5 508.9h1.3M1826.7 517.5h1.3M1843.7 537.2h1.3M1800.6 520.8h1.3M1807.7 525.6h1.3M1803.5 526.8h1.3M1836.1 517.5h1.3M1858.4 543.4h1.3M1831.1 519.7h1.3M1766.3 534.3h1.3M1778.4 508.8h1.3M1821.3 514.7h1.3M1829.6 516.0h1.3M1834.8 525.3h1.3M1793.9 516.9h1.3M1876.6 495.7h1.3M1788.5 527.9h1.3M1820.4 531.1h1.3M1770.2 512.8h1.3M1828.6 516.8h1.3M1796.1 521.8h1.3M1873.0 511.4h1.3M1769.2 504.4h1.3M1803.3 527.2h1.3M1782.5 525.9h1.3M1809.4 532.3h1.3M1752.4 528.3h1.3M1818.5 535.6h1.3M1881.4 502.2h1.3M1789.3 527.8h1.3M1790.8 513.5h1.3M1866.8 546.1h1.3M1865.5 522.1h1.3M1831.4 528.7h1.3M1836.4 546.5h1.3M1825.2 530.5h1.3M1810.7 534.5h1.3M1783.6 520.1h1.3M1849.2 529.1h1.3M1797.7 519.0h1.3M1747.9 512.4h1.3M1834.8 537.6h1.3M1789.7 504.7h1.3M1826.4 517.5h1.3M1839.2 533.4h1.3M1737.5 522.0h1.3M1795.1 502.4h1.3M1866.2 505.1h1.3M1770.6 533.6h1.3M1793.4 516.1h1.3M1824.3 524.7h1.3M1854.3 515.4h1.3M1816.9 517.6h1.3M1801.1 504.9h1.3M1805.7 519.2h1.3M1826.5 524.3h1.3M1758.9 511.5h1.3M1737.3 523.2h1.3M1777.1 528.2h1.3M1749.0 509.5h1.3M1749.7 525.8h1.3M1752.3 515.4h1.3M1766.7 502.1h1.3M1752.2 494.1h1.3M1763.5 531.5h1.3M1734.4 516.1h1.3M1704.7 527.0h1.3M1735.6 524.9h1.3M1757.0 510.9h1.3M1764.5 523.7h1.3M1764.5 524.7h1.3M1763.2 512.7h1.3M1744.8 498.0h1.3M1782.8 519.1h1.3M1745.5 527.0h1.3M1753.3 519.5h1.3M1787.7 520.2h1.3M1779.0 522.4h1.3M1730.4 505.0h1.3M1776.6 508.1h1.3M1735.5 529.3h1.3M1732.2 518.7h1.3M1777.9 515.7h1.3M1757.9 530.4h1.3M1794.1 513.9h1.3M1734.3 533.6h1.3M1749.6 516.2h1.3M1713.5 534.1h1.3M1732.1 534.2h1.3M1745.8 526.4h1.3M1730.1 500.3h1.3M1742.6 517.5h1.3M1805.7 515.8h1.3M1786.3 529.6h1.3M1783.9 516.3h1.3M1765.9 507.6h1.3M1720.8 526.3h1.3M1759.5 512.1h1.3M1752.8 509.8h1.3M1728.2 501.2h1.3M1740.1 515.0h1.3M1737.8 515.8h1.3M1793.3 524.3h1.3M1756.2 510.4h1.3M1722.4 532.7h1.3M1713.4 532.7h1.3M1769.5 534.7h1.3M1867.0 419.7h1.3M1854.0 433.8h1.3M1815.3 487.7h1.3M1867.6 434.0h1.3M1815.5 400.8h1.3M1856.5 398.0h1.3M1712.1 494.6h1.3M1780.6 388.2h1.3M1755.6 357.9h1.3M1751.0 445.9h1.3M1783.7 442.5h1.3M1693.7 404.5h1.3M1748.9 405.7h1.3M1858.3 396.6h1.3M1699.6 349.2h1.3M1772.0 391.6h1.3M1846.0 423.9h1.3M1772.3 444.5h1.3M1783.5 437.8h1.3M1798.3 480.8h1.3M1849.7 478.7h1.3M1705.2 438.8h1.3M1765.8 479.6h1.3M1816.1 425.2h1.3M1803.4 411.7h1.3M1802.2 381.2h1.3M1737.0 486.4h1.3M1812.5 448.1h1.3M1767.6 423.5h1.3M1713.0 367.2h1.3M1821.2 445.9h1.3M1805.8 430.8h1.3M1779.0 396.2h1.3M1793.4 387.0h1.3M1790.4 449.7h1.3M1743.6 461.0h1.3M1811.8 423.9h1.3M1704.0 482.3h1.3M1782.9 438.5h1.3M1746.5 485.4h1.3M1690.9 413.3h1.3M1806.8 383.0h1.3M1810.6 435.2h1.3M1766.1 436.1h1.3M1725.2 349.0h1.3M1740.3 423.9h1.3M1866.2 396.1h1.3M1756.8 413.6h1.3M1746.8 460.8h1.3M1786.1 445.7h1.3M1815.6 477.0h1.3M1869.9 437.8h1.3M1803.9 472.1h1.3M1804.2 354.7h1.3M1829.5 391.7h1.3M1818.0 458.7h1.3M1846.8 478.7h1.3M1795.9 449.0h1.3M1863.3 431.4h1.3M1880.0 441.0h1.3M1778.4 449.2h1.3M1819.1 469.3h1.3M1770.6 424.6h1.3M1742.0 412.4h1.3M1832.8 422.6h1.3M1765.4 392.7h1.3M1835.1 473.7h1.3M1791.1 402.1h1.3M1881.4 394.0h1.3M1745.3 449.3h1.3M1861.5 366.0h1.3M1750.0 410.5h1.3M1708.8 400.6h1.3M1774.9 454.2h1.3M1756.5 418.5h1.3M1833.2 443.8h1.3M1833.8 408.0h1.3M1803.0 426.2h1.3M1807.2 449.4h1.3M1775.3 379.9h1.3M1835.5 387.6h1.3M1801.1 384.7h1.3M1775.4 351.8h1.3M1773.8 511.7h1.3M1741.9 414.9h1.3M1826.8 439.3h1.3M1752.8 487.7h1.3M1814.8 420.8h1.3M1706.7 430.5h1.3M1736.4 398.4h1.3M1839.0 405.4h1.3M1813.0 407.8h1.3M1787.0 424.8h1.3M1770.0 456.6h1.3M1740.3 413.6h1.3M1864.9 359.4h1.3M1695.4 450.8h1.3M1826.0 339.7h1.3M1764.5 416.3h1.3M1733.0 443.9h1.3M1807.0 400.8h1.3M1806.2 431.8h1.3M1799.0 490.4h1.3M1775.5 358.9h1.3M1766.5 460.1h1.3M1751.8 431.6h1.3M1760.7 443.2h1.3M1779.4 425.1h1.3M1764.4 434.1h1.3M1760.9 453.3h1.3M1713.1 474.9h1.3M1817.2 443.2h1.3M1759.7 395.4h1.3M1782.5 429.5h1.3M1765.3 386.0h1.3M1753.1 482.9h1.3M1705.3 441.4h1.3M1819.3 377.6h1.3M1780.1 483.2h1.3M1894.7 422.8h1.3M1817.3 460.5h1.3M1765.0 412.7h1.3M1827.3 436.8h1.3M1688.3 456.3h1.3M1735.8 382.0h1.3M1810.8 513.9h1.3M1841.4 493.9h1.3M1855.5 422.7h1.3M1811.9 383.1h1.3M1860.3 389.6h1.3M1773.4 453.4h1.3M1776.0 416.0h1.3M1901.0 395.6h1.3M1743.9 428.9h1.3M1753.4 436.9h1.3M1848.2 431.6h1.3M1862.9 435.8h1.3M1778.1 486.7h1.3M1705.3 414.3h1.3M1844.8 446.4h1.3M1761.0 457.7h1.3M1742.6 453.9h1.3M1817.6 434.6h1.3M1865.4 483.3h1.3M1743.6 421.3h1.3M1760.5 380.0h1.3M1814.3 444.7h1.3M1745.6 391.5h1.3M1847.4 450.8h1.3M1734.3 467.0h1.3M1781.7 425.3h1.3M1756.0 457.5h1.3M1825.1 454.8h1.3M1744.0 425.2h1.3M1747.7 423.5h1.3M1812.6 430.0h1.3M1740.9 469.9h1.3M1804.4 436.5h1.3M1816.7 394.5h1.3M1753.9 410.3h1.3M1789.5 430.5h1.3M1801.2 439.0h1.3M1776.0 386.1h1.3M1795.4 414.0h1.3M1708.2 408.8h1.3M1786.9 431.0h1.3M1762.9 471.8h1.3M1885.1 437.1h1.3M1712.5 404.8h1.3M1822.1 456.2h1.3M1841.5 443.8h1.3M1792.4 382.5h1.3M1756.4 391.6h1.3M1723.4 492.8h1.3M1827.8 494.9h1.3M1752.9 386.0h1.3M1785.6 471.8h1.3M1784.5 445.7h1.3M1758.5 444.7h1.3M1749.6 429.7h1.3M1747.9 402.2h1.3M1766.8 390.1h1.3M1706.5 431.0h1.3M1707.3 457.7h1.3M1726.3 457.1h1.3M1744.4 375.9h1.3M1735.1 423.8h1.3M1727.6 451.5h1.3M1763.2 451.3h1.3M1694.6 357.2h1.3M1726.2 422.0h1.3M1749.1 402.7h1.3M1701.9 487.0h1.3M1751.4 407.1h1.3M1707.6 418.4h1.3M1739.9 469.9h1.3M1744.9 393.0h1.3M1733.8 450.8h1.3M1737.9 455.2h1.3M1721.4 400.4h1.3M1686.7 385.0h1.3M1767.7 369.3h1.3M1799.9 440.0h1.3M1765.3 435.3h1.3M1762.8 449.9h1.3M1762.4 465.8h1.3M1723.1 416.9h1.3M1756.9 465.1h1.3M1738.1 417.4h1.3M1710.1 430.1h1.3M1753.2 381.2h1.3M1734.2 400.6h1.3M1743.6 438.1h1.3M1748.4 460.5h1.3M1729.2 464.5h1.3M1743.3 436.9h1.3M1726.0 470.3h1.3M1731.4 387.4h1.3M1744.0 417.5h1.3M1737.9 380.0h1.3M1733.1 398.5h1.3M1738.8 459.9h1.3M1731.6 410.8h1.3M1744.7 400.2h1.3M1748.8 396.0h1.3M1821.1 378.4h1.3M1738.6 443.5h1.3M1790.2 447.0h1.3M1839.1 394.3h1.3M1743.8 434.8h1.3M1811.1 400.0h1.3M1745.4 377.8h1.3M1724.4 436.5h1.3M1809.2 422.5h1.3M1805.5 387.9h1.3M1859.3 422.8h1.3M1786.6 468.8h1.3M1868.5 422.6h1.3M1822.6 401.7h1.3M1777.1 478.7h1.3M1795.5 472.8h1.3M1855.6 425.1h1.3M1792.3 485.7h1.3M1756.5 449.4h1.3M1728.6 384.6h1.3M1742.8 411.1h1.3M1853.1 449.7h1.3M1760.8 436.3h1.3M1846.2 446.0h1.3M1812.0 470.6h1.3M1790.9 476.7h1.3M1828.1 414.6h1.3M1729.8 401.8h1.3M1848.6 485.7h1.3M1752.5 385.1h1.3M1775.6 420.7h1.3M1849.3 366.5h1.3M1847.6 448.2h1.3M1750.4 482.6h1.3M1857.0 402.0h1.3M1810.2 441.5h1.3M1859.5 443.0h1.3M1836.0 443.9h1.3M1785.5 451.3h1.3M1772.8 403.7h1.3M1748.2 416.1h1.3M1809.4 378.1h1.3M1779.4 466.7h1.3M1821.5 449.6h1.3M1730.1 384.6h1.3M1787.2 375.6h1.3M1833.0 372.8h1.3M1811.9 488.5h1.3M1797.7 465.8h1.3M1838.1 369.4h1.3M1851.1 381.2h1.3M1798.8 470.8h1.3M1828.1 453.6h1.3M1807.3 379.1h1.3M1827.1 454.5h1.3M1731.3 402.0h1.3M1826.0 371.2h1.3M1726.6 405.5h1.3M1843.8 438.9h1.3M1746.6 389.1h1.3M1769.1 556.5h1.3M1728.0 550.1h1.3M1829.3 534.8h1.3M1835.5 557.1h1.3M1808.2 553.0h1.3M1821.6 547.7h1.3M1837.5 545.6h1.3M1807.7 561.1h1.3M1771.2 547.8h1.3M1782.6 536.8h1.3M1891.4 560.4h1.3M1797.2 553.9h1.3M1851.8 538.6h1.3M1847.0 541.5h1.3M1796.7 552.5h1.3M1769.7 552.3h1.3M1834.3 542.9h1.3M1821.9 534.3h1.3M1795.2 556.4h1.3M1783.8 551.1h1.3M1890.7 550.5h1.3M1858.7 550.7h1.3M1832.2 539.5h1.3M1772.7 528.9h1.3M1815.8 549.5h1.3" stroke="#5573d2" stroke-width="1.3" fill="none"/>
<path d="M1682.1 448.4h1.3M1696.3 375.2h1.3M1704.4 390.7h1.3M1706.4 465.4h1.3M1689.7 353.3h1.3M1686.9 419.8h1.3M1687.3 432.0h1.3M1716.2 447.0h1.3M1719.6 418.1h1.3M1690.1 458.9h1.3M1705.8 394.9h1.3M1689.9 422.3h1.3M1695.0 405.3h1.3M1715.5 452.1h1.3M1696.5 442.5h1.3M1687.4 380.5h1.3M1697.8 453.5h1.3M1698.7 429.9h1.3M1695.4 397.6h1.3M1692.5 438.8h1.3M1708.8 385.8h1.3M1694.1 499.8h1.3M1700.8 514.0h1.3M1694.8 409.8h1.3M1699.7 428.4h1.3M1699.1 468.8h1.3M1692.4 474.8h1.3M1689.2 467.0h1.3M1723.9 437.0h1.3M1713.0 420.0h1.3M1703.4 436.2h1.3M1696.6 432.6h1.3M1699.7 434.0h1.3M1713.7 428.8h1.3M1705.9 426.3h1.3M1693.1 461.6h1.3M1713.6 393.5h1.3M1686.3 476.0h1.3M1707.1 450.9h1.3M1717.9 377.6h1.3M1699.8 411.4h1.3M1711.1 407.5h1.3M1703.9 422.4h1.3M1702.7 425.2h1.3M1684.6 439.6h1.3M1679.5 337.1h1.3M1692.0 381.4h1.3M1694.0 424.9h1.3M1705.4 538.7h1.3M1674.1 421.8h1.3M1698.6 422.2h1.3M1694.4 424.3h1.3M1695.1 436.1h1.3M1718.8 383.1h1.3M1699.9 392.7h1.3M1706.9 424.5h1.3M1710.0 435.1h1.3M1701.5 398.1h1.3M1704.6 368.5h1.3M1686.3 420.4h1.3M1707.3 405.7h1.3M1710.3 394.4h1.3M1682.3 425.7h1.3M1703.3 442.3h1.3M1680.1 425.4h1.3M1692.5 416.6h1.3M1698.6 442.1h1.3M1709.3 413.8h1.3M1709.7 399.2h1.3M1678.0 392.8h1.3M1713.9 450.4h1.3M1704.6 418.5h1.3M1700.0 451.3h1.3M1700.9 423.9h1.3M1681.2 429.5h1.3M1726.0 444.8h1.3M1693.3 437.4h1.3M1710.4 458.0h1.3M1685.0 406.2h1.3M1679.5 473.1h1.3M1679.4 326.0h1.3M1697.8 400.6h1.3M1710.4 474.6h1.3M1708.8 492.3h1.3M1700.9 418.7h1.3M1690.1 468.9h1.3M1698.8 413.6h1.3M1696.1 453.1h1.3M1679.8 365.9h1.3M1711.6 477.1h1.3M1689.6 399.4h1.3M1701.0 432.7h1.3M1691.6 421.6h1.3M1697.6 470.0h1.3M1702.4 383.3h1.3M1694.8 443.7h1.3M1687.7 421.7h1.3M1695.4 518.3h1.3M1705.1 423.5h1.3M1681.1 436.6h1.3M1687.8 401.8h1.3M1704.5 454.5h1.3M1686.0 463.1h1.3M1692.0 480.7h1.3M1700.2 415.7h1.3M1703.0 402.1h1.3M1703.7 350.5h1.3M1694.4 368.3h1.3M1683.8 407.1h1.3M1703.4 405.7h1.3M1704.2 402.7h1.3M1688.9 451.1h1.3M1702.1 427.1h1.3M1698.5 340.4h1.3M1699.5 417.6h1.3M1704.1 448.0h1.3M1697.9 419.6h1.3M1711.4 405.4h1.3M1681.1 478.6h1.3M1698.7 366.4h1.3M1698.6 413.8h1.3M1692.7 411.1h1.3M1693.8 446.9h1.3M1694.7 405.5h1.3M1713.3 424.9h1.3M1686.7 497.4h1.3M1685.7 503.0h1.3M1701.1 480.5h1.3M1701.0 488.4h1.3M1689.6 491.0h1.3M1695.1 514.5h1.3M1699.6 454.2h1.3M1708.6 448.5h1.3M1706.5 474.8h1.3M1690.6 481.2h1.3M1689.7 474.9h1.3M1714.6 481.4h1.3M1697.1 510.8h1.3M1698.9 475.0h1.3M1707.8 481.8h1.3M1693.7 464.3h1.3M1693.6 511.0h1.3M1688.3 486.7h1.3M1705.9 485.0h1.3M1704.1 472.1h1.3M1703.4 461.0h1.3M1705.8 477.5h1.3M1702.5 487.1h1.3M1700.3 475.1h1.3M1698.2 488.3h1.3M1708.5 470.9h1.3M1693.5 487.3h1.3M1684.4 486.0h1.3M1711.3 497.7h1.3M1702.7 470.0h1.3M1705.9 478.7h1.3M1698.9 506.5h1.3M1709.2 502.8h1.3M1698.0 473.7h1.3M1714.8 483.0h1.3M1706.0 498.9h1.3M1695.2 493.8h1.3M1709.3 505.0h1.3M1704.6 504.6h1.3M1698.0 481.0h1.3M1724.3 487.8h1.3M1691.4 527.5h1.3M1701.3 514.5h1.3M1700.5 532.5h1.3M1705.3 504.1h1.3M1704.7 520.9h1.3M1690.1 502.7h1.3M1694.8 509.8h1.3M1699.8 526.6h1.3M1698.2 515.6h1.3M1688.7 510.9h1.3M1696.5 510.9h1.3M1702.2 531.3h1.3M1697.5 518.6h1.3M1708.4 516.6h1.3M1696.2 516.5h1.3M1682.4 511.7h1.3M1705.4 525.8h1.3M1700.3 524.3h1.3M1687.9 507.0h1.3M1696.5 516.7h1.3M1690.0 511.4h1.3M1688.4 505.2h1.3M1696.3 512.1h1.3M1701.6 517.8h1.3M1712.2 515.7h1.3M1692.9 519.8h1.3M1702.6 503.4h1.3M1687.7 530.7h1.3M1695.0 505.9h1.3M1691.2 516.7h1.3M1694.8 506.8h1.3M1697.9 529.9h1.3M1702.3 531.7h1.3M1688.9 535.4h1.3M1705.9 535.0h1.3M1703.7 525.7h1.3M1710.0 504.5h1.3M1692.2 526.0h1.3M1694.8 540.3h1.3M1707.1 509.0h1.3M1697.2 523.4h1.3M1702.2 533.1h1.3M1709.2 514.6h1.3M1688.8 515.3h1.3M1708.8 527.4h1.3M1703.7 540.9h1.3M1698.3 489.5h1.3M1704.4 530.4h1.3M1856.3 492.1h1.3M1797.3 530.8h1.3M1769.7 522.4h1.3M1811.9 528.4h1.3M1788.4 533.9h1.3M1809.3 515.2h1.3M1819.6 545.6h1.3M1843.2 511.6h1.3M1846.2 536.2h1.3M1819.2 509.9h1.3M1841.4 524.0h1.3M1834.6 523.1h1.3M1763.4 511.0h1.3M1733.8 528.3h1.3M1790.7 516.7h1.3M1811.0 520.6h1.3M1795.8 496.6h1.3M1749.1 540.4h1.3M1852.4 498.1h1.3M1857.5 517.3h1.3M1820.3 501.3h1.3M1821.3 541.5h1.3M1863.4 531.1h1.3M1749.4 520.4h1.3M1898.7 504.2h1.3M1821.4 511.5h1.3M1818.1 504.1h1.3M1868.8 512.1h1.3M1820.8 519.3h1.3M1800.8 525.7h1.3M1829.5 502.6h1.3M1867.8 521.4h1.3M1772.8 513.2h1.3M1812.0 537.4h1.3M1803.0 531.2h1.3M1792.7 529.6h1.3M1841.2 515.2h1.3M1835.0 508.8h1.3M1832.1 513.4h1.3M1844.2 525.9h1.3M1875.5 526.6h1.3M1742.8 520.3h1.3M1755.0 517.7h1.3M1796.5 533.6h1.3M1830.4 551.6h1.3M1825.6 515.0h1.3M1825.6 519.3h1.3M1800.8 507.4h1.3M1814.4 501.0h1.3M1818.9 537.0h1.3M1861.9 526.5h1.3M1812.5 556.0h1.3M1817.5 518.9h1.3M1839.3 510.6h1.3M1855.2 525.8h1.3M1802.2 525.7h1.3M1811.0 505.6h1.3M1784.3 518.8h1.3M1774.9 536.8h1.3M1835.1 520.5h1.3M1785.3 539.2h1.3M1811.1 509.5h1.3M1819.4 522.5h1.3M1788.9 500.5h1.3M1795.8 503.1h1.3M1878.5 529.1h1.3M1826.7 517.3h1.3M1798.7 523.0h1.3M1826.2 533.6h1.3M1866.8 531.0h1.3M1863.3 511.4h1.3M1807.2 525.5h1.3M1773.3 511.4h1.3M1760.3 537.6h1.3M1793.4 530.0h1.3M1845.7 509.2h1.3M1798.0 518.8h1.3M1848.3 518.1h1.3M1775.7 516.9h1.3M1855.9 513.2h1.3M1769.5 487.2h1.3M1788.8 528.0h1.3M1829.7 531.9h1.3M1833.6 512.1h1.3M1748.7 507.1h1.3M1799.6 523.7h1.3M1805.4 522.7h1.3M1833.1 525.2h1.3M1773.7 531.2h1.3M1832.9 533.4h1.3M1858.1 533.8h1.3M1830.1 517.0h1.3M1830.5 512.1h1.3M1819.6 529.7h1.3M1805.3 512.7h1.3M1799.0 512.3h1.3M1836.4 513.1h1.3M1778.3 519.4h1.3M1771.4 514.3h1.3M1824.3 544.0h1.3M1794.3 528.2h1.3M1804.9 522.9h1.3M1807.4 524.2h1.3M1743.6 534.8h1.3M1809.2 531.5h1.3M1747.3 542.5h1.3M1828.6 530.1h1.3M1817.5 508.0h1.3M1813.3 523.2h1.3M1814.9 524.3h1.3M1765.1 516.7h1.3M1774.1 508.8h1.3M1841.7 519.2h1.3M1758.3 525.6h1.3M1774.4 518.2h1.3M1766.8 544.3h1.3M1799.6 507.0h1.3M1846.4 506.8h1.3M1836.8 520.8h1.3M1807.6 535.0h1.3M1891.3 523.6h1.3M1820.1 527.2h1.3M1791.4 516.7h1.3M1818.3 510.2h1.3M1795.7 542.9h1.3M1833.4 512.1h1.3M1749.1 521.5h1.3M1820.8 537.0h1.3M1795.7 493.3h1.3M1822.7 508.4h1.3M1701.6 511.6h1.3M1775.7 508.2h1.3M1816.8 514.3h1.3M1820.2 537.1h1.3M1781.6 532.9h1.3M1859.4 511.6h1.3M1774.1 519.4h1.3M1832.7 527.7h1.3M1827.3 507.6h1.3M1819.5 536.5h1.3M1807.4 537.3h1.3M1852.3 505.2h1.3M1810.0 515.4h1.3M1812.1 515.0h1.3M1799.3 525.9h1.3M1831.6 534.9h1.3M1813.3 520.7h1.3M1842.2 511.4h1.3M1752.8 493.0h1.3M1810.2 530.0h1.3M1827.2 515.9h1.3M1822.7 525.0h1.3M1805.7 523.0h1.3M1822.7 530.6h1.3M1820.4 538.8h1.3M1792.2 513.0h1.3M1768.5 512.9h1.3M1774.2 512.7h1.3M1797.8 539.2h1.3M1770.7 522.9h1.3M1805.9 525.1h1.3M1820.1 514.1h1.3M1801.1 520.9h1.3M1830.6 514.8h1.3M1756.3 515.1h1.3M1851.3 533.8h1.3M1778.3 514.6h1.3M1766.8 520.4h1.3M1812.6 525.6h1.3M1802.9 533.5h1.3M1859.6 524.9h1.3M1784.5 535.9h1.3M1783.3 502.8h1.3M1877.9 505.5h1.3M1798.3 493.9h1.3M1874.4 518.3h1.3M1739.8 516.5h1.3M1743.2 522.4h1.3M1724.5 521.0h1.3M1727.6 521.9h1.3M1746.9 527.7h1.3M1744.4 516.1h1.3M1722.0 510.7h1.3M1769.1 534.9h1.3M1751.8 501.4h1.3M1790.6 515.0h1.3M1763.3 509.3h1.3M1735.5 524.6h1.3M1760.0 533.1h1.3M1779.8 524.1h1.3M1774.9 504.6h1.3M1809.4 516.7h1.3M1724.4 499.7h1.3M1772.7 507.8h1.3M1731.3 516.3h1.3M1761.1 522.5h1.3M1749.3 504.7h1.3M1754.8 523.4h1.3M1759.3 500.6h1.3M1723.9 513.8h1.3M1771.7 530.1h1.3M1735.9 527.8h1.3M1803.0 519.0h1.3M1762.5 505.5h1.3M1723.0 521.2h1.3M1728.5 514.5h1.3M1741.5 513.4h1.3M1753.1 517.2h1.3M1783.5 531.1h1.3M1782.3 538.4h1.3M1731.2 531.2h1.3M1732.4 521.8h1.3M1769.9 532.0h1.3M1785.8 527.5h1.3M1776.5 522.2h1.3M1804.1 502.2h1.3M1767.8 528.9h1.3M1774.2 514.5h1.3M1786.4 521.7h1.3M1752.0 517.9h1.3M1729.3 537.3h1.3M1750.8 525.6h1.3M1740.5 513.5h1.3M1715.6 521.1h1.3M1766.6 523.8h1.3M1728.7 536.7h1.3M1822.7 521.1h1.3M1825.1 396.7h1.3M1736.4 410.4h1.3M1737.7 413.6h1.3M1838.6 430.0h1.3M1824.5 424.0h1.3M1815.4 383.7h1.3M1825.0 517.8h1.3M1770.4 471.6h1.3M1749.3 419.4h1.3M1756.9 408.0h1.3M1805.1 379.9h1.3M1754.9 445.1h1.3M1835.6 413.3h1.3M1764.3 481.5h1.3M1798.8 419.9h1.3M1663.3 367.6h1.3M1874.5 460.7h1.3M1744.9 367.5h1.3M1741.9 395.8h1.3M1804.0 445.3h1.3M1675.9 451.3h1.3M1755.2 429.2h1.3M1773.2 368.0h1.3M1817.6 411.8h1.3M1829.1 395.5h1.3M1879.2 487.2h1.3M1758.4 465.0h1.3M1817.5 425.7h1.3M1814.8 403.2h1.3M1831.9 407.1h1.3M1754.2 407.3h1.3M1873.9 485.0h1.3M1792.0 484.6h1.3M1736.2 420.3h1.3M1781.8 444.0h1.3M1834.3 461.4h1.3M1783.2 437.0h1.3M1808.3 366.2h1.3M1743.3 407.8h1.3M1792.8 468.2h1.3M1813.5 426.5h1.3M1746.2 391.6h1.3M1777.2 398.7h1.3M1669.2 458.0h1.3M1835.6 436.2h1.3M1812.9 436.0h1.3M1777.6 424.0h1.3M1847.8 394.3h1.3M1762.5 453.4h1.3M1788.7 403.7h1.3M1762.3 417.1h1.3M1906.5 430.9h1.3M1744.9 442.0h1.3M1723.3 452.1h1.3M1716.2 419.5h1.3M1849.5 437.2h1.3M1887.6 399.1h1.3M1837.5 428.1h1.3M1890.2 445.6h1.3M1818.6 489.2h1.3M1768.4 429.4h1.3M1788.1 370.5h1.3M1834.7 444.4h1.3M1787.5 427.6h1.3M1889.1 420.6h1.3M1866.2 372.1h1.3M1824.6 395.0h1.3M1860.9 418.7h1.3M1834.2 427.4h1.3M1777.6 423.8h1.3M1773.8 411.3h1.3M1819.6 447.6h1.3M1777.0 407.6h1.3M1799.7 511.0h1.3M1741.7 431.0h1.3M1789.1 407.5h1.3M1766.2 438.9h1.3M1730.9 472.1h1.3M1807.6 385.7h1.3M1768.4 423.8h1.3M1805.0 435.0h1.3M1762.3 412.6h1.3M1817.8 471.3h1.3M1806.3 371.1h1.3M1886.1 397.1h1.3M1726.2 438.3h1.3M1789.3 402.0h1.3M1803.6 422.7h1.3M1768.4 472.2h1.3M1799.1 387.7h1.3M1855.2 413.6h1.3M1763.6 385.9h1.3M1823.3 458.0h1.3M1796.6 356.2h1.3M1743.0 398.4h1.3M1723.9 472.5h1.3M1779.1 435.6h1.3M1789.8 426.1h1.3M1887.1 421.2h1.3M1802.7 462.3h1.3M1785.9 489.6h1.3M1699.3 442.7h1.3M1762.8 424.3h1.3M1794.6 421.4h1.3M1709.6 452.1h1.3M1882.5 435.0h1.3M1807.4 440.9h1.3M1797.6 429.6h1.3M1756.6 411.2h1.3M1771.8 427.2h1.3M1778.9 416.5h1.3M1847.6 360.5h1.3M1819.8 440.3h1.3M1708.2 379.2h1.3M1855.1 426.2h1.3M1846.1 456.4h1.3M1809.4 437.7h1.3M1775.2 436.1h1.3M1782.0 452.1h1.3M1789.0 430.7h1.3M1810.7 393.9h1.3M1750.4 401.9h1.3M1790.0 419.5h1.3M1729.7 435.8h1.3M1775.5 429.7h1.3M1871.4 405.4h1.3M1778.4 424.8h1.3M1828.9 422.3h1.3M1824.5 372.5h1.3M1740.4 434.1h1.3M1796.0 439.0h1.3M1836.8 429.4h1.3M1777.0 451.9h1.3M1772.3 390.7h1.3M1793.1 439.4h1.3M1758.1 434.2h1.3M1771.9 396.2h1.3M1772.5 438.3h1.3M1810.8 419.3h1.3M1900.9 409.3h1.3M1735.4 432.3h1.3M1765.7 464.8h1.3M1780.5 439.7h1.3M1838.3 434.4h1.3M1857.6 422.0h1.3M1737.2 431.4h1.3M1738.4 402.1h1.3M1778.0 426.3h1.3M1825.4 407.8h1.3M1825.2 431.4h1.3M1815.3 441.6h1.3M1773.3 400.2h1.3M1783.8 412.8h1.3M1820.7 465.1h1.3M1735.0 489.3h1.3M1712.7 478.0h1.3M1782.0 420.7h1.3M1814.3 419.9h1.3M1812.1 434.5h1.3M1749.5 445.5h1.3M1713.5 409.4h1.3M1738.1 421.5h1.3M1725.8 462.2h1.3M1749.1 411.9h1.3M1727.2 444.6h1.3M1760.2 456.5h1.3M1755.4 404.1h1.3M1756.7 428.0h1.3M1756.3 491.6h1.3M1736.7 403.2h1.3M1753.9 383.7h1.3M1730.2 407.8h1.3M1783.8 405.2h1.3M1725.7 385.7h1.3M1752.1 416.5h1.3M1789.1 390.2h1.3M1720.5 403.5h1.3M1722.6 435.0h1.3M1724.8 367.0h1.3M1737.2 449.7h1.3M1765.8 387.5h1.3M1754.6 397.8h1.3M1731.7 400.8h1.3M1733.7 466.3h1.3M1727.6 447.1h1.3M1752.2 429.1h1.3M1750.3 536.5h1.3M1726.6 507.1h1.3M1752.0 387.9h1.3M1733.4 442.3h1.3M1733.7 387.4h1.3M1747.7 369.3h1.3M1741.0 420.8h1.3M1766.3 428.5h1.3M1727.6 420.1h1.3M1761.9 356.2h1.3M1751.7 467.5h1.3M1773.8 444.4h1.3M1744.2 444.6h1.3M1724.7 512.5h1.3M1774.7 480.3h1.3M1737.3 460.3h1.3M1767.8 402.7h1.3M1739.0 411.0h1.3M1743.2 398.2h1.3M1725.0 386.8h1.3M1732.7 472.5h1.3M1728.9 346.8h1.3M1723.5 422.9h1.3M1773.1 458.7h1.3M1736.1 413.9h1.3M1759.4 449.4h1.3M1747.2 433.8h1.3M1769.4 413.7h1.3M1771.3 428.1h1.3M1774.1 440.9h1.3M1741.8 366.2h1.3M1708.5 451.5h1.3M1741.8 424.9h1.3M1754.9 447.5h1.3M1713.1 457.4h1.3M1711.4 379.4h1.3M1730.7 434.0h1.3M1739.3 473.3h1.3M1732.1 442.3h1.3M1754.8 416.4h1.3M1743.2 446.9h1.3M1748.8 412.8h1.3M1764.3 389.1h1.3M1762.8 428.1h1.3M1713.4 455.1h1.3M1722.5 488.8h1.3M1759.9 373.7h1.3M1867.0 373.0h1.3M1858.2 366.0h1.3M1744.4 446.1h1.3M1871.8 433.0h1.3M1824.8 437.4h1.3M1732.4 432.7h1.3M1870.9 421.2h1.3M1725.2 478.3h1.3M1863.8 460.4h1.3M1753.8 393.0h1.3M1855.6 438.3h1.3M1752.6 388.0h1.3M1780.3 384.3h1.3M1768.3 373.3h1.3M1778.0 462.4h1.3M1804.4 476.1h1.3M1731.6 387.0h1.3M1785.0 467.1h1.3M1775.7 464.8h1.3M1742.2 415.0h1.3M1780.6 402.7h1.3M1822.7 377.9h1.3M1819.6 473.4h1.3M1793.8 417.8h1.3M1871.0 378.6h1.3M1768.5 450.9h1.3M1812.0 412.3h1.3M1781.7 487.2h1.3M1746.4 431.8h1.3M1751.8 373.4h1.3M1759.1 476.9h1.3M1752.5 475.9h1.3M1869.7 462.6h1.3M1761.4 452.3h1.3M1832.0 407.8h1.3M1822.3 419.5h1.3M1772.0 388.7h1.3M1767.0 458.2h1.3M1757.7 392.0h1.3M1771.7 393.7h1.3M1746.8 396.2h1.3M1837.2 444.2h1.3M1762.6 365.3h1.3M1841.7 482.5h1.3M1849.0 423.4h1.3M1850.5 394.6h1.3M1725.3 455.3h1.3M1738.1 484.6h1.3M1754.6 368.2h1.3M1750.0 368.7h1.3M1774.3 472.9h1.3M1793.9 445.6h1.3M1799.2 378.7h1.3M1760.6 437.6h1.3M1779.0 385.3h1.3M1834.8 473.0h1.3M1800.0 486.8h1.3M1749.3 410.5h1.3M1822.8 561.8h1.3M1804.6 564.0h1.3M1830.0 551.5h1.3M1830.8 548.6h1.3M1780.9 564.6h1.3M1882.5 548.3h1.3M1836.7 534.2h1.3M1759.0 539.6h1.3M1792.9 542.1h1.3M1829.7 564.1h1.3M1798.2 544.9h1.3M1808.1 540.2h1.3M1805.9 553.2h1.3M1787.5 528.4h1.3M1803.5 557.1h1.3M1813.6 551.4h1.3M1783.7 558.8h1.3M1758.9 563.1h1.3M1830.3 549.8h1.3M1788.3 541.5h1.3M1726.9 545.2h1.3M1830.6 546.0h1.3M1779.2 534.6h1.3M1823.3 555.2h1.3M1770.6 527.9h1.3M1756.8 541.3h1.3M1831.7 540.4h1.3M1764.5 533.3h1.3M1755.4 553.7h1.3M1762.6 515.8h1.3M1810.4 541.6h1.3M1805.3 553.8h1.3M1819.9 560.3h1.3M1794.9 556.8h1.3M1821.7 539.7h1.3M1769.2 540.0h1.3M1818.7 552.2h1.3M1839.6 542.0h1.3M1781.6 554.8h1.3M1757.3 534.1h1.3" stroke="#2f4db0" stroke-width="1.3" fill="none"/>
<path d="M1693.5 459.0h1.3M1715.7 361.0h1.3M1675.8 409.5h1.3M1708.6 391.9h1.3M1699.9 455.4h1.3M1710.1 435.1h1.3M1688.9 428.5h1.3M1695.2 412.9h1.3M1705.8 370.6h1.3M1680.7 381.2h1.3M1702.6 391.8h1.3M1702.2 421.5h1.3M1704.2 394.7h1.3M1714.6 399.1h1.3M1688.0 462.6h1.3M1715.6 434.1h1.3M1701.6 434.1h1.3M1696.5 389.7h1.3M1712.5 454.6h1.3M1700.2 418.6h1.3M1684.2 436.2h1.3M1715.2 453.6h1.3M1701.0 413.4h1.3M1710.4 416.5h1.3M1691.2 411.6h1.3M1708.2 421.6h1.3M1694.4 408.8h1.3M1683.4 443.6h1.3M1692.6 413.5h1.3M1699.5 511.9h1.3M1700.2 388.8h1.3M1695.1 403.5h1.3M1706.6 466.3h1.3M1695.4 409.6h1.3M1696.3 391.8h1.3M1713.0 408.7h1.3M1690.1 400.7h1.3M1677.4 480.1h1.3M1709.1 429.6h1.3M1717.7 487.6h1.3M1710.8 416.7h1.3M1703.1 446.5h1.3M1702.9 405.2h1.3M1714.2 408.7h1.3M1705.2 432.4h1.3M1691.2 416.2h1.3M1695.7 435.6h1.3M1716.9 452.5h1.3M1699.0 431.1h1.3M1711.7 431.4h1.3M1691.5 337.4h1.3M1701.8 369.6h1.3M1691.1 432.9h1.3M1704.5 403.5h1.3M1710.2 442.0h1.3M1697.7 391.3h1.3M1718.0 435.2h1.3M1713.4 457.2h1.3M1703.9 470.5h1.3M1693.5 394.8h1.3M1715.5 384.3h1.3M1713.6 449.9h1.3M1702.6 439.0h1.3M1697.1 439.8h1.3M1678.4 445.5h1.3M1712.1 457.2h1.3M1718.5 482.7h1.3M1697.7 498.3h1.3M1700.1 453.0h1.3M1707.7 437.4h1.3M1693.9 368.6h1.3M1718.4 453.0h1.3M1695.2 450.7h1.3M1687.0 479.6h1.3M1693.9 403.5h1.3M1705.9 470.5h1.3M1709.8 422.4h1.3M1702.3 490.3h1.3M1701.9 414.8h1.3M1685.7 407.2h1.3M1707.0 394.2h1.3M1694.0 367.1h1.3M1682.7 478.7h1.3M1695.4 397.8h1.3M1708.0 448.4h1.3M1692.8 422.6h1.3M1704.7 386.7h1.3M1706.6 418.5h1.3M1708.8 451.6h1.3M1708.2 370.5h1.3M1693.1 398.3h1.3M1685.2 408.4h1.3M1685.2 440.3h1.3M1696.6 424.4h1.3M1710.9 391.4h1.3M1693.6 411.1h1.3M1691.8 413.2h1.3M1716.3 429.1h1.3M1714.2 376.8h1.3M1704.3 373.9h1.3M1705.3 469.5h1.3M1701.9 458.0h1.3M1695.0 430.0h1.3M1712.0 411.2h1.3M1706.4 422.7h1.3M1706.4 439.2h1.3M1685.9 395.0h1.3M1696.1 432.4h1.3M1701.9 501.8h1.3M1695.1 482.4h1.3M1703.1 384.1h1.3M1707.9 425.2h1.3M1700.4 435.6h1.3M1711.1 383.8h1.3M1701.4 484.8h1.3M1689.2 390.4h1.3M1705.8 406.7h1.3M1707.5 416.2h1.3M1705.5 435.4h1.3M1705.7 496.1h1.3M1709.0 403.6h1.3M1718.1 441.8h1.3M1693.3 458.0h1.3M1695.3 461.0h1.3M1682.8 428.6h1.3M1703.1 420.6h1.3M1707.4 470.4h1.3M1706.8 438.8h1.3M1691.5 377.9h1.3M1699.1 435.3h1.3M1693.5 421.1h1.3M1698.9 403.2h1.3M1693.1 442.4h1.3M1682.3 446.9h1.3M1698.4 376.5h1.3M1707.2 458.4h1.3M1698.3 497.5h1.3M1695.7 502.9h1.3M1699.7 476.9h1.3M1690.9 492.0h1.3M1693.0 504.3h1.3M1703.2 472.1h1.3M1699.8 455.7h1.3M1698.8 476.7h1.3M1701.6 439.7h1.3M1694.0 478.3h1.3M1707.5 482.0h1.3M1694.8 465.1h1.3M1698.1 480.5h1.3M1698.7 497.6h1.3M1705.7 469.3h1.3M1691.3 496.8h1.3M1710.1 502.7h1.3M1701.6 528.9h1.3M1698.4 509.5h1.3M1694.2 497.2h1.3M1698.7 489.8h1.3M1702.1 513.1h1.3M1705.5 495.8h1.3M1695.7 488.6h1.3M1707.5 480.1h1.3M1701.1 486.1h1.3M1706.2 485.6h1.3M1703.6 493.1h1.3M1703.3 470.3h1.3M1697.4 491.6h1.3M1703.1 482.5h1.3M1700.9 521.4h1.3M1708.1 514.5h1.3M1696.4 470.8h1.3M1700.3 502.7h1.3M1703.8 469.7h1.3M1696.1 500.3h1.3M1699.6 478.3h1.3M1710.2 482.2h1.3M1705.9 522.0h1.3M1712.2 513.4h1.3M1709.3 517.4h1.3M1692.6 532.6h1.3M1705.7 512.6h1.3M1711.1 514.2h1.3M1706.4 506.6h1.3M1691.6 516.1h1.3M1702.6 519.9h1.3M1689.4 505.1h1.3M1711.0 521.9h1.3M1705.3 513.6h1.3M1703.6 518.6h1.3M1693.8 514.1h1.3M1709.4 510.8h1.3M1707.1 535.1h1.3M1715.1 522.5h1.3M1706.2 516.2h1.3M1710.7 526.8h1.3M1711.5 524.5h1.3M1704.7 513.6h1.3M1709.0 538.1h1.3M1690.0 522.1h1.3M1715.1 537.1h1.3M1693.0 519.7h1.3M1691.3 529.7h1.3M1710.7 524.1h1.3M1709.5 519.4h1.3M1709.9 517.0h1.3M1690.1 514.3h1.3M1714.3 509.1h1.3M1701.6 525.3h1.3M1720.1 534.9h1.3M1700.2 520.8h1.3M1707.0 509.4h1.3M1713.3 534.3h1.3M1712.6 516.3h1.3M1694.0 516.0h1.3M1714.8 520.3h1.3M1701.9 523.4h1.3M1708.3 532.2h1.3M1698.0 528.6h1.3M1700.4 523.9h1.3M1707.1 520.2h1.3M1691.7 518.2h1.3M1709.8 520.9h1.3M1699.9 512.6h1.3M1702.5 529.0h1.3M1700.3 505.5h1.3M1705.4 537.8h1.3M1809.9 522.3h1.3M1838.1 525.1h1.3M1804.6 542.1h1.3M1782.6 517.8h1.3M1821.5 495.3h1.3M1802.7 510.0h1.3M1822.2 518.4h1.3M1831.2 516.4h1.3M1742.4 513.6h1.3M1859.0 554.5h1.3M1806.7 510.3h1.3M1777.4 509.2h1.3M1850.4 517.0h1.3M1811.5 521.4h1.3M1796.4 514.7h1.3M1811.9 520.0h1.3M1826.5 536.6h1.3M1854.4 522.5h1.3M1793.7 514.7h1.3M1789.8 548.4h1.3M1763.0 516.7h1.3M1806.2 523.3h1.3M1863.7 515.0h1.3M1787.7 517.4h1.3M1777.7 540.7h1.3M1827.5 503.6h1.3M1818.7 511.1h1.3M1861.6 532.1h1.3M1842.2 523.7h1.3M1834.1 508.3h1.3M1785.8 525.1h1.3M1816.5 527.2h1.3M1797.1 541.8h1.3M1837.2 528.5h1.3M1786.6 529.5h1.3M1808.0 512.7h1.3M1856.7 530.5h1.3M1849.6 508.6h1.3M1811.1 506.4h1.3M1795.9 512.2h1.3M1783.6 526.0h1.3M1842.1 524.4h1.3M1819.7 529.6h1.3M1822.6 513.7h1.3M1822.8 523.5h1.3M1742.6 515.3h1.3M1846.9 525.4h1.3M1824.3 525.1h1.3M1737.4 511.2h1.3M1794.2 499.6h1.3M1847.3 544.4h1.3M1747.2 544.1h1.3M1829.3 507.7h1.3M1793.6 533.0h1.3M1820.3 523.1h1.3M1792.6 537.7h1.3M1854.1 509.6h1.3M1777.9 529.8h1.3M1799.6 515.8h1.3M1761.2 517.9h1.3M1864.9 514.3h1.3M1874.1 513.7h1.3M1801.5 548.4h1.3M1840.0 517.7h1.3M1813.9 519.1h1.3M1777.0 515.9h1.3M1824.3 522.6h1.3M1817.4 513.7h1.3M1853.9 496.9h1.3M1847.9 524.0h1.3M1836.6 522.3h1.3M1831.1 495.5h1.3M1790.3 521.7h1.3M1818.3 516.7h1.3M1770.8 485.8h1.3M1865.7 525.8h1.3M1875.5 511.6h1.3M1796.1 517.6h1.3M1853.8 509.4h1.3M1786.8 516.9h1.3M1846.7 522.2h1.3M1787.2 526.5h1.3M1787.4 524.8h1.3M1839.3 526.5h1.3M1805.0 529.7h1.3M1806.9 503.6h1.3M1836.9 530.7h1.3M1770.8 525.8h1.3M1703.3 501.9h1.3M1836.7 523.4h1.3M1814.6 519.5h1.3M1797.9 514.1h1.3M1783.6 521.6h1.3M1823.1 511.4h1.3M1870.7 535.8h1.3M1767.8 516.7h1.3M1807.7 511.9h1.3M1823.7 512.3h1.3M1809.2 517.3h1.3M1797.4 513.5h1.3M1788.4 499.0h1.3M1854.7 484.3h1.3M1702.3 513.1h1.3M1794.9 510.6h1.3M1813.3 511.8h1.3M1835.4 498.9h1.3M1758.6 529.5h1.3M1788.8 532.7h1.3M1798.9 488.7h1.3M1871.7 538.6h1.3M1812.5 535.6h1.3M1785.0 499.7h1.3M1842.3 507.9h1.3M1797.2 525.6h1.3M1843.8 511.4h1.3M1824.6 521.6h1.3M1786.0 506.2h1.3M1847.6 514.7h1.3M1875.0 500.1h1.3M1807.6 515.5h1.3M1824.2 520.6h1.3M1817.6 527.9h1.3M1809.7 508.1h1.3M1828.8 510.8h1.3M1810.3 535.3h1.3M1833.1 523.3h1.3M1849.7 521.8h1.3M1847.5 520.2h1.3M1898.9 533.8h1.3M1784.8 514.1h1.3M1846.7 527.3h1.3M1821.5 492.5h1.3M1801.9 530.6h1.3M1777.2 515.7h1.3M1807.2 514.0h1.3M1798.6 540.3h1.3M1843.0 536.2h1.3M1820.1 501.7h1.3M1810.7 508.8h1.3M1878.5 539.5h1.3M1837.2 531.5h1.3M1805.4 525.8h1.3M1804.8 496.1h1.3M1797.6 518.9h1.3M1806.8 530.3h1.3M1790.4 531.6h1.3M1764.9 550.5h1.3M1803.3 529.4h1.3M1762.4 514.5h1.3M1784.5 511.4h1.3M1730.8 507.6h1.3M1799.1 527.8h1.3M1737.8 531.9h1.3M1768.0 519.2h1.3M1736.5 519.9h1.3M1764.8 532.1h1.3M1758.1 514.0h1.3M1734.6 505.4h1.3M1764.6 519.2h1.3M1781.5 513.9h1.3M1752.0 529.1h1.3M1735.1 518.1h1.3M1763.3 523.1h1.3M1762.1 530.2h1.3M1767.8 515.4h1.3M1723.7 514.2h1.3M1757.6 524.1h1.3M1771.8 540.1h1.3M1690.9 531.9h1.3M1758.6 525.2h1.3M1778.6 520.4h1.3M1740.6 505.6h1.3M1748.6 525.9h1.3M1772.4 506.8h1.3M1739.5 517.7h1.3M1796.5 542.6h1.3M1764.1 526.8h1.3M1783.8 498.3h1.3M1756.2 512.3h1.3M1779.3 533.3h1.3M1766.4 523.0h1.3M1761.7 520.2h1.3M1760.3 523.6h1.3M1774.7 533.9h1.3M1740.4 518.8h1.3M1764.3 515.5h1.3M1746.9 509.0h1.3M1755.2 532.3h1.3M1753.9 512.7h1.3M1731.6 518.9h1.3M1756.4 535.0h1.3M1766.1 531.7h1.3M1729.3 514.9h1.3M1793.2 518.6h1.3M1753.7 520.5h1.3M1771.0 514.1h1.3M1734.6 526.0h1.3M1752.0 508.3h1.3M1772.8 504.9h1.3M1755.1 505.3h1.3M1796.1 515.4h1.3M1692.7 526.8h1.3M1771.9 514.7h1.3M1761.0 513.6h1.3M1804.4 524.6h1.3M1771.6 531.4h1.3M1725.8 388.8h1.3M1737.0 396.8h1.3M1819.8 390.3h1.3M1792.5 453.2h1.3M1831.5 389.2h1.3M1741.2 418.2h1.3M1830.6 393.2h1.3M1691.9 449.8h1.3M1728.4 372.8h1.3M1792.7 420.5h1.3M1798.4 413.3h1.3M1709.9 385.3h1.3M1747.7 430.7h1.3M1807.2 457.5h1.3M1800.1 390.6h1.3M1772.9 477.0h1.3M1781.0 421.1h1.3M1831.2 441.4h1.3M1776.7 384.5h1.3M1767.6 387.4h1.3M1731.5 462.8h1.3M1835.3 418.8h1.3M1834.6 496.3h1.3M1768.2 390.1h1.3M1855.6 474.0h1.3M1792.3 381.1h1.3M1833.5 466.4h1.3M1740.0 506.5h1.3M1743.8 338.1h1.3M1814.9 400.3h1.3M1805.0 504.9h1.3M1766.1 375.1h1.3M1769.1 462.7h1.3M1835.9 406.5h1.3M1749.2 416.8h1.3M1838.8 379.7h1.3M1831.0 452.9h1.3M1773.6 475.2h1.3M1849.1 444.8h1.3M1796.4 460.2h1.3M1791.8 390.1h1.3M1798.0 503.0h1.3M1793.6 431.6h1.3M1756.4 430.4h1.3M1833.2 484.5h1.3M1779.1 488.0h1.3M1848.7 473.3h1.3M1764.4 437.1h1.3M1819.9 438.0h1.3M1738.9 385.1h1.3M1757.3 431.4h1.3M1795.7 460.0h1.3M1842.8 437.5h1.3M1786.9 412.9h1.3M1821.4 424.2h1.3M1702.8 388.3h1.3M1798.2 381.5h1.3M1773.9 388.6h1.3M1848.3 452.1h1.3M1844.6 443.3h1.3M1765.2 439.6h1.3M1868.3 425.0h1.3M1869.1 437.2h1.3M1782.5 437.5h1.3M1735.7 418.1h1.3M1746.8 430.6h1.3M1775.9 449.3h1.3M1790.3 483.3h1.3M1849.3 381.3h1.3M1866.1 401.5h1.3M1788.0 470.8h1.3M1768.2 428.7h1.3M1838.2 402.9h1.3M1802.3 475.6h1.3M1776.9 432.2h1.3M1783.1 444.1h1.3M1786.4 384.4h1.3M1817.9 481.4h1.3M1759.1 461.9h1.3M1842.5 408.7h1.3M1762.2 434.3h1.3M1749.8 392.3h1.3M1733.8 424.9h1.3M1796.3 442.5h1.3M1820.9 435.3h1.3M1788.9 417.0h1.3M1875.9 373.9h1.3M1771.3 466.8h1.3M1716.6 513.3h1.3M1825.2 421.0h1.3M1780.3 435.2h1.3M1732.0 437.6h1.3M1808.6 375.3h1.3M1787.6 396.5h1.3M1852.5 446.6h1.3M1747.0 425.4h1.3M1735.8 420.8h1.3M1823.2 476.3h1.3M1803.5 469.5h1.3M1770.2 400.3h1.3M1767.4 459.7h1.3M1742.1 483.6h1.3M1744.6 494.7h1.3M1804.7 417.9h1.3M1751.7 462.3h1.3M1717.4 395.9h1.3M1874.4 436.1h1.3M1753.1 414.6h1.3M1795.1 467.3h1.3M1828.2 442.4h1.3M1837.2 380.8h1.3M1773.7 416.3h1.3M1751.2 480.2h1.3M1724.6 373.4h1.3M1774.4 407.2h1.3M1774.8 376.9h1.3M1720.7 428.7h1.3M1762.1 410.5h1.3M1816.4 425.6h1.3M1740.2 455.5h1.3M1798.4 420.3h1.3M1811.3 432.4h1.3M1832.1 396.8h1.3M1832.9 445.5h1.3M1807.3 488.9h1.3M1750.1 405.1h1.3M1825.1 427.6h1.3M1840.0 463.3h1.3M1904.1 346.2h1.3M1746.7 400.3h1.3M1786.1 452.0h1.3M1760.0 420.7h1.3M1796.3 399.2h1.3M1690.6 422.5h1.3M1894.4 440.8h1.3M1822.6 378.1h1.3M1749.0 371.5h1.3M1802.7 455.2h1.3M1775.0 382.2h1.3M1805.2 451.6h1.3M1772.8 436.7h1.3M1835.9 365.6h1.3M1770.1 443.1h1.3M1738.5 472.4h1.3M1757.5 423.4h1.3M1803.3 442.9h1.3M1745.6 495.4h1.3M1847.8 385.9h1.3M1806.8 415.9h1.3M1791.2 393.0h1.3M1808.8 410.7h1.3M1860.0 410.4h1.3M1745.2 473.1h1.3M1786.0 367.1h1.3M1770.7 391.6h1.3M1740.5 432.4h1.3M1788.5 465.0h1.3M1772.8 410.8h1.3M1767.4 405.3h1.3M1781.3 387.2h1.3M1777.2 401.3h1.3M1763.3 428.6h1.3M1745.1 414.0h1.3M1747.1 421.3h1.3M1784.6 364.8h1.3M1810.4 402.6h1.3M1709.0 455.8h1.3M1763.5 390.6h1.3M1819.5 392.9h1.3M1796.3 442.3h1.3M1849.4 388.3h1.3M1668.6 412.4h1.3M1758.8 435.7h1.3M1753.9 416.7h1.3M1726.0 432.5h1.3M1770.2 457.5h1.3M1765.5 416.8h1.3M1720.3 404.1h1.3M1766.3 407.2h1.3M1756.7 400.6h1.3M1739.5 426.1h1.3M1769.2 420.4h1.3M1756.1 433.8h1.3M1715.8 445.9h1.3M1740.2 363.1h1.3M1757.7 459.6h1.3M1777.6 398.6h1.3M1739.2 465.3h1.3M1731.0 432.1h1.3M1705.1 454.4h1.3M1761.6 476.4h1.3M1768.6 381.2h1.3M1753.0 412.4h1.3M1743.5 353.6h1.3M1776.0 435.2h1.3M1746.0 440.4h1.3M1714.5 452.5h1.3M1714.2 428.1h1.3M1749.3 422.2h1.3M1722.8 406.1h1.3M1749.0 430.2h1.3M1751.9 482.8h1.3M1764.8 375.0h1.3M1716.0 405.1h1.3M1769.3 443.8h1.3M1744.3 436.1h1.3M1695.8 472.6h1.3M1738.9 455.6h1.3M1725.5 433.0h1.3M1744.3 401.6h1.3M1776.5 459.0h1.3M1748.6 422.7h1.3M1776.4 431.3h1.3M1759.9 433.6h1.3M1757.5 321.7h1.3M1734.8 418.3h1.3M1740.9 445.4h1.3M1701.5 418.7h1.3M1736.7 431.7h1.3M1718.2 433.1h1.3M1755.7 436.9h1.3M1723.0 447.8h1.3M1761.5 404.4h1.3M1724.1 451.3h1.3M1736.1 436.2h1.3M1731.4 423.3h1.3M1719.0 447.6h1.3M1762.0 417.1h1.3M1726.3 470.8h1.3M1748.2 448.5h1.3M1744.0 427.0h1.3M1774.5 423.5h1.3M1749.5 437.6h1.3M1748.7 497.5h1.3M1750.1 440.6h1.3M1720.6 450.8h1.3M1758.9 454.0h1.3M1737.1 462.2h1.3M1747.2 482.4h1.3M1765.9 485.9h1.3M1754.5 413.9h1.3M1738.7 421.8h1.3M1739.6 410.6h1.3M1771.0 434.1h1.3M1753.5 451.0h1.3M1743.9 449.2h1.3M1731.7 366.5h1.3M1745.4 370.3h1.3M1783.7 404.7h1.3M1751.6 466.3h1.3M1870.4 397.7h1.3M1740.3 448.0h1.3M1804.0 479.1h1.3M1779.6 372.2h1.3M1743.9 383.5h1.3M1823.4 465.3h1.3M1783.1 426.8h1.3M1796.1 371.1h1.3M1815.0 444.9h1.3M1756.4 464.1h1.3M1785.6 438.1h1.3M1728.8 415.9h1.3M1868.1 436.3h1.3M1773.8 442.3h1.3M1743.5 479.3h1.3M1842.5 430.3h1.3M1819.0 388.2h1.3M1815.5 458.8h1.3M1871.4 469.1h1.3M1821.0 484.1h1.3M1723.2 428.2h1.3M1790.7 432.3h1.3M1730.7 425.0h1.3M1744.1 465.2h1.3M1763.5 445.2h1.3M1740.3 426.2h1.3M1748.8 425.5h1.3M1831.7 439.5h1.3M1847.0 411.9h1.3M1830.6 366.0h1.3M1826.5 420.0h1.3M1790.5 452.8h1.3M1726.8 450.7h1.3M1813.4 487.5h1.3M1859.4 470.6h1.3M1731.4 393.7h1.3M1803.9 368.2h1.3M1809.0 443.8h1.3M1808.6 402.9h1.3M1735.1 416.7h1.3M1753.2 467.2h1.3M1864.3 449.8h1.3M1763.7 411.1h1.3M1794.5 448.6h1.3M1783.1 429.8h1.3M1818.9 423.6h1.3M1805.8 556.1h1.3M1892.7 547.3h1.3M1842.1 543.2h1.3M1707.5 531.5h1.3M1798.2 554.8h1.3M1802.3 547.2h1.3M1855.7 558.4h1.3M1814.4 542.0h1.3M1793.0 539.8h1.3M1793.0 539.6h1.3M1821.4 544.4h1.3M1820.7 539.3h1.3M1789.8 566.8h1.3M1788.2 539.6h1.3M1853.7 549.2h1.3M1815.1 542.4h1.3M1744.6 558.7h1.3M1863.2 537.3h1.3M1806.4 545.9h1.3M1784.9 551.3h1.3M1741.2 547.8h1.3M1804.8 545.3h1.3M1780.8 553.3h1.3M1786.9 528.1h1.3M1865.0 558.9h1.3M1821.6 543.1h1.3" stroke="#7f93dd" stroke-width="1.3" fill="none"/>
<g filter="url(#grain)">
<ellipse cx="1775.0" cy="431.4" rx="80" ry="60" fill="url(#gFaint)"/>
<ellipse cx="1815.0" cy="423.4" rx="36" ry="30" fill="url(#gFaint)"/>
<ellipse cx="1741.0" cy="417.4" rx="30" ry="46" fill="url(#gFaint)"/>
<ellipse cx="1701.5" cy="422.4" rx="22" ry="70" fill="url(#gMid)"/>
<ellipse cx="1701.5" cy="491.4" rx="11" ry="32" fill="url(#gCyan)"/>
<ellipse cx="1757.0" cy="520.4" rx="70" ry="15" fill="url(#gCyan)"/>
<ellipse cx="1819.0" cy="521.4" rx="60" ry="24" fill="url(#gHot)"/>
<ellipse cx="1701.5" cy="520.4" rx="17" ry="20" fill="url(#gWarm)"/>
</g>
<line x1="1721.1" y1="319.4" x2="1721.1" y2="572.4" stroke="#000" stroke-width="1.7"/>
<line x1="1657.0" y1="490.59999999999997" x2="1909.4" y2="490.59999999999997" stroke="#000" stroke-width="1.7"/>
<rect x="1657.0" y="319.4" width="252.4" height="253.0" fill="none" stroke="#828282" stroke-width="1.15"/>
<text x="1661.5" y="337.59999999999997" font-size="22" text-anchor="start" fill="#1a1a1a">30.5</text>
<text x="1895.4" y="337.59999999999997" font-size="22" text-anchor="end" fill="#1a1a1a">11.4</text>
<text x="1661.5" y="559.1" font-size="22" text-anchor="start" fill="#1a1a1a">5.56</text>
<text x="1897.9" y="559.1" font-size="22" text-anchor="end" fill="#1a1a1a">52.5</text>
</g>
<g>
<path d="M1958.1 550.9h1.3M1962.7 519.5h1.3M1955.5 488.2h1.3M1957.2 512.2h1.3M1963.3 525.1h1.3M1962.4 532.6h1.3M1954.6 519.3h1.3M1964.0 525.8h1.3M1965.0 531.0h1.3M1966.7 529.4h1.3M1951.3 530.7h1.3M1954.2 521.3h1.3M1956.9 561.7h1.3M1956.8 524.6h1.3M1945.5 527.1h1.3M1956.2 521.4h1.3M1946.9 541.1h1.3M1955.2 524.7h1.3M1948.2 533.5h1.3M1954.4 524.5h1.3M1963.4 520.4h1.3M1951.0 528.1h1.3M1958.6 519.8h1.3M1966.5 519.1h1.3M1946.9 504.1h1.3M1953.9 526.4h1.3M1965.2 516.5h1.3M1955.8 510.0h1.3M1952.0 520.6h1.3M1959.9 535.0h1.3M1964.7 518.0h1.3M1967.2 527.8h1.3M1961.3 536.5h1.3M1983.7 502.5h1.3M1954.5 506.0h1.3M1954.4 524.4h1.3M1961.6 517.7h1.3M1954.5 522.4h1.3M1955.7 509.6h1.3M1956.8 520.1h1.3M1959.7 506.1h1.3M1963.6 521.8h1.3M1965.2 538.0h1.3M1942.9 510.3h1.3M1955.1 524.0h1.3M1976.4 527.9h1.3M1970.6 533.1h1.3M1963.8 545.5h1.3M1954.6 514.4h1.3M1959.3 526.4h1.3M1965.7 506.6h1.3M2072.3 507.7h1.3M2107.8 542.3h1.3M2125.3 527.1h1.3M2133.3 525.0h1.3M2001.6 521.8h1.3M2020.7 534.6h1.3M2047.6 511.1h1.3M2077.4 511.6h1.3M2072.9 522.0h1.3M1987.8 527.5h1.3M2028.8 514.6h1.3M2070.4 533.1h1.3M2055.5 509.1h1.3M1999.2 517.4h1.3M2042.6 513.1h1.3M2051.1 540.2h1.3M2106.6 530.8h1.3M2072.4 513.8h1.3M2122.0 509.5h1.3M2061.2 530.2h1.3M2088.2 505.0h1.3M2048.3 504.9h1.3M2069.3 511.2h1.3M2108.6 522.9h1.3M2120.8 507.1h1.3M2071.6 541.2h1.3M2028.2 530.4h1.3M2123.5 537.0h1.3M2074.6 545.7h1.3M2054.8 512.8h1.3M2046.9 505.4h1.3M2127.3 527.9h1.3M2017.1 517.0h1.3M2079.4 515.5h1.3M2047.3 524.5h1.3M2064.0 528.2h1.3M2125.9 520.2h1.3M2023.9 512.6h1.3M2022.9 510.0h1.3M2039.6 505.3h1.3M2101.8 517.2h1.3M1973.2 538.8h1.3M2009.7 528.7h1.3M2048.8 518.9h1.3M1981.3 532.5h1.3M2034.2 513.1h1.3M2037.9 504.2h1.3M2126.4 501.8h1.3M2059.9 535.6h1.3M2064.6 536.6h1.3M1996.9 508.6h1.3M2041.2 537.9h1.3M2064.4 525.7h1.3M2054.6 506.4h1.3M2122.9 526.3h1.3M2092.2 513.3h1.3M2036.1 521.9h1.3M2104.9 525.3h1.3M2006.2 526.9h1.3M2045.3 517.6h1.3M2090.1 522.7h1.3M2122.0 524.0h1.3M2041.3 518.7h1.3M2126.5 532.3h1.3M2080.2 495.4h1.3M2066.5 521.4h1.3M2014.0 508.9h1.3M2095.7 520.0h1.3M1976.7 502.7h1.3M2024.9 532.2h1.3M2030.1 534.2h1.3M2057.9 539.1h1.3M2044.7 516.3h1.3M2065.2 483.7h1.3M2034.4 526.0h1.3M2061.8 497.3h1.3M2080.0 525.8h1.3M2085.6 520.6h1.3M2095.7 522.3h1.3M2048.3 524.8h1.3M2034.7 511.6h1.3M2069.7 540.4h1.3M2118.7 522.7h1.3M2060.4 521.5h1.3M2116.1 538.8h1.3M2079.6 543.0h1.3M2062.8 501.0h1.3M2032.9 519.4h1.3M2072.5 513.8h1.3M2027.7 521.7h1.3M2102.4 527.0h1.3M2049.5 509.1h1.3M2060.2 515.5h1.3M2074.3 532.0h1.3M2070.2 536.0h1.3M1985.5 507.4h1.3M2044.3 507.9h1.3M1997.4 508.5h1.3M2031.3 524.3h1.3M2055.0 508.0h1.3M2043.5 529.9h1.3M2105.8 530.3h1.3M2068.8 520.9h1.3M2048.0 526.0h1.3M2067.4 537.2h1.3M2059.2 531.7h1.3M2081.4 507.1h1.3M2052.9 520.4h1.3M2039.0 530.1h1.3M2009.5 512.9h1.3M1993.4 514.7h1.3M2050.3 517.8h1.3M2049.2 523.2h1.3M2022.5 514.6h1.3M2049.0 508.0h1.3M2090.7 522.8h1.3M2033.0 526.4h1.3M2039.9 522.0h1.3M2094.5 537.7h1.3M2033.0 541.3h1.3M2065.6 522.7h1.3M2036.4 515.2h1.3M2034.3 547.9h1.3M2086.7 513.7h1.3M2088.6 517.5h1.3M2078.3 540.7h1.3M2089.3 523.7h1.3M2054.5 537.9h1.3M2061.0 505.8h1.3M2142.1 525.7h1.3M2068.4 533.8h1.3M2020.7 497.0h1.3M2041.7 503.1h1.3M2071.5 535.0h1.3M2097.3 521.8h1.3M2019.5 518.9h1.3M2072.7 515.3h1.3M2023.3 533.1h1.3M2038.5 525.1h1.3M2127.0 508.1h1.3M2072.3 523.1h1.3M2081.3 518.3h1.3M1982.2 528.7h1.3M2059.1 516.4h1.3M2117.8 517.3h1.3M2020.5 515.0h1.3M2074.8 506.7h1.3M2062.0 514.4h1.3M2037.6 553.0h1.3M1965.0 524.4h1.3M2120.7 516.4h1.3M2096.6 527.7h1.3M2060.0 535.8h1.3M2079.9 505.2h1.3M2031.7 521.4h1.3M2010.1 518.2h1.3M2099.0 544.3h1.3M2059.5 513.7h1.3M2100.7 509.9h1.3M2005.0 511.8h1.3M1975.1 515.6h1.3M2020.6 535.7h1.3M2004.5 534.6h1.3M2000.2 514.8h1.3M1991.8 515.0h1.3M2008.4 525.2h1.3M2006.3 514.3h1.3M1972.3 504.3h1.3M2013.9 541.9h1.3M2013.9 518.5h1.3M1976.6 536.1h1.3M1987.0 518.0h1.3M1993.2 517.9h1.3M1989.3 520.1h1.3M2025.4 531.0h1.3M2024.7 522.4h1.3M1967.5 524.7h1.3M2010.5 511.2h1.3M2009.8 511.2h1.3M2016.3 527.1h1.3M2009.8 513.6h1.3M1999.8 503.6h1.3M2012.7 507.2h1.3M2032.1 515.2h1.3M1998.0 518.5h1.3M1993.3 506.7h1.3M2004.9 526.5h1.3M1993.8 532.4h1.3M1995.1 504.0h1.3M1989.4 524.4h1.3M1983.0 526.1h1.3M2019.5 531.7h1.3M2012.0 523.2h1.3M2004.0 505.2h1.3M2026.2 536.4h1.3M2007.6 538.0h1.3M2012.9 534.6h1.3M2010.2 462.2h1.3M2051.5 476.9h1.3M2134.0 441.1h1.3M2045.3 465.3h1.3" stroke="#3f5cc4" stroke-width="1.3" fill="none"/>
<path d="M1967.1 502.2h1.3M1958.3 525.6h1.3M1955.8 517.6h1.3M1952.5 529.3h1.3M1949.5 524.7h1.3M1962.2 520.4h1.3M1953.0 536.9h1.3M1957.6 510.5h1.3M1969.0 520.2h1.3M1962.4 512.9h1.3M1975.6 522.6h1.3M1957.8 523.8h1.3M1965.5 516.8h1.3M1953.2 526.1h1.3M1961.1 527.1h1.3M1965.9 521.9h1.3M1962.1 519.2h1.3M1971.6 529.1h1.3M1960.3 514.4h1.3M1971.7 519.2h1.3M1955.9 511.8h1.3M1962.9 523.3h1.3M1966.0 510.7h1.3M1976.4 521.9h1.3M1966.1 509.2h1.3M1962.5 519.2h1.3M1967.6 530.8h1.3M1970.6 530.7h1.3M1970.0 518.2h1.3M1969.5 520.0h1.3M1961.2 522.9h1.3M1966.2 505.0h1.3M1951.7 515.6h1.3M1968.0 538.1h1.3M1961.7 535.2h1.3M1970.2 529.8h1.3M1974.3 528.0h1.3M1965.2 534.5h1.3M1954.4 495.9h1.3M1961.3 521.4h1.3M1975.4 512.9h1.3M1956.9 514.2h1.3M1971.5 516.6h1.3M1947.2 512.6h1.3M1957.0 514.2h1.3M2048.7 508.2h1.3M2059.8 509.8h1.3M2090.1 511.9h1.3M2063.5 520.5h1.3M2013.1 513.2h1.3M2084.2 524.7h1.3M2036.2 500.7h1.3M2130.1 503.4h1.3M2039.9 502.7h1.3M2055.8 513.1h1.3M2118.7 527.5h1.3M2078.1 515.8h1.3M1994.7 516.1h1.3M2005.8 536.9h1.3M2054.6 517.1h1.3M2030.4 522.4h1.3M1997.4 527.0h1.3M2075.6 527.4h1.3M2124.5 524.1h1.3M2037.8 529.6h1.3M2012.0 530.2h1.3M2056.3 525.5h1.3M2144.7 498.3h1.3M2131.8 512.9h1.3M2010.8 510.8h1.3M2006.9 515.5h1.3M2068.4 523.3h1.3M2066.2 515.7h1.3M2024.1 526.7h1.3M2088.2 510.0h1.3M2021.4 514.4h1.3M2027.4 518.9h1.3M2057.4 518.4h1.3M2024.1 497.7h1.3M2044.5 537.1h1.3M1993.8 523.5h1.3M2129.2 524.7h1.3M2064.4 532.3h1.3M2078.6 516.8h1.3M2102.8 541.4h1.3M2072.8 513.9h1.3M2025.4 512.1h1.3M2040.4 511.1h1.3M2110.5 526.5h1.3M2159.6 505.2h1.3M2138.5 510.2h1.3M2104.2 508.9h1.3M2061.4 525.5h1.3M2046.4 517.7h1.3M2073.2 519.9h1.3M2057.8 517.8h1.3M2033.8 530.3h1.3M2091.2 510.6h1.3M2046.8 534.5h1.3M2045.5 520.3h1.3M2110.9 521.6h1.3M2044.0 537.1h1.3M2041.3 513.8h1.3M2105.2 513.6h1.3M2057.5 501.0h1.3M2037.9 516.4h1.3M2034.6 525.2h1.3M2018.1 530.3h1.3M2017.9 517.6h1.3M2016.2 521.3h1.3M2118.1 509.4h1.3M2044.0 512.0h1.3M2035.0 504.2h1.3M2080.5 513.9h1.3M2105.6 534.6h1.3M2048.7 511.4h1.3M2051.7 516.3h1.3M2019.7 510.9h1.3M2058.6 513.8h1.3M2058.3 494.0h1.3M2049.2 497.9h1.3M2004.7 527.3h1.3M2019.9 512.4h1.3M2163.8 527.3h1.3M2029.4 535.5h1.3M1946.9 507.6h1.3M2071.6 531.7h1.3M1967.1 519.6h1.3M2128.6 531.6h1.3M2030.4 497.4h1.3M2053.9 521.8h1.3M2039.0 538.5h1.3M2043.5 512.9h1.3M2079.7 510.9h1.3M2037.9 528.3h1.3M2058.7 544.0h1.3M2081.3 515.1h1.3M2159.7 510.8h1.3M2085.8 519.5h1.3M2121.9 515.8h1.3M2077.2 542.1h1.3M2043.2 520.2h1.3M2058.2 508.5h1.3M2056.4 505.6h1.3M2040.1 532.3h1.3M2064.2 508.3h1.3M2052.8 520.3h1.3M2066.2 545.9h1.3M2004.7 520.9h1.3M2059.5 523.4h1.3M2000.5 527.7h1.3M2006.6 518.3h1.3M2120.9 510.6h1.3M2041.9 514.6h1.3M2111.9 530.7h1.3M2088.7 521.6h1.3M2055.0 535.2h1.3M2030.0 540.0h1.3M2008.9 526.3h1.3M2064.1 537.2h1.3M2050.4 511.7h1.3M2047.1 527.2h1.3M2050.2 509.7h1.3M2065.8 537.4h1.3M2051.2 521.2h1.3M2031.1 546.8h1.3M2066.9 515.4h1.3M2034.0 525.8h1.3M2011.2 526.7h1.3M2087.6 533.7h1.3M2119.8 534.9h1.3M1999.9 524.4h1.3M2057.7 530.9h1.3M2038.8 515.3h1.3M2046.2 507.3h1.3M2084.0 504.8h1.3M2036.9 537.6h1.3M2069.3 513.7h1.3M2058.1 504.3h1.3M2017.2 526.6h1.3M2041.0 498.3h1.3M2013.6 499.8h1.3M2018.5 514.2h1.3M2009.3 511.5h1.3M2012.1 514.5h1.3M2002.8 519.1h1.3M2002.4 515.6h1.3M1998.3 518.1h1.3M1974.0 529.0h1.3M1955.9 517.4h1.3M1980.5 527.5h1.3M1972.7 521.4h1.3M2007.1 524.0h1.3M2020.0 528.3h1.3M1967.0 526.0h1.3M1979.1 510.3h1.3M2016.5 504.1h1.3M1988.2 490.3h1.3M2019.6 521.9h1.3M1999.2 516.7h1.3M1999.8 514.2h1.3M1998.6 519.4h1.3M2014.5 522.2h1.3M2008.8 529.6h1.3M1977.9 534.5h1.3M2039.3 523.4h1.3M1953.5 505.5h1.3M1962.6 515.0h1.3M1994.9 520.1h1.3M2016.6 538.1h1.3M1998.3 523.6h1.3M2009.4 512.6h1.3M2032.7 502.3h1.3M1997.7 511.8h1.3M2024.4 533.3h1.3M1973.0 514.1h1.3M1989.7 532.2h1.3M1987.7 535.8h1.3M1985.7 530.7h1.3M2054.5 525.1h1.3M1999.0 488.3h1.3M2122.7 487.8h1.3M1966.6 488.7h1.3M2128.8 467.5h1.3M2108.2 478.3h1.3M1991.2 439.9h1.3M2019.5 451.7h1.3" stroke="#5573d2" stroke-width="1.3" fill="none"/>
<path d="M1965.2 542.0h1.3M1970.7 504.9h1.3M1957.7 500.9h1.3M1958.2 507.2h1.3M1966.0 504.2h1.3M1967.5 517.7h1.3M1981.4 532.1h1.3M1975.6 523.5h1.3M1961.7 522.5h1.3M1973.6 511.4h1.3M1949.9 524.8h1.3M1952.9 506.5h1.3M1944.9 494.3h1.3M1957.2 518.6h1.3M1957.8 523.9h1.3M1970.2 527.2h1.3M1953.7 513.0h1.3M1958.9 505.9h1.3M1980.8 501.5h1.3M1959.4 512.8h1.3M1953.0 525.9h1.3M1952.8 521.0h1.3M1938.1 519.6h1.3M1945.8 531.2h1.3M1954.6 516.5h1.3M1982.2 517.9h1.3M1962.8 527.5h1.3M1960.4 527.0h1.3M1972.2 515.7h1.3M1968.9 538.4h1.3M1958.5 510.3h1.3M1958.3 527.1h1.3M1972.8 510.6h1.3M1967.1 527.4h1.3M1965.8 535.9h1.3M1961.5 518.7h1.3M1960.9 533.2h1.3M1958.7 533.8h1.3M1970.9 507.8h1.3M1957.7 516.1h1.3M1958.2 520.2h1.3M1966.0 510.0h1.3M1978.9 517.1h1.3M1962.5 524.9h1.3M1952.6 520.5h1.3M1946.7 522.5h1.3M1955.3 544.9h1.3M1954.9 503.9h1.3M1960.7 508.3h1.3M1959.0 508.0h1.3M1960.1 508.7h1.3M2061.4 536.8h1.3M1998.1 529.5h1.3M2064.1 516.5h1.3M2039.7 528.6h1.3M2039.4 508.3h1.3M2041.7 520.7h1.3M2030.7 530.1h1.3M2001.7 525.1h1.3M2057.3 507.3h1.3M2029.9 508.8h1.3M2083.7 517.9h1.3M2051.1 517.9h1.3M2105.2 521.6h1.3M2073.5 521.9h1.3M2059.5 519.4h1.3M2112.5 540.5h1.3M2021.2 522.8h1.3M2040.9 507.5h1.3M2081.0 532.7h1.3M2065.0 522.7h1.3M2010.2 510.6h1.3M2096.5 533.2h1.3M2160.9 507.7h1.3M2007.8 519.9h1.3M2006.3 510.8h1.3M2058.0 533.4h1.3M2095.5 516.0h1.3M2023.1 512.7h1.3M2039.3 515.9h1.3M2039.0 530.6h1.3M2060.7 534.1h1.3M2081.8 497.9h1.3M2085.1 529.3h1.3M2059.5 508.0h1.3M2062.1 522.1h1.3M1991.6 519.8h1.3M2053.5 530.9h1.3M2062.5 520.9h1.3M2116.1 513.5h1.3M2039.9 517.4h1.3M2074.9 516.1h1.3M2093.8 527.2h1.3M2073.2 524.5h1.3M2081.3 506.3h1.3M2131.3 510.6h1.3M1983.0 516.1h1.3M2068.3 505.3h1.3M2092.0 525.3h1.3M2010.1 503.1h1.3M2086.4 522.5h1.3M2081.3 522.8h1.3M1990.1 509.9h1.3M2112.9 512.2h1.3M2043.3 501.7h1.3M2119.6 517.2h1.3M2045.0 511.3h1.3M2068.1 507.8h1.3M2106.7 523.1h1.3M2057.8 519.2h1.3M2118.5 515.8h1.3M2060.8 542.8h1.3M2041.8 523.9h1.3M2052.1 508.8h1.3M2037.5 502.9h1.3M2096.3 523.4h1.3M2055.0 517.0h1.3M2084.8 511.8h1.3M2113.5 513.9h1.3M2084.1 506.5h1.3M2068.5 511.2h1.3M2047.3 538.9h1.3M2090.7 512.7h1.3M2017.8 514.5h1.3M2007.9 508.4h1.3M2134.5 536.6h1.3M2080.4 523.0h1.3M2120.8 528.0h1.3M2056.5 510.1h1.3M2068.9 515.7h1.3M2006.4 518.3h1.3M2060.9 522.8h1.3M2057.4 503.5h1.3M2024.9 527.7h1.3M2067.2 530.9h1.3M2051.0 543.4h1.3M2014.5 501.1h1.3M2124.8 533.5h1.3M2047.2 520.3h1.3M2103.0 525.9h1.3M2087.9 515.9h1.3M2063.7 507.5h1.3M2064.6 543.8h1.3M2044.4 527.0h1.3M2046.6 509.9h1.3M2069.4 531.1h1.3M2075.1 509.9h1.3M2083.1 542.3h1.3M2032.2 518.4h1.3M1958.8 520.8h1.3M2125.1 530.5h1.3M2050.7 521.4h1.3M2111.5 535.2h1.3M2022.7 530.3h1.3M2063.8 522.3h1.3M2076.3 506.0h1.3M2042.2 512.1h1.3M2052.6 507.7h1.3M1969.8 507.5h1.3M2047.5 525.8h1.3M2029.4 530.9h1.3M2038.9 522.2h1.3M2084.0 524.4h1.3M2014.5 529.4h1.3M2031.7 513.0h1.3M2083.7 513.7h1.3M2033.5 526.9h1.3M2126.0 510.6h1.3M2038.3 501.6h1.3M2023.8 500.3h1.3M2049.9 514.9h1.3M2020.1 508.0h1.3M2089.7 512.2h1.3M2043.3 523.4h1.3M2145.8 516.8h1.3M2094.8 529.9h1.3M2060.3 503.9h1.3M2072.5 515.6h1.3M2081.5 499.4h1.3M2028.6 524.7h1.3M2052.7 511.5h1.3M2002.4 527.6h1.3M2051.3 530.5h1.3M2045.8 522.1h1.3M2061.5 528.0h1.3M2091.3 507.0h1.3M2032.5 520.5h1.3M2107.9 516.6h1.3M2072.5 523.6h1.3M2033.5 508.3h1.3M1971.4 525.3h1.3M2021.4 544.2h1.3M2045.5 503.2h1.3M2073.7 530.1h1.3M2047.1 513.9h1.3M2032.1 500.6h1.3M2045.1 520.9h1.3M2049.7 531.0h1.3M1996.8 508.5h1.3M2023.7 519.1h1.3M2041.8 528.7h1.3M2100.4 515.1h1.3M2100.2 524.4h1.3M2085.4 510.7h1.3M2056.4 512.7h1.3M2070.5 508.1h1.3M2056.8 518.4h1.3M2001.0 512.9h1.3M2053.3 527.4h1.3M2087.3 533.9h1.3M2034.3 534.6h1.3M2045.5 514.5h1.3M1987.7 508.3h1.3M1961.6 531.0h1.3M2016.0 511.9h1.3M1996.4 531.3h1.3M2003.7 514.9h1.3M2021.4 513.3h1.3M2023.4 527.5h1.3M1986.3 533.4h1.3M2010.7 517.8h1.3M1993.2 522.9h1.3M1970.1 510.9h1.3M2012.8 521.6h1.3M2023.3 509.8h1.3M2003.0 505.1h1.3M2003.0 518.2h1.3M2013.5 538.6h1.3M2018.4 520.2h1.3M1985.5 517.7h1.3M2002.3 522.3h1.3M1998.5 531.2h1.3M2025.6 530.2h1.3M2022.6 526.7h1.3M1990.3 525.2h1.3M1983.2 509.6h1.3M1944.1 516.1h1.3M2026.9 517.4h1.3M1981.8 517.7h1.3M1986.7 526.3h1.3M1993.4 517.6h1.3M2000.6 523.7h1.3M1979.3 520.6h1.3M1971.4 522.0h1.3M2002.8 525.7h1.3M1991.0 532.9h1.3M1977.8 523.3h1.3M1971.2 519.8h1.3M1938.3 511.2h1.3M1955.5 460.4h1.3M2075.5 448.9h1.3M1985.5 435.6h1.3M2030.1 369.8h1.3" stroke="#2f4db0" stroke-width="1.3" fill="none"/>
<path d="M1950.9 505.0h1.3M1950.5 510.0h1.3M1961.6 509.4h1.3M1970.4 524.3h1.3M1962.8 518.9h1.3M1960.9 491.4h1.3M1951.0 536.1h1.3M1940.8 514.1h1.3M1956.9 501.7h1.3M1961.2 528.6h1.3M1960.1 536.1h1.3M1963.3 527.5h1.3M1949.8 531.0h1.3M1961.6 501.4h1.3M1977.1 516.6h1.3M1968.2 523.2h1.3M1955.5 521.3h1.3M1953.9 527.4h1.3M1948.8 500.5h1.3M1956.3 508.0h1.3M1951.7 500.7h1.3M1958.6 514.8h1.3M1961.5 514.1h1.3M1970.0 503.0h1.3M1947.4 528.3h1.3M1970.4 519.2h1.3M1977.2 517.5h1.3M1962.2 542.2h1.3M1965.2 507.4h1.3M1964.6 528.1h1.3M1963.4 533.7h1.3M1965.4 535.0h1.3M1978.8 533.6h1.3M1943.2 523.0h1.3M1965.0 492.2h1.3M1945.8 507.2h1.3M1960.9 522.0h1.3M1956.2 518.4h1.3M1949.1 528.3h1.3M1966.8 515.3h1.3M1970.6 508.7h1.3M1959.6 505.9h1.3M1956.6 531.5h1.3M1970.5 513.9h1.3M1956.9 530.9h1.3M1937.0 506.8h1.3M1961.6 527.8h1.3M1963.7 518.5h1.3M1950.1 523.2h1.3M1954.1 528.7h1.3M1974.5 529.3h1.3M1964.4 512.4h1.3M1960.0 523.1h1.3M2129.0 516.1h1.3M2082.1 538.2h1.3M2118.5 520.1h1.3M2085.7 528.2h1.3M2032.4 512.0h1.3M2077.0 505.1h1.3M2107.9 526.8h1.3M2089.8 509.4h1.3M2027.6 520.3h1.3M2012.8 516.0h1.3M2044.6 520.4h1.3M2062.3 539.9h1.3M2076.4 525.4h1.3M2086.7 508.2h1.3M2063.1 512.0h1.3M2001.9 527.1h1.3M2004.1 516.0h1.3M1981.6 522.8h1.3M2098.5 516.1h1.3M2081.3 543.1h1.3M2096.3 534.0h1.3M2157.6 526.9h1.3M2046.5 512.1h1.3M2070.3 522.1h1.3M2043.4 515.4h1.3M2063.7 548.3h1.3M2078.7 523.1h1.3M2065.1 520.2h1.3M2118.0 531.7h1.3M2030.4 528.0h1.3M2088.3 516.4h1.3M2067.3 525.7h1.3M2048.5 511.8h1.3M2115.4 514.9h1.3M2016.5 524.2h1.3M2107.2 523.1h1.3M2073.7 533.6h1.3M2138.7 507.8h1.3M2038.2 510.8h1.3M2130.8 502.9h1.3M2099.3 528.4h1.3M2031.8 521.1h1.3M2078.5 530.0h1.3M2094.2 510.3h1.3M2038.8 521.1h1.3M2078.5 511.0h1.3M2065.0 500.7h1.3M2057.0 542.8h1.3M1986.2 539.2h1.3M2079.9 501.7h1.3M2046.3 525.1h1.3M2083.6 500.2h1.3M2047.5 518.2h1.3M2048.1 542.7h1.3M2055.1 505.7h1.3M2034.3 529.3h1.3M2053.6 522.6h1.3M2091.8 507.7h1.3M2144.8 537.0h1.3M2052.1 526.2h1.3M2044.6 508.7h1.3M2057.2 531.0h1.3M2026.9 532.4h1.3M2008.7 520.4h1.3M2090.4 513.5h1.3M2036.3 558.3h1.3M2123.0 540.2h1.3M2036.2 544.4h1.3M2039.9 503.5h1.3M2062.4 527.3h1.3M2038.7 530.5h1.3M2072.7 522.0h1.3M2013.5 523.7h1.3M2083.2 515.7h1.3M2100.8 516.6h1.3M2073.1 519.2h1.3M2023.0 515.1h1.3M2029.6 534.0h1.3M2111.5 508.0h1.3M2108.6 514.0h1.3M2081.3 534.4h1.3M2054.0 531.0h1.3M2149.3 535.3h1.3M2037.7 518.1h1.3M2057.1 522.2h1.3M2078.8 511.6h1.3M2027.9 530.9h1.3M2058.2 541.3h1.3M2030.1 528.9h1.3M2067.3 510.1h1.3M2072.6 517.8h1.3M2044.0 524.2h1.3M2093.1 525.0h1.3M2021.8 515.5h1.3M2050.8 512.1h1.3M2105.2 511.5h1.3M2016.2 541.6h1.3M2074.3 527.1h1.3M2040.1 492.9h1.3M2100.4 531.5h1.3M2081.5 523.3h1.3M2104.0 529.6h1.3M2029.9 505.2h1.3M2075.5 514.6h1.3M2092.5 532.3h1.3M1990.3 529.5h1.3M2094.8 531.1h1.3M2041.7 540.3h1.3M2034.7 507.7h1.3M2039.0 517.7h1.3M2035.6 519.8h1.3M2059.5 541.1h1.3M2113.1 519.5h1.3M2048.6 528.1h1.3M1981.6 510.9h1.3M2045.7 510.1h1.3M2075.8 525.0h1.3M2113.1 534.4h1.3M2127.4 545.5h1.3M2070.9 497.6h1.3M2042.1 538.1h1.3M2003.2 526.1h1.3M2086.8 535.0h1.3M2063.5 536.1h1.3M2073.3 532.8h1.3M2081.3 531.5h1.3M2071.4 509.3h1.3M2039.5 521.0h1.3M2032.0 516.4h1.3M2081.1 524.0h1.3M2045.1 515.7h1.3M2102.2 527.8h1.3M2012.2 527.8h1.3M2071.5 500.0h1.3M2119.6 528.6h1.3M2041.3 517.8h1.3M2083.0 501.1h1.3M2067.0 500.3h1.3M2034.5 520.1h1.3M2032.9 510.7h1.3M2009.9 511.3h1.3M2016.3 524.4h1.3M2111.0 519.2h1.3M2012.6 531.8h1.3M2047.3 531.9h1.3M2103.6 523.9h1.3M2041.4 512.9h1.3M1988.0 517.5h1.3M2010.6 521.3h1.3M2048.6 518.2h1.3M1999.0 533.9h1.3M2002.0 522.7h1.3M2073.9 523.7h1.3M2104.8 516.2h1.3M2029.0 526.2h1.3M2061.3 529.6h1.3M2040.4 504.6h1.3M2053.6 551.4h1.3M2028.0 548.2h1.3M2067.6 508.2h1.3M2028.1 510.6h1.3M1984.5 537.4h1.3M2089.8 524.9h1.3M2018.8 529.6h1.3M2076.4 535.4h1.3M1946.2 522.1h1.3M2036.1 520.3h1.3M2035.0 516.2h1.3M2001.5 513.8h1.3M2002.8 511.3h1.3M1995.4 513.6h1.3M1962.3 508.6h1.3M2010.1 521.6h1.3M1970.1 521.2h1.3M1998.5 529.7h1.3M2000.6 523.4h1.3M1993.5 507.8h1.3M2009.4 508.6h1.3M1975.5 518.6h1.3M2004.2 522.5h1.3M1976.0 521.5h1.3M2019.9 518.0h1.3M2007.3 511.7h1.3M1993.6 514.7h1.3M1995.5 515.2h1.3M1966.2 517.7h1.3M2019.5 517.8h1.3M1993.0 521.8h1.3M1986.8 518.3h1.3M1996.4 515.8h1.3M2017.9 515.0h1.3M2009.1 520.9h1.3M2010.7 522.3h1.3M2018.7 520.2h1.3M1995.4 524.8h1.3M2022.4 516.5h1.3M1988.3 508.7h1.3M1996.9 522.8h1.3M2026.2 532.9h1.3M1995.1 526.1h1.3M2010.5 522.4h1.3M2004.7 506.0h1.3M1974.9 517.2h1.3M2017.8 518.7h1.3M1995.6 515.5h1.3M1979.3 510.2h1.3M2006.5 519.9h1.3M2013.1 511.4h1.3M2015.8 522.5h1.3M2146.6 487.5h1.3M1971.9 443.9h1.3M2087.0 488.9h1.3M2039.1 471.8h1.3M1982.1 462.8h1.3M1963.2 442.5h1.3M2011.9 472.5h1.3M1986.3 482.7h1.3M1997.1 484.1h1.3M2051.8 348.9h1.3M1961.3 343.9h1.3M2011.6 431.3h1.3" stroke="#7f93dd" stroke-width="1.3" fill="none"/>
<g filter="url(#grain)">
<ellipse cx="2013.8" cy="520.4" rx="72" ry="15" fill="url(#gCyan)"/>
<ellipse cx="2063.8" cy="520.9" rx="68" ry="22" fill="url(#gHot)"/>
<ellipse cx="1959.8" cy="519.9" rx="17" ry="20" fill="url(#gWarm)"/>
</g>
<line x1="1977.8999999999999" y1="319.4" x2="1977.8999999999999" y2="572.4" stroke="#000" stroke-width="1.7"/>
<line x1="1913.8" y1="490.59999999999997" x2="2166.2" y2="490.59999999999997" stroke="#000" stroke-width="1.7"/>
<rect x="1913.8" y="319.4" width="252.4" height="253.0" fill="none" stroke="#828282" stroke-width="1.15"/>
<text x="1918.3" y="337.59999999999997" font-size="22" text-anchor="start" fill="#1a1a1a">0.030</text>
<text x="2155.8999999999996" y="337.59999999999997" font-size="22" text-anchor="end" fill="#1a1a1a">0.061</text>
<text x="1918.3" y="559.1" font-size="22" text-anchor="start" fill="#1a1a1a">8.85</text>
<text x="2153.2" y="559.1" font-size="22" text-anchor="end" fill="#1a1a1a">91.1</text>
</g>
<path d="M1485.3 572.4v3.6M1499.4 572.4v3.6M1510.2 572.4v3.6M1518.0 572.4v5M1524.5 572.4v3.6M1530.1 572.4v3.6M1534.7 572.4v3.6M1539.5 572.4v3.6M1566.9 572.4v3.6M1580.7 572.4v3.6M1590.6 572.4v3.6M1598.2 572.4v5M1604.4 572.4v3.6M1609.7 572.4v3.6M1614.3 572.4v3.6M1618.3 572.4v3.6M1644.3 572.4v3.6M1405.2 572.4v3.6M1426.6 572.4v3.4M1429.0 572.4v4.6M1431.3 572.4v4.6M1433.7 572.4v4.6M1436.0 572.4v4.6M1438.4 572.4v3.4M1440.7 572.4v3.4M1443.1 572.4v4.6M1445.4 572.4v4.6M1447.8 572.4v4.6M1450.1 572.4v4.6M1452.5 572.4v3.4M1454.8 572.4v3.4M1457.2 572.4v4.6M1459.5 572.4v4.6M1461.9 572.4v4.6M1464.2 572.4v4.6M1466.6 572.4v3.4" stroke="#111" stroke-width="1.5" fill="none"/>
<path d="M1543.2 572.4v7.5M1621.9 572.4v7.5M1424.3 572.4v7.5M1467.6 572.4v7.5" stroke="#111" stroke-width="2" fill="none"/>
<rect x="1442.0" y="572.4" width="5.5" height="7.5" fill="#111"/>
<text x="1445.0" y="602.4" font-size="22" text-anchor="middle" fill="#1a1a1a">0</text>
<text x="1543.5" y="602.4" font-size="22" text-anchor="middle" fill="#1a1a1a">10<tspan dy="-7.8" font-size="12.5">3</tspan></text>
<text x="1623.9" y="602.4" font-size="22" text-anchor="middle" fill="#1a1a1a">10<tspan dy="-7.8" font-size="12.5">4</tspan></text>
<path d="M1740.9 572.4v3.6M1755.0 572.4v3.6M1765.8 572.4v3.6M1773.6 572.4v5M1780.1 572.4v3.6M1785.7 572.4v3.6M1790.3 572.4v3.6M1795.1 572.4v3.6M1822.5 572.4v3.6M1836.3 572.4v3.6M1846.2 572.4v3.6M1853.8 572.4v5M1860.0 572.4v3.6M1865.3 572.4v3.6M1869.9 572.4v3.6M1873.9 572.4v3.6M1899.9 572.4v3.6M1660.8 572.4v3.6M1682.2 572.4v3.4M1684.5 572.4v4.6M1686.9 572.4v4.6M1689.2 572.4v4.6M1691.6 572.4v4.6M1694.0 572.4v3.4M1696.3 572.4v3.4M1698.7 572.4v4.6M1701.0 572.4v4.6M1703.3 572.4v4.6M1705.7 572.4v4.6M1708.0 572.4v3.4M1710.4 572.4v3.4M1712.8 572.4v4.6M1715.1 572.4v4.6M1717.5 572.4v4.6M1719.8 572.4v4.6M1722.2 572.4v3.4" stroke="#111" stroke-width="1.5" fill="none"/>
<path d="M1798.8 572.4v7.5M1877.5 572.4v7.5M1679.9 572.4v7.5M1723.2 572.4v7.5" stroke="#111" stroke-width="2" fill="none"/>
<rect x="1697.6" y="572.4" width="5.5" height="7.5" fill="#111"/>
<text x="1700.6" y="602.4" font-size="22" text-anchor="middle" fill="#1a1a1a">0</text>
<text x="1799.1" y="602.4" font-size="22" text-anchor="middle" fill="#1a1a1a">10<tspan dy="-7.8" font-size="12.5">3</tspan></text>
<text x="1879.5" y="602.4" font-size="22" text-anchor="middle" fill="#1a1a1a">10<tspan dy="-7.8" font-size="12.5">4</tspan></text>
<path d="M1997.7 572.4v3.6M2011.8 572.4v3.6M2022.6 572.4v3.6M2030.4 572.4v5M2036.9 572.4v3.6M2042.5 572.4v3.6M2047.1 572.4v3.6M2051.9 572.4v3.6M2079.3 572.4v3.6M2093.1 572.4v3.6M2103.0 572.4v3.6M2110.6 572.4v5M2116.8 572.4v3.6M2122.1 572.4v3.6M2126.7 572.4v3.6M2130.7 572.4v3.6M2156.7 572.4v3.6M1917.6 572.4v3.6M1939.0 572.4v3.4M1941.3 572.4v4.6M1943.7 572.4v4.6M1946.0 572.4v4.6M1948.4 572.4v4.6M1950.8 572.4v3.4M1953.1 572.4v3.4M1955.5 572.4v4.6M1957.8 572.4v4.6M1960.1 572.4v4.6M1962.5 572.4v4.6M1964.8 572.4v3.4M1967.2 572.4v3.4M1969.5 572.4v4.6M1971.9 572.4v4.6M1974.2 572.4v4.6M1976.6 572.4v4.6M1979.0 572.4v3.4" stroke="#111" stroke-width="1.5" fill="none"/>
<path d="M2055.6 572.4v7.5M2134.3 572.4v7.5M1936.7 572.4v7.5M1980.0 572.4v7.5" stroke="#111" stroke-width="2" fill="none"/>
<rect x="1954.3999999999999" y="572.4" width="5.5" height="7.5" fill="#111"/>
<text x="1957.3999999999999" y="602.4" font-size="22" text-anchor="middle" fill="#1a1a1a">0</text>
<text x="2055.9" y="602.4" font-size="22" text-anchor="middle" fill="#1a1a1a">10<tspan dy="-7.8" font-size="12.5">3</tspan></text>
<text x="2136.3" y="602.4" font-size="22" text-anchor="middle" fill="#1a1a1a">10<tspan dy="-7.8" font-size="12.5">4</tspan></text>
<path d="M1401.4 218.0h-3.3M1401.4 201.0h-3.3M1401.4 188.3h-3.3M1401.4 178.8h-4.6M1401.4 169.3h-3.3M1401.4 162.5h-3.3M1401.4 157.6h-3.3M1401.4 152.8h-3.3M1401.4 120.2h-3.3M1401.4 103.9h-3.3M1401.4 92.3h-3.3M1401.4 83.4h-4.6M1401.4 76.0h-3.3M1401.4 69.8h-3.3M1401.4 243.4h-4.4M1401.4 246.2h-4.4M1401.4 248.9h-3.2M1401.4 251.7h-3.2M1401.4 254.4h-4.4M1401.4 257.1h-4.4M1401.4 259.9h-4.4M1401.4 262.6h-4.4M1401.4 265.4h-3.2M1401.4 268.1h-3.2M1401.4 270.9h-4.4M1401.4 273.6h-4.4M1401.4 276.4h-4.4M1401.4 279.1h-4.4M1401.4 281.9h-3.2M1401.4 284.6h-3.2M1401.4 287.4h-4.4M1401.4 290.1h-4.4M1401.4 292.9h-4.4M1401.4 295.6h-4.4M1401.4 298.4h-3.2" stroke="#111" stroke-width="1.5" fill="none"/>
<path d="M1401.4 148.1h-6.8M1401.4 240.8h-6.8M1401.4 300.9h-6.8" stroke="#111" stroke-width="2" fill="none"/>
<rect x="1395.0" y="268.1" width="6.4" height="6.4" fill="#111"/>
<text x="1391.2" y="157.6" font-size="22" text-anchor="end" fill="#1a1a1a">10<tspan dy="-7.8" font-size="12.5">3</tspan></text>
<text x="1391.2" y="248.60000000000002" font-size="22" text-anchor="end" fill="#1a1a1a">10<tspan dy="-7.8" font-size="12.5">2</tspan></text>
<text x="1385" y="279.8" font-size="22" text-anchor="end" fill="#1a1a1a">0</text>
<text x="1391.2" y="308.0" font-size="22" text-anchor="end" fill="#1a1a1a">-10<tspan dy="-7.8" font-size="12.5">2</tspan></text>
<path d="M1401.4 474.5h-3.3M1401.4 457.5h-3.3M1401.4 444.8h-3.3M1401.4 435.3h-4.6M1401.4 425.8h-3.3M1401.4 419.0h-3.3M1401.4 414.1h-3.3M1401.4 409.3h-3.3M1401.4 376.7h-3.3M1401.4 360.4h-3.3M1401.4 348.8h-3.3M1401.4 339.9h-4.6M1401.4 332.5h-3.3M1401.4 326.3h-3.3M1401.4 499.9h-4.4M1401.4 502.6h-4.4M1401.4 505.4h-3.2M1401.4 508.1h-3.2M1401.4 510.9h-4.4M1401.4 513.6h-4.4M1401.4 516.4h-4.4M1401.4 519.1h-4.4M1401.4 521.9h-3.2M1401.4 524.6h-3.2M1401.4 527.4h-4.4M1401.4 530.1h-4.4M1401.4 532.9h-4.4M1401.4 535.6h-4.4M1401.4 538.4h-3.2M1401.4 541.1h-3.2M1401.4 543.9h-4.4M1401.4 546.6h-4.4M1401.4 549.4h-4.4M1401.4 552.1h-4.4M1401.4 554.9h-3.2" stroke="#111" stroke-width="1.5" fill="none"/>
<path d="M1401.4 404.6h-6.8M1401.4 497.3h-6.8M1401.4 557.4h-6.8" stroke="#111" stroke-width="2" fill="none"/>
<rect x="1395.0" y="524.5999999999999" width="6.4" height="6.4" fill="#111"/>
<text x="1391.2" y="414.09999999999997" font-size="22" text-anchor="end" fill="#1a1a1a">10<tspan dy="-7.8" font-size="12.5">3</tspan></text>
<text x="1391.2" y="505.09999999999997" font-size="22" text-anchor="end" fill="#1a1a1a">10<tspan dy="-7.8" font-size="12.5">2</tspan></text>
<text x="1385" y="536.3" font-size="22" text-anchor="end" fill="#1a1a1a">0</text>
<text x="1391.2" y="564.5" font-size="22" text-anchor="end" fill="#1a1a1a">-10<tspan dy="-7.8" font-size="12.5">2</tspan></text>
<text x="1533.4" y="50.4" font-size="22" text-anchor="middle" fill="#1a1a1a">RNP Only</text>
<text x="1785.8" y="50.4" font-size="22" text-anchor="middle" fill="#1a1a1a">No Selection</text>
<text x="2037.9" y="50.4" font-size="22" text-anchor="middle" fill="#1a1a1a">TCR Depletion</text>
<text x="1908" y="16" font-size="22" text-anchor="middle" fill="#1a1a1a">RNP + HDRT</text>
<line x1="1684.4" y1="23.8" x2="2134.9" y2="23.8" stroke="#333" stroke-width="1.6"/>
<rect x="1343" y="60.6" width="4.5" height="1.4" fill="#444" stroke="none" stroke-width="1"/>
<text x="1304.8" y="185" font-size="22" text-anchor="middle" fill="#1a1a1a" transform="rotate(-90 1304.8 185)"><tspan font-style="italic">TRAC</tspan> Exon RNP</text>
<text x="1332.7" y="185" font-size="22" text-anchor="middle" fill="#1a1a1a" transform="rotate(-90 1332.7 185)">(Exon HDRT)</text>
<text x="1304.4" y="450.3" font-size="22.5" text-anchor="middle" fill="#1a1a1a" transform="rotate(-90 1304.4 450.3)"><tspan font-style="italic">TRAC</tspan> Intron RNP</text>
<text x="1331.7" y="453" font-size="22" text-anchor="middle" fill="#1a1a1a" transform="rotate(-90 1331.7 453)">(SEED HDRT)</text>
<path d="M1252.2 421V642.6H1471" fill="none" stroke="#222" stroke-width="2.4"/>
<path d="M1252.2 406.3L1261.6 422H1242.8Z" fill="#222"/>
<path d="M1486.5 642.6L1470.5 651.8V633.4Z" fill="#222"/>
<text x="1241.9" y="592.3" font-size="22" text-anchor="middle" fill="#1a1a1a" transform="rotate(-90 1241.9 592.3)">TCR – PE</text>
<text x="1257.6" y="671.6" font-size="22" text-anchor="start" fill="#1a1a1a" letter-spacing="-0.15">CAR – AF647</text>
<rect x="80.7" y="771.4" width="251.7" height="252.80000000000007" fill="none" stroke="#9a9a9a" stroke-width="1.5"/>
<path d="M80.7 793.9h-3.6M80.7 803.5h-3.6M80.7 813.1h-3.6M80.7 822.7h-3.6M80.7 841.8h-3.6M80.7 851.4h-3.6M80.7 861.0h-3.6M80.7 870.6h-3.6M80.7 889.8h-3.6M80.7 899.4h-3.6M80.7 908.9h-3.6M80.7 918.5h-3.6M80.7 937.7h-3.6M80.7 947.3h-3.6M80.7 956.9h-3.6M80.7 966.5h-3.6M80.7 985.6h-3.6M80.7 995.2h-3.6M80.7 1004.8h-3.6M80.7 1014.4h-3.6" stroke="#111" stroke-width="1.4" fill="none"/>
<path d="M80.7 784.3h-8M80.7 832.2h-8M80.7 880.2h-8M80.7 928.1h-8M80.7 976.1h-8M80.7 1024.0h-8" stroke="#111" stroke-width="2" fill="none"/>
<path d="M163.8 1024.2v3.6M177.9 1024.2v3.6M188.7 1024.2v3.6M196.5 1024.2v5M203.0 1024.2v3.6M208.6 1024.2v3.6M213.2 1024.2v3.6M218.0 1024.2v3.6M245.4 1024.2v3.6M259.2 1024.2v3.6M269.1 1024.2v3.6M276.7 1024.2v5M282.9 1024.2v3.6M288.2 1024.2v3.6M292.8 1024.2v3.6M296.8 1024.2v3.6M322.8 1024.2v3.6M83.7 1024.2v3.6M105.1 1024.2v3.4M107.5 1024.2v4.6M109.8 1024.2v4.6M112.2 1024.2v4.6M114.5 1024.2v4.6M116.9 1024.2v3.4M119.2 1024.2v3.4M121.6 1024.2v4.6M123.9 1024.2v4.6M126.3 1024.2v4.6M128.6 1024.2v4.6M131.0 1024.2v3.4M133.3 1024.2v3.4M135.7 1024.2v4.6M138.0 1024.2v4.6M140.4 1024.2v4.6M142.7 1024.2v4.6M145.1 1024.2v3.4" stroke="#111" stroke-width="1.5" fill="none"/>
<path d="M221.7 1024.2v7.5M300.4 1024.2v7.5M102.8 1024.2v7.5M146.1 1024.2v7.5" stroke="#111" stroke-width="2" fill="none"/>
<rect x="120.5" y="1024.2" width="5.5" height="7.5" fill="#111"/>
<path d="M140.0 1023.8 L142.5 1016.0 L145.5 1011.5 L147.8 1010.2 L150.0 1010.0 L151.7 1009.5 L153.3 1010.7 L155.0 1011.2 L156.7 1010.7 L158.3 1009.5 L160.0 1010.5 L161.7 1010.9 L163.3 1010.1 L165.0 1010.8 L166.7 1010.5 L168.3 1011.7 L170.0 1011.0 L171.7 1011.9 L173.3 1010.5 L175.0 1011.7 L176.7 1012.4 L178.3 1012.3 L180.0 1011.5 L181.7 1010.4 L183.3 1011.8 L185.0 1012.0 L186.7 1011.2 L188.3 1011.7 L190.0 1010.5 L191.7 1009.4 L193.3 1009.2 L195.0 1010.8 L196.7 1009.7 L198.3 1008.7 L200.0 1009.0 L201.8 1009.2 L203.5 1007.6 L205.2 1006.6 L207.0 1007.0 L208.7 1006.3 L210.3 1004.0 L212.0 1003.0 L214.0 999.9 L216.0 996.0 L218.0 992.0 L220.0 988.0 L222.0 980.3 L224.0 972.7 L226.0 965.0 L228.0 955.3 L230.0 945.7 L232.0 936.0 L234.0 924.0 L236.0 912.0 L238.0 900.0 L239.7 889.3 L241.3 878.7 L243.0 868.0 L245.0 856.5 L247.0 845.0 L250.0 822.0 L253.0 808.0 L255.0 800.0 L257.0 790.0 L259.0 796.0 L261.0 806.0 L263.0 822.0 L266.0 850.0 L268.0 870.0 L270.0 890.0 L272.0 910.0 L274.0 930.0 L276.0 949.0 L278.0 968.0 L280.0 981.5 L282.0 995.0 L284.0 1002.5 L286.0 1010.0 L287.7 1012.7 L289.3 1015.3 L291.0 1018.0 L292.8 1019.1 L294.5 1020.2 L296.2 1021.4 L298.0 1022.5 L299.6 1022.6 L301.2 1022.6 L302.9 1022.7 L304.5 1022.7 L306.1 1022.8 L307.7 1022.9 L309.3 1022.9 L311.0 1023.0 L312.6 1023.1 L314.2 1023.1 L315.8 1023.2 L317.4 1023.2 L319.0 1023.3 L320.7 1023.4 L322.3 1023.4 L323.9 1023.5 L325.5 1023.6 L327.1 1023.6 L328.8 1023.7 L330.4 1023.7 L332.0 1023.8" fill="none" stroke="#6cc5dc" stroke-width="1.6" stroke-linejoin="round"/>
<path d="M140 1023.8 L142 1008 L145 992 L148 994 L151 993.5 L154 997 L158 1000 L162 1002.5 L166 1003 L170 1006 L175 1007 L179 1009 L183 1007 L188 1008.5 L192 1006.5 L197 1007 L202 1006 L207 1003 L211 999 L215 991 L219 984 L224 962 L229 938 L234 905 L238 880 L241.5 860 L244 848 L246 846 L248 828 L250 808 L252 798 L254 795 L255.5 790 L257 785 L258.5 794 L260 806 L261.5 809 L263 824 L266 852 L270 892 L274 932 L278 970 L282 998 L286 1011 L291 1018.5 L298 1022.5 L332 1023.8" fill="none" stroke="#d93a2b" stroke-width="1.6" stroke-linejoin="round"/>
<path d="M80.7 1024.0 L108.0 1023.6 L108.5 1023.3 L109.1 1023.0 L109.7 1022.4 L110.2 1021.7 L110.8 1020.6 L111.3 1019.1 L111.8 1017.1 L112.4 1014.4 L113.0 1010.8 L113.5 1006.2 L114.0 1000.3 L114.6 993.1 L115.2 984.3 L115.7 973.8 L116.2 961.6 L116.8 947.7 L117.3 932.2 L117.9 915.3 L118.5 897.4 L119.0 878.9 L119.5 860.5 L120.1 842.7 L120.7 826.2 L121.2 811.7 L121.8 799.8 L122.3 791.2 L122.8 786.1 L123.4 784.9 L124.0 787.5 L124.5 793.9 L125.0 803.8 L125.6 816.7 L126.2 832.0 L126.7 849.0 L127.2 867.1 L127.8 885.7 L128.3 904.0 L128.9 921.6 L129.4 938.0 L130.0 952.9 L130.6 966.3 L131.1 977.8 L131.7 987.7 L132.2 995.9 L132.8 1002.6 L133.3 1008.0 L133.8 1012.2 L134.4 1015.5 L134.9 1017.9 L135.5 1019.7 L136.1 1021.1 L136.6 1022.0 L137.2 1022.7 L137.7 1023.1 L138.2 1023.4 L138.8 1023.6 L139.3 1023.8 L139.9 1023.9 L140.4 1023.9 L141.0 1023.9 L332.4 1024.0" fill="none" stroke="#e8963c" stroke-width="1.6" stroke-linejoin="round"/>
<text x="131.7" y="1049.8" font-size="22" text-anchor="middle" fill="#1a1a1a">0</text>
<text x="237.6" y="1049.8" font-size="22" text-anchor="middle" fill="#1a1a1a">10<tspan dy="-7.8" font-size="12.5">3</tspan></text>
<text x="314.3" y="1049.8" font-size="22" text-anchor="middle" fill="#1a1a1a">10<tspan dy="-7.8" font-size="12.5">4</tspan></text>
<text x="127.6" y="1080.4" font-size="22" text-anchor="start" fill="#1a1a1a" letter-spacing="-0.15">CAR – AF647</text>
<rect x="32.4" y="1177.3" width="26.9" height="26.4" fill="#fff" stroke="#e8963c" stroke-width="4"/>
<text x="70.1" y="1199.4" font-size="22" text-anchor="start" fill="#222">Unedited T Cells</text>
<rect x="32.4" y="1212.5" width="26.9" height="26.4" fill="#fff" stroke="#d93a2b" stroke-width="4"/>
<text x="70.1" y="1234.5" font-size="22" text-anchor="start" fill="#222">sgRNA e1 (CAR<tspan dy="-8" font-size="13">+</tspan><tspan dy="8"> TCR</tspan><tspan dy="-8" font-size="13">−</tspan><tspan dy="8">)</tspan></text>
<rect x="32.4" y="1247" width="26.9" height="26.4" fill="#fff" stroke="#6cc5dc" stroke-width="4"/>
<text x="70.1" y="1268.2" font-size="22" text-anchor="start" fill="#222">sgRNA i5 (CAR<tspan dy="-8" font-size="13">+</tspan><tspan dy="8"> TCR</tspan><tspan dy="-8" font-size="13">−</tspan><tspan dy="8">)</tspan></text>
<rect x="594.2" y="879.1" width="74.9" height="153.39999999999998" fill="#696867" stroke="none" stroke-width="1"/>
<rect x="706.7" y="870.8" width="75.2" height="161.70000000000005" fill="#b1b1b2" stroke="none" stroke-width="1"/>
<rect x="556.6" y="774.8" width="377.1" height="257.70000000000005" fill="none" stroke="#1a1a1a" stroke-width="1.8"/>
<line x1="548.2" y1="1032.5" x2="556.6" y2="1032.5" stroke="#1a1a1a" stroke-width="1.8"/>
<text x="539" y="1040.3" font-size="22" text-anchor="end" fill="#1a1a1a">0</text>
<line x1="548.2" y1="946.6" x2="556.6" y2="946.6" stroke="#1a1a1a" stroke-width="1.8"/>
<text x="539" y="954.4" font-size="22" text-anchor="end" fill="#1a1a1a">1000</text>
<line x1="548.2" y1="860.6999999999999" x2="556.6" y2="860.6999999999999" stroke="#1a1a1a" stroke-width="1.8"/>
<text x="539" y="868.4999999999999" font-size="22" text-anchor="end" fill="#1a1a1a">2000</text>
<line x1="548.2" y1="774.8" x2="556.6" y2="774.8" stroke="#1a1a1a" stroke-width="1.8"/>
<text x="539" y="782.5999999999999" font-size="22" text-anchor="end" fill="#1a1a1a">3000</text>
<line x1="631.5" y1="1032.5" x2="631.5" y2="1041" stroke="#1a1a1a" stroke-width="1.8"/>
<line x1="744.3" y1="1032.5" x2="744.3" y2="1041" stroke="#1a1a1a" stroke-width="1.8"/>
<line x1="857.7" y1="1032.5" x2="857.7" y2="1041" stroke="#1a1a1a" stroke-width="1.8"/>
<line x1="933.7" y1="1032.5" x2="933.7" y2="1036.5" stroke="#1a1a1a" stroke-width="1.8"/>
<circle cx="631.5" cy="844.8" r="6.6" fill="#000" stroke="none" stroke-width="1"/>
<circle cx="631.5" cy="913.9" r="6.6" fill="#000" stroke="none" stroke-width="1"/>
<circle cx="744.3" cy="839.6" r="6.6" fill="#000" stroke="none" stroke-width="1"/>
<circle cx="744.3" cy="902" r="6.6" fill="#000" stroke="none" stroke-width="1"/>
<circle cx="844.8" cy="1032.5" r="6.6" fill="#000" stroke="none" stroke-width="1"/>
<circle cx="869.9" cy="1032.5" r="6.6" fill="#000" stroke="none" stroke-width="1"/>
<text x="631.5" y="1071" font-size="22" text-anchor="middle" fill="#1a1a1a">e1</text>
<text x="744.3" y="1071" font-size="22" text-anchor="middle" fill="#1a1a1a">i5</text>
<text x="857.8" y="1071" font-size="22" text-anchor="middle" fill="#1a1a1a">Unedited</text>
<text x="745.3" y="1109.2" font-size="22" text-anchor="middle" fill="#444">Editing Condition</text>
<text x="456.7" y="908" font-size="22" text-anchor="middle" font-weight="bold" fill="#1a1a1a" transform="rotate(-90 456.7 908)" letter-spacing="-0.2">CAR MFI – AF647</text>
<rect x="1478.3" y="1149.5" width="115" height="56.5" fill="#f0f0f0" stroke="none" stroke-width="1"/>
<rect x="1357.2" y="910.8" width="34" height="238.70000000000005" fill="#dcdcdc" stroke="none" stroke-width="1"/>
<rect x="1408.2" y="892.9" width="34" height="256.6" fill="#3e7db6" stroke="none" stroke-width="1"/>
<rect x="1492.2" y="966.1" width="34" height="183.39999999999998" fill="#dcdcdc" stroke="none" stroke-width="1"/>
<rect x="1543.2" y="836.3" width="34" height="313.20000000000005" fill="#3e7db6" stroke="none" stroke-width="1"/>
<line x1="1340.7" y1="806.2" x2="1340.7" y2="1149.5" stroke="#9a9a9a" stroke-width="1.6"/>
<line x1="1332.4" y1="1149.5" x2="1593.3" y2="1149.5" stroke="#9a9a9a" stroke-width="1.6"/>
<line x1="1332.4" y1="1149.5" x2="1340.7" y2="1149.5" stroke="#9a9a9a" stroke-width="1.6"/>
<text x="1325" y="1158.5" font-size="22" text-anchor="end" fill="#1a1a1a">0</text>
<line x1="1332.4" y1="1080.84" x2="1340.7" y2="1080.84" stroke="#9a9a9a" stroke-width="1.6"/>
<text x="1325" y="1089.84" font-size="22" text-anchor="end" fill="#1a1a1a">20</text>
<line x1="1332.4" y1="1012.1800000000001" x2="1340.7" y2="1012.1800000000001" stroke="#9a9a9a" stroke-width="1.6"/>
<text x="1325" y="1021.1800000000001" font-size="22" text-anchor="end" fill="#1a1a1a">40</text>
<line x1="1332.4" y1="943.52" x2="1340.7" y2="943.52" stroke="#9a9a9a" stroke-width="1.6"/>
<text x="1325" y="952.52" font-size="22" text-anchor="end" fill="#1a1a1a">60</text>
<line x1="1332.4" y1="874.86" x2="1340.7" y2="874.86" stroke="#9a9a9a" stroke-width="1.6"/>
<text x="1325" y="883.86" font-size="22" text-anchor="end" fill="#1a1a1a">80</text>
<line x1="1332.4" y1="806.2" x2="1340.7" y2="806.2" stroke="#9a9a9a" stroke-width="1.6"/>
<text x="1325" y="815.2" font-size="22" text-anchor="end" fill="#1a1a1a">100</text>
<circle cx="1373.8" cy="904.3" r="6.6" fill="#000" stroke="none" stroke-width="1"/>
<circle cx="1373.8" cy="917.3" r="6.6" fill="#000" stroke="none" stroke-width="1"/>
<circle cx="1424.7" cy="885.5" r="6.6" fill="#000" stroke="none" stroke-width="1"/>
<circle cx="1424.7" cy="899.5" r="6.6" fill="#000" stroke="none" stroke-width="1"/>
<circle cx="1498.8" cy="969.6" r="6.6" fill="#000" stroke="none" stroke-width="1"/>
<circle cx="1518.8" cy="961.3" r="6.6" fill="#000" stroke="none" stroke-width="1"/>
<circle cx="1549.7" cy="837.6" r="6.6" fill="#000" stroke="none" stroke-width="1"/>
<circle cx="1569.4" cy="834.6" r="6.6" fill="#000" stroke="none" stroke-width="1"/>
<text x="1453.9" y="754" font-size="22" text-anchor="middle" font-weight="bold" fill="#1a1a1a" letter-spacing="-0.9">% Purity</text>
<text x="1453.9" y="781" font-size="22" text-anchor="middle" font-weight="bold" fill="#1a1a1a" letter-spacing="-1">(CAR<tspan dy="-8" font-size="13">+</tspan><tspan dy="8">|TCR</tspan><tspan dy="-8" font-size="13">−</tspan><tspan dy="8">)</tspan></text>
<text x="1399.5" y="1169.5" font-size="22" text-anchor="middle" fill="#2c2c2c">Exon</text>
<text x="1399.5" y="1197" font-size="22" text-anchor="middle" fill="#2c2c2c">HDRT</text>
<text x="1534.5" y="1169.5" font-size="22" text-anchor="middle" fill="#2c2c2c">SEED</text>
<text x="1534.5" y="1197" font-size="22" text-anchor="middle" fill="#2c2c2c">HDRT</text>
<text x="1260" y="978" font-size="22" text-anchor="middle" font-weight="bold" fill="#1a1a1a" transform="rotate(-90 1260 978)" letter-spacing="-0.7">CAR<tspan dy="-8" font-size="13">+</tspan><tspan dy="8">|TCR</tspan><tspan dy="-8" font-size="13">−</tspan><tspan dy="8"> (%)</tspan></text>
<rect x="1301.5" y="1236.2" width="31.8" height="31.3" fill="#d9d9d9" stroke="none" stroke-width="1"/>
<rect x="1497.5" y="1236.2" width="31.8" height="31.3" fill="#3e7db6" stroke="none" stroke-width="1"/>
<text x="1357.2" y="1258.8" font-size="22" text-anchor="start" fill="#222" letter-spacing="-0.8" stroke="#222" stroke-width="0.45">No Selection</text>
<text x="1553.2" y="1258.8" font-size="22" text-anchor="start" fill="#222" letter-spacing="-0.8" stroke="#222" stroke-width="0.45">Selection</text>
<rect x="1935.3" y="1149.5" width="106.3" height="56.5" fill="#f0f0f0" stroke="none" stroke-width="1"/>
<rect x="1846" y="967.4" width="70.6" height="182.10000000000002" fill="#dcdcdc" stroke="none" stroke-width="1"/>
<rect x="1952.3" y="860.3" width="71" height="289.20000000000005" fill="#3e7db6" stroke="none" stroke-width="1"/>
<line x1="1810.3" y1="810.2" x2="1810.3" y2="1149.5" stroke="#9a9a9a" stroke-width="1.6"/>
<line x1="1802.4" y1="1149.5" x2="2041.6" y2="1149.5" stroke="#9a9a9a" stroke-width="1.6"/>
<line x1="1802.4" y1="1149.5" x2="1810.3" y2="1149.5" stroke="#9a9a9a" stroke-width="1.6"/>
<text x="1793.8" y="1158.5" font-size="22" text-anchor="end" fill="#1a1a1a">0.0</text>
<line x1="1802.4" y1="1064.675" x2="1810.3" y2="1064.675" stroke="#9a9a9a" stroke-width="1.6"/>
<text x="1793.8" y="1073.675" font-size="22" text-anchor="end" fill="#1a1a1a">0.5</text>
<line x1="1802.4" y1="979.85" x2="1810.3" y2="979.85" stroke="#9a9a9a" stroke-width="1.6"/>
<text x="1793.8" y="988.85" font-size="22" text-anchor="end" fill="#1a1a1a">1.0</text>
<line x1="1802.4" y1="895.0250000000001" x2="1810.3" y2="895.0250000000001" stroke="#9a9a9a" stroke-width="1.6"/>
<text x="1793.8" y="904.0250000000001" font-size="22" text-anchor="end" fill="#1a1a1a">1.5</text>
<line x1="1802.4" y1="810.2" x2="1810.3" y2="810.2" stroke="#9a9a9a" stroke-width="1.6"/>
<text x="1793.8" y="819.2" font-size="22" text-anchor="end" fill="#1a1a1a">2.0</text>
<circle cx="1881.3" cy="957.4" r="6.6" fill="#000" stroke="none" stroke-width="1"/>
<circle cx="1881.3" cy="977.4" r="6.6" fill="#000" stroke="none" stroke-width="1"/>
<circle cx="1974.9" cy="865.5" r="6.6" fill="#000" stroke="none" stroke-width="1"/>
<circle cx="2000.6" cy="855.5" r="6.6" fill="#000" stroke="none" stroke-width="1"/>
<text x="1908.6" y="752.9" font-size="22.6" text-anchor="middle" font-weight="bold" fill="#222">Fold-Enrichment</text>
<text x="1910.9" y="779.2" font-size="22" text-anchor="middle" font-weight="bold" fill="#222">(CAR<tspan dy="-8" font-size="13">+</tspan><tspan dy="8">|TCR</tspan><tspan dy="-8" font-size="13">−</tspan><tspan dy="8">)</tspan></text>
<text x="1878.7" y="1169.5" font-size="22" text-anchor="middle" fill="#2c2c2c">Exon</text>
<text x="1878.7" y="1197" font-size="22" text-anchor="middle" fill="#2c2c2c">HDRT</text>
<text x="1988.9" y="1169.5" font-size="22" text-anchor="middle" fill="#2c2c2c">SEED</text>
<text x="1988.9" y="1197" font-size="22" text-anchor="middle" fill="#2c2c2c">HDRT</text>
<text x="1714.4" y="983" font-size="22" text-anchor="middle" font-weight="bold" fill="#1a1a1a" transform="rotate(-90 1714.4 983)">Selection : No-Selection</text>
</svg>
</body></html>
